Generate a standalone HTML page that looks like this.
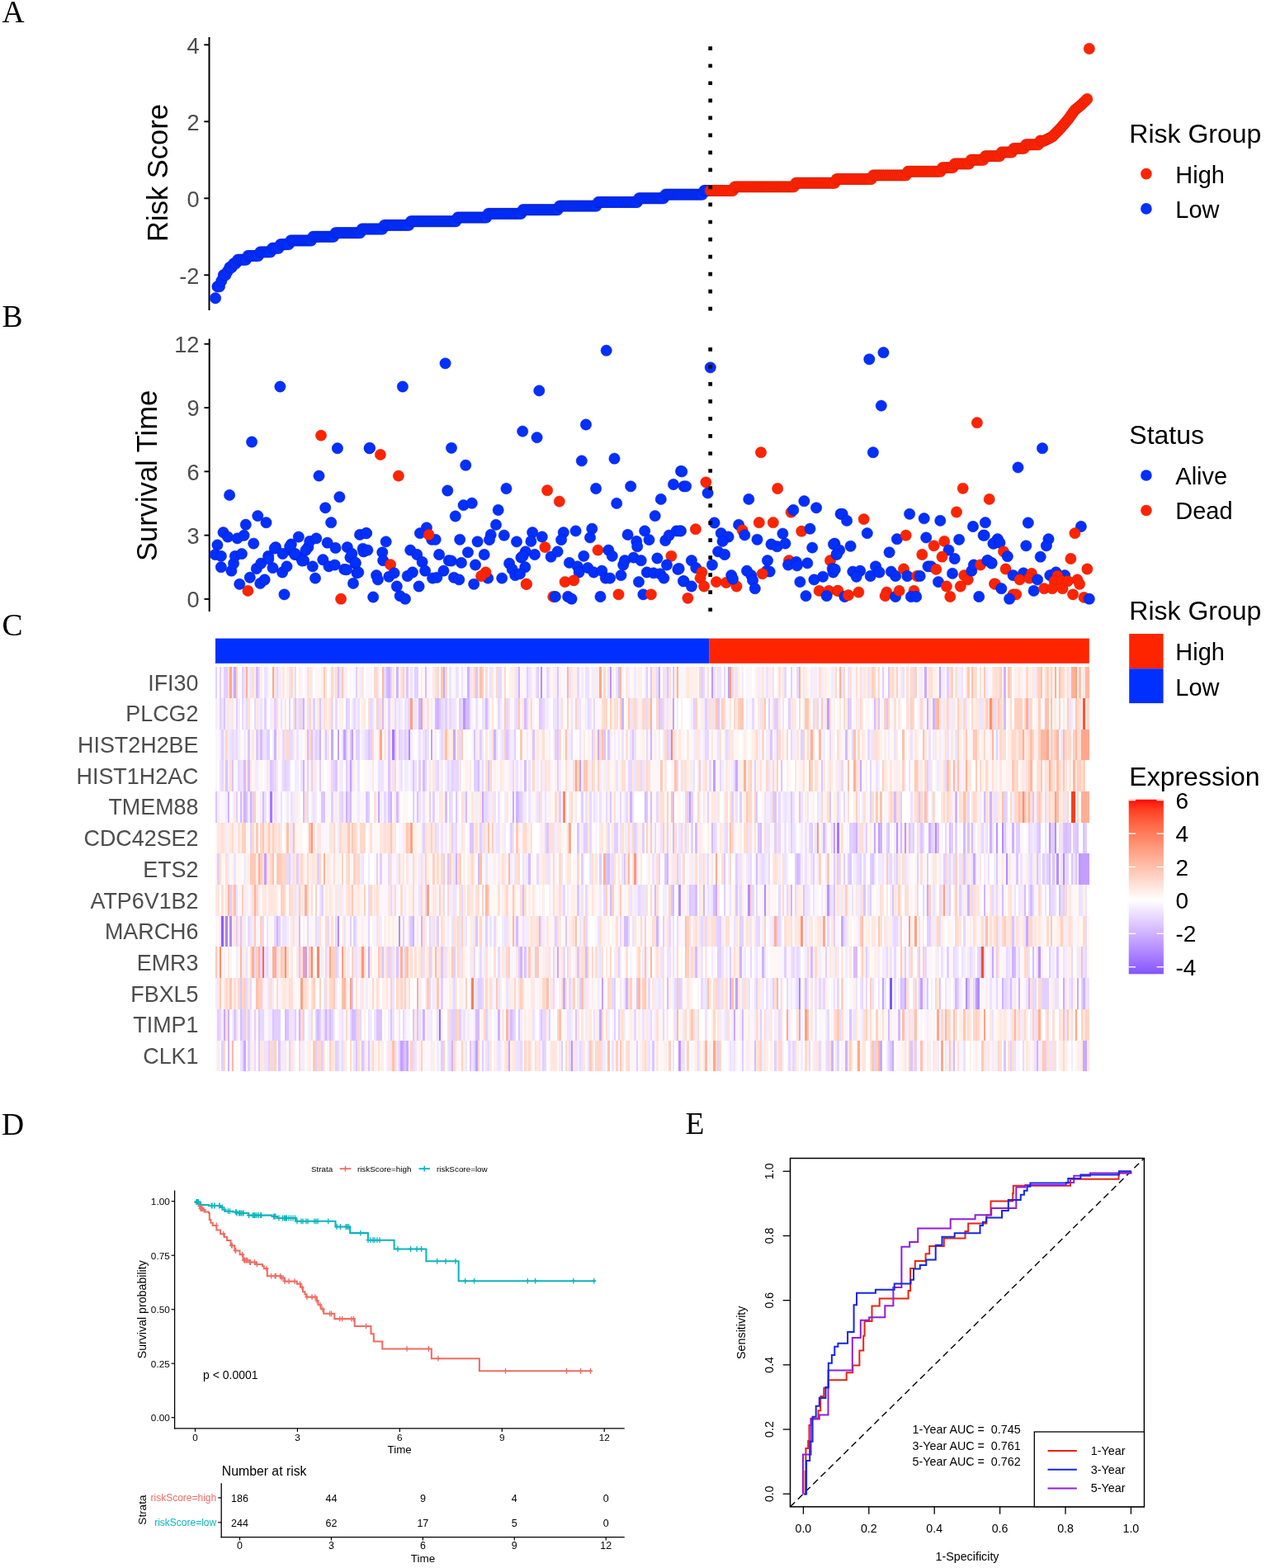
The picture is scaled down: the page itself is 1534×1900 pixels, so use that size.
<!DOCTYPE html>
<html><head><meta charset="utf-8"><title>Risk model figure</title>
<style>html,body{margin:0;padding:0;background:#fff;overflow:hidden;width:1534px;height:1900px;}svg{display:block;}.pb{fill:#0030ff;stroke:#0818b8;stroke-width:0.7;stroke-opacity:0.7}.pr{fill:#ff2400;stroke:#c01800;stroke-width:0.7;stroke-opacity:0.6}</style></head>
<body><svg width="1534" height="1900" viewBox="0 0 1534 1900">
<rect width="1534" height="1900" fill="#fff"/>
<text x="2.5" y="27" font-size="37.5" fill="#000" text-anchor="start" font-family="'Liberation Serif', 'Times New Roman', serif">A</text>
<text x="2.5" y="396.1" font-size="37.5" fill="#000" text-anchor="start" font-family="'Liberation Serif', 'Times New Roman', serif">B</text>
<text x="2.5" y="769.8" font-size="37.5" fill="#000" text-anchor="start" font-family="'Liberation Serif', 'Times New Roman', serif">C</text>
<text x="2" y="1374.6" font-size="37.5" fill="#000" text-anchor="start" font-family="'Liberation Serif', 'Times New Roman', serif">D</text>
<text x="830.5" y="1374.3" font-size="37.5" fill="#000" text-anchor="start" font-family="'Liberation Serif', 'Times New Roman', serif">E</text>
<line x1="253.5" y1="45" x2="253.5" y2="376" stroke="#000" stroke-width="2"/>
<line x1="247.3" y1="54.3" x2="253.5" y2="54.3" stroke="#000" stroke-width="1.9"/>
<text x="241.5" y="64.5" font-size="27.2" fill="#4d4d4d" text-anchor="end" font-family="'Liberation Sans', Arial, Helvetica, sans-serif">4</text>
<line x1="247.3" y1="147.3" x2="253.5" y2="147.3" stroke="#000" stroke-width="1.9"/>
<text x="241.5" y="157.5" font-size="27.2" fill="#4d4d4d" text-anchor="end" font-family="'Liberation Sans', Arial, Helvetica, sans-serif">2</text>
<line x1="247.3" y1="240.3" x2="253.5" y2="240.3" stroke="#000" stroke-width="1.9"/>
<text x="241.5" y="250.5" font-size="27.2" fill="#4d4d4d" text-anchor="end" font-family="'Liberation Sans', Arial, Helvetica, sans-serif">0</text>
<line x1="247.3" y1="333.3" x2="253.5" y2="333.3" stroke="#000" stroke-width="1.9"/>
<text x="241.5" y="343.5" font-size="27.2" fill="#4d4d4d" text-anchor="end" font-family="'Liberation Sans', Arial, Helvetica, sans-serif">-2</text>
<text x="202.7" y="209.5" font-size="34.5" fill="#000" text-anchor="middle" font-family="'Liberation Sans', Arial, Helvetica, sans-serif" transform="rotate(-90 202.7 209.5)">Risk Score</text>
<g>
<circle class="pb" cx="261" cy="361.2" r="6.7"/>
<circle class="pb" cx="263.47" cy="347.25" r="6.7"/>
<circle class="pb" cx="265.94" cy="347.25" r="6.7"/>
<circle class="pb" cx="268.4" cy="340.27" r="6.7"/>
<circle class="pb" cx="270.87" cy="333.3" r="6.7"/>
<circle class="pb" cx="273.34" cy="333.3" r="6.7"/>
<circle class="pb" cx="275.81" cy="328.65" r="6.7"/>
<circle class="pb" cx="278.28" cy="324" r="6.7"/>
<circle class="pb" cx="280.74" cy="324" r="6.7"/>
<circle class="pb" cx="283.21" cy="319.35" r="6.7"/>
<circle class="pb" cx="285.68" cy="319.35" r="6.7"/>
<circle class="pb" cx="288.15" cy="314.7" r="6.7"/>
<circle class="pb" cx="290.62" cy="314.7" r="6.7"/>
<circle class="pb" cx="293.08" cy="314.7" r="6.7"/>
<circle class="pb" cx="295.55" cy="314.7" r="6.7"/>
<circle class="pb" cx="298.02" cy="314.7" r="6.7"/>
<circle class="pb" cx="300.49" cy="310.05" r="6.7"/>
<circle class="pb" cx="302.96" cy="310.05" r="6.7"/>
<circle class="pb" cx="305.43" cy="310.05" r="6.7"/>
<circle class="pb" cx="307.89" cy="310.05" r="6.7"/>
<circle class="pb" cx="310.36" cy="310.05" r="6.7"/>
<circle class="pb" cx="312.83" cy="310.05" r="6.7"/>
<circle class="pb" cx="315.3" cy="305.4" r="6.7"/>
<circle class="pb" cx="317.77" cy="305.4" r="6.7"/>
<circle class="pb" cx="320.23" cy="305.4" r="6.7"/>
<circle class="pb" cx="322.7" cy="305.4" r="6.7"/>
<circle class="pb" cx="325.17" cy="305.4" r="6.7"/>
<circle class="pb" cx="327.64" cy="305.4" r="6.7"/>
<circle class="pb" cx="330.11" cy="300.75" r="6.7"/>
<circle class="pb" cx="332.57" cy="300.75" r="6.7"/>
<circle class="pb" cx="335.04" cy="300.75" r="6.7"/>
<circle class="pb" cx="337.51" cy="300.75" r="6.7"/>
<circle class="pb" cx="339.98" cy="296.1" r="6.7"/>
<circle class="pb" cx="342.45" cy="296.1" r="6.7"/>
<circle class="pb" cx="344.91" cy="296.1" r="6.7"/>
<circle class="pb" cx="347.38" cy="296.1" r="6.7"/>
<circle class="pb" cx="349.85" cy="296.1" r="6.7"/>
<circle class="pb" cx="352.32" cy="291.45" r="6.7"/>
<circle class="pb" cx="354.79" cy="291.45" r="6.7"/>
<circle class="pb" cx="357.25" cy="291.45" r="6.7"/>
<circle class="pb" cx="359.72" cy="291.45" r="6.7"/>
<circle class="pb" cx="362.19" cy="291.45" r="6.7"/>
<circle class="pb" cx="364.66" cy="291.45" r="6.7"/>
<circle class="pb" cx="367.13" cy="291.45" r="6.7"/>
<circle class="pb" cx="369.59" cy="291.45" r="6.7"/>
<circle class="pb" cx="372.06" cy="291.45" r="6.7"/>
<circle class="pb" cx="374.53" cy="291.45" r="6.7"/>
<circle class="pb" cx="377" cy="291.45" r="6.7"/>
<circle class="pb" cx="379.47" cy="286.8" r="6.7"/>
<circle class="pb" cx="381.94" cy="286.8" r="6.7"/>
<circle class="pb" cx="384.4" cy="286.8" r="6.7"/>
<circle class="pb" cx="386.87" cy="286.8" r="6.7"/>
<circle class="pb" cx="389.34" cy="286.8" r="6.7"/>
<circle class="pb" cx="391.81" cy="286.8" r="6.7"/>
<circle class="pb" cx="394.28" cy="286.8" r="6.7"/>
<circle class="pb" cx="396.74" cy="286.8" r="6.7"/>
<circle class="pb" cx="399.21" cy="286.8" r="6.7"/>
<circle class="pb" cx="401.68" cy="286.8" r="6.7"/>
<circle class="pb" cx="404.15" cy="286.8" r="6.7"/>
<circle class="pb" cx="406.62" cy="282.15" r="6.7"/>
<circle class="pb" cx="409.08" cy="282.15" r="6.7"/>
<circle class="pb" cx="411.55" cy="282.15" r="6.7"/>
<circle class="pb" cx="414.02" cy="282.15" r="6.7"/>
<circle class="pb" cx="416.49" cy="282.15" r="6.7"/>
<circle class="pb" cx="418.96" cy="282.15" r="6.7"/>
<circle class="pb" cx="421.42" cy="282.15" r="6.7"/>
<circle class="pb" cx="423.89" cy="282.15" r="6.7"/>
<circle class="pb" cx="426.36" cy="282.15" r="6.7"/>
<circle class="pb" cx="428.83" cy="282.15" r="6.7"/>
<circle class="pb" cx="431.3" cy="282.15" r="6.7"/>
<circle class="pb" cx="433.76" cy="282.15" r="6.7"/>
<circle class="pb" cx="436.23" cy="282.15" r="6.7"/>
<circle class="pb" cx="438.7" cy="277.5" r="6.7"/>
<circle class="pb" cx="441.17" cy="277.5" r="6.7"/>
<circle class="pb" cx="443.64" cy="277.5" r="6.7"/>
<circle class="pb" cx="446.1" cy="277.5" r="6.7"/>
<circle class="pb" cx="448.57" cy="277.5" r="6.7"/>
<circle class="pb" cx="451.04" cy="277.5" r="6.7"/>
<circle class="pb" cx="453.51" cy="277.5" r="6.7"/>
<circle class="pb" cx="455.98" cy="277.5" r="6.7"/>
<circle class="pb" cx="458.45" cy="277.5" r="6.7"/>
<circle class="pb" cx="460.91" cy="277.5" r="6.7"/>
<circle class="pb" cx="463.38" cy="277.5" r="6.7"/>
<circle class="pb" cx="465.85" cy="272.85" r="6.7"/>
<circle class="pb" cx="468.32" cy="272.85" r="6.7"/>
<circle class="pb" cx="470.79" cy="272.85" r="6.7"/>
<circle class="pb" cx="473.25" cy="272.85" r="6.7"/>
<circle class="pb" cx="475.72" cy="272.85" r="6.7"/>
<circle class="pb" cx="478.19" cy="272.85" r="6.7"/>
<circle class="pb" cx="480.66" cy="272.85" r="6.7"/>
<circle class="pb" cx="483.13" cy="272.85" r="6.7"/>
<circle class="pb" cx="485.59" cy="272.85" r="6.7"/>
<circle class="pb" cx="488.06" cy="272.85" r="6.7"/>
<circle class="pb" cx="490.53" cy="272.85" r="6.7"/>
<circle class="pb" cx="493" cy="272.85" r="6.7"/>
<circle class="pb" cx="495.47" cy="272.85" r="6.7"/>
<circle class="pb" cx="497.93" cy="268.2" r="6.7"/>
<circle class="pb" cx="500.4" cy="268.2" r="6.7"/>
<circle class="pb" cx="502.87" cy="268.2" r="6.7"/>
<circle class="pb" cx="505.34" cy="268.2" r="6.7"/>
<circle class="pb" cx="507.81" cy="268.2" r="6.7"/>
<circle class="pb" cx="510.27" cy="268.2" r="6.7"/>
<circle class="pb" cx="512.74" cy="268.2" r="6.7"/>
<circle class="pb" cx="515.21" cy="268.2" r="6.7"/>
<circle class="pb" cx="517.68" cy="268.2" r="6.7"/>
<circle class="pb" cx="520.15" cy="268.2" r="6.7"/>
<circle class="pb" cx="522.61" cy="268.2" r="6.7"/>
<circle class="pb" cx="525.08" cy="268.2" r="6.7"/>
<circle class="pb" cx="527.55" cy="268.2" r="6.7"/>
<circle class="pb" cx="530.02" cy="268.2" r="6.7"/>
<circle class="pb" cx="532.49" cy="268.2" r="6.7"/>
<circle class="pb" cx="534.96" cy="268.2" r="6.7"/>
<circle class="pb" cx="537.42" cy="268.2" r="6.7"/>
<circle class="pb" cx="539.89" cy="268.2" r="6.7"/>
<circle class="pb" cx="542.36" cy="268.2" r="6.7"/>
<circle class="pb" cx="544.83" cy="268.2" r="6.7"/>
<circle class="pb" cx="547.3" cy="268.2" r="6.7"/>
<circle class="pb" cx="549.76" cy="268.2" r="6.7"/>
<circle class="pb" cx="552.23" cy="268.2" r="6.7"/>
<circle class="pb" cx="554.7" cy="263.55" r="6.7"/>
<circle class="pb" cx="557.17" cy="263.55" r="6.7"/>
<circle class="pb" cx="559.64" cy="263.55" r="6.7"/>
<circle class="pb" cx="562.1" cy="263.55" r="6.7"/>
<circle class="pb" cx="564.57" cy="263.55" r="6.7"/>
<circle class="pb" cx="567.04" cy="263.55" r="6.7"/>
<circle class="pb" cx="569.51" cy="263.55" r="6.7"/>
<circle class="pb" cx="571.98" cy="263.55" r="6.7"/>
<circle class="pb" cx="574.44" cy="263.55" r="6.7"/>
<circle class="pb" cx="576.91" cy="263.55" r="6.7"/>
<circle class="pb" cx="579.38" cy="263.55" r="6.7"/>
<circle class="pb" cx="581.85" cy="263.55" r="6.7"/>
<circle class="pb" cx="584.32" cy="263.55" r="6.7"/>
<circle class="pb" cx="586.78" cy="263.55" r="6.7"/>
<circle class="pb" cx="589.25" cy="263.55" r="6.7"/>
<circle class="pb" cx="591.72" cy="258.9" r="6.7"/>
<circle class="pb" cx="594.19" cy="258.9" r="6.7"/>
<circle class="pb" cx="596.66" cy="258.9" r="6.7"/>
<circle class="pb" cx="599.12" cy="258.9" r="6.7"/>
<circle class="pb" cx="601.59" cy="258.9" r="6.7"/>
<circle class="pb" cx="604.06" cy="258.9" r="6.7"/>
<circle class="pb" cx="606.53" cy="258.9" r="6.7"/>
<circle class="pb" cx="609" cy="258.9" r="6.7"/>
<circle class="pb" cx="611.47" cy="258.9" r="6.7"/>
<circle class="pb" cx="613.93" cy="258.9" r="6.7"/>
<circle class="pb" cx="616.4" cy="258.9" r="6.7"/>
<circle class="pb" cx="618.87" cy="258.9" r="6.7"/>
<circle class="pb" cx="621.34" cy="258.9" r="6.7"/>
<circle class="pb" cx="623.81" cy="258.9" r="6.7"/>
<circle class="pb" cx="626.27" cy="258.9" r="6.7"/>
<circle class="pb" cx="628.74" cy="258.9" r="6.7"/>
<circle class="pb" cx="631.21" cy="258.9" r="6.7"/>
<circle class="pb" cx="633.68" cy="254.25" r="6.7"/>
<circle class="pb" cx="636.15" cy="254.25" r="6.7"/>
<circle class="pb" cx="638.61" cy="254.25" r="6.7"/>
<circle class="pb" cx="641.08" cy="254.25" r="6.7"/>
<circle class="pb" cx="643.55" cy="254.25" r="6.7"/>
<circle class="pb" cx="646.02" cy="254.25" r="6.7"/>
<circle class="pb" cx="648.49" cy="254.25" r="6.7"/>
<circle class="pb" cx="650.95" cy="254.25" r="6.7"/>
<circle class="pb" cx="653.42" cy="254.25" r="6.7"/>
<circle class="pb" cx="655.89" cy="254.25" r="6.7"/>
<circle class="pb" cx="658.36" cy="254.25" r="6.7"/>
<circle class="pb" cx="660.83" cy="254.25" r="6.7"/>
<circle class="pb" cx="663.29" cy="254.25" r="6.7"/>
<circle class="pb" cx="665.76" cy="254.25" r="6.7"/>
<circle class="pb" cx="668.23" cy="254.25" r="6.7"/>
<circle class="pb" cx="670.7" cy="254.25" r="6.7"/>
<circle class="pb" cx="673.17" cy="254.25" r="6.7"/>
<circle class="pb" cx="675.63" cy="254.25" r="6.7"/>
<circle class="pb" cx="678.1" cy="249.6" r="6.7"/>
<circle class="pb" cx="680.57" cy="249.6" r="6.7"/>
<circle class="pb" cx="683.04" cy="249.6" r="6.7"/>
<circle class="pb" cx="685.51" cy="249.6" r="6.7"/>
<circle class="pb" cx="687.98" cy="249.6" r="6.7"/>
<circle class="pb" cx="690.44" cy="249.6" r="6.7"/>
<circle class="pb" cx="692.91" cy="249.6" r="6.7"/>
<circle class="pb" cx="695.38" cy="249.6" r="6.7"/>
<circle class="pb" cx="697.85" cy="249.6" r="6.7"/>
<circle class="pb" cx="700.32" cy="249.6" r="6.7"/>
<circle class="pb" cx="702.78" cy="249.6" r="6.7"/>
<circle class="pb" cx="705.25" cy="249.6" r="6.7"/>
<circle class="pb" cx="707.72" cy="249.6" r="6.7"/>
<circle class="pb" cx="710.19" cy="249.6" r="6.7"/>
<circle class="pb" cx="712.66" cy="249.6" r="6.7"/>
<circle class="pb" cx="715.12" cy="249.6" r="6.7"/>
<circle class="pb" cx="717.59" cy="249.6" r="6.7"/>
<circle class="pb" cx="720.06" cy="249.6" r="6.7"/>
<circle class="pb" cx="722.53" cy="249.6" r="6.7"/>
<circle class="pb" cx="725" cy="244.95" r="6.7"/>
<circle class="pb" cx="727.46" cy="244.95" r="6.7"/>
<circle class="pb" cx="729.93" cy="244.95" r="6.7"/>
<circle class="pb" cx="732.4" cy="244.95" r="6.7"/>
<circle class="pb" cx="734.87" cy="244.95" r="6.7"/>
<circle class="pb" cx="737.34" cy="244.95" r="6.7"/>
<circle class="pb" cx="739.8" cy="244.95" r="6.7"/>
<circle class="pb" cx="742.27" cy="244.95" r="6.7"/>
<circle class="pb" cx="744.74" cy="244.95" r="6.7"/>
<circle class="pb" cx="747.21" cy="244.95" r="6.7"/>
<circle class="pb" cx="749.68" cy="244.95" r="6.7"/>
<circle class="pb" cx="752.14" cy="244.95" r="6.7"/>
<circle class="pb" cx="754.61" cy="244.95" r="6.7"/>
<circle class="pb" cx="757.08" cy="244.95" r="6.7"/>
<circle class="pb" cx="759.55" cy="244.95" r="6.7"/>
<circle class="pb" cx="762.02" cy="244.95" r="6.7"/>
<circle class="pb" cx="764.49" cy="244.95" r="6.7"/>
<circle class="pb" cx="766.95" cy="244.95" r="6.7"/>
<circle class="pb" cx="769.42" cy="244.95" r="6.7"/>
<circle class="pb" cx="771.89" cy="244.95" r="6.7"/>
<circle class="pb" cx="774.36" cy="240.3" r="6.7"/>
<circle class="pb" cx="776.83" cy="240.3" r="6.7"/>
<circle class="pb" cx="779.29" cy="240.3" r="6.7"/>
<circle class="pb" cx="781.76" cy="240.3" r="6.7"/>
<circle class="pb" cx="784.23" cy="240.3" r="6.7"/>
<circle class="pb" cx="786.7" cy="240.3" r="6.7"/>
<circle class="pb" cx="789.17" cy="240.3" r="6.7"/>
<circle class="pb" cx="791.63" cy="240.3" r="6.7"/>
<circle class="pb" cx="794.1" cy="240.3" r="6.7"/>
<circle class="pb" cx="796.57" cy="240.3" r="6.7"/>
<circle class="pb" cx="799.04" cy="240.3" r="6.7"/>
<circle class="pb" cx="801.51" cy="240.3" r="6.7"/>
<circle class="pb" cx="803.97" cy="240.3" r="6.7"/>
<circle class="pb" cx="806.44" cy="235.65" r="6.7"/>
<circle class="pb" cx="808.91" cy="235.65" r="6.7"/>
<circle class="pb" cx="811.38" cy="235.65" r="6.7"/>
<circle class="pb" cx="813.85" cy="235.65" r="6.7"/>
<circle class="pb" cx="816.31" cy="235.65" r="6.7"/>
<circle class="pb" cx="818.78" cy="235.65" r="6.7"/>
<circle class="pb" cx="821.25" cy="235.65" r="6.7"/>
<circle class="pb" cx="823.72" cy="235.65" r="6.7"/>
<circle class="pb" cx="826.19" cy="235.65" r="6.7"/>
<circle class="pb" cx="828.66" cy="235.65" r="6.7"/>
<circle class="pb" cx="831.12" cy="235.65" r="6.7"/>
<circle class="pb" cx="833.59" cy="235.65" r="6.7"/>
<circle class="pb" cx="836.06" cy="235.65" r="6.7"/>
<circle class="pb" cx="838.53" cy="235.65" r="6.7"/>
<circle class="pb" cx="841" cy="235.65" r="6.7"/>
<circle class="pb" cx="843.46" cy="235.65" r="6.7"/>
<circle class="pb" cx="845.93" cy="235.65" r="6.7"/>
<circle class="pb" cx="848.4" cy="235.65" r="6.7"/>
<circle class="pb" cx="850.87" cy="235.65" r="6.7"/>
<circle class="pb" cx="853.34" cy="231" r="6.7"/>
<circle class="pb" cx="855.8" cy="231" r="6.7"/>
<circle class="pb" cx="858.27" cy="231" r="6.7"/>
<circle class="pr" cx="860.74" cy="231" r="6.7"/>
<circle class="pr" cx="863.21" cy="231" r="6.7"/>
<circle class="pr" cx="865.68" cy="231" r="6.7"/>
<circle class="pr" cx="868.14" cy="231" r="6.7"/>
<circle class="pr" cx="870.61" cy="231" r="6.7"/>
<circle class="pr" cx="873.08" cy="231" r="6.7"/>
<circle class="pr" cx="875.55" cy="231" r="6.7"/>
<circle class="pr" cx="878.02" cy="231" r="6.7"/>
<circle class="pr" cx="880.48" cy="231" r="6.7"/>
<circle class="pr" cx="882.95" cy="231" r="6.7"/>
<circle class="pr" cx="885.42" cy="231" r="6.7"/>
<circle class="pr" cx="887.89" cy="231" r="6.7"/>
<circle class="pr" cx="890.36" cy="226.35" r="6.7"/>
<circle class="pr" cx="892.82" cy="226.35" r="6.7"/>
<circle class="pr" cx="895.29" cy="226.35" r="6.7"/>
<circle class="pr" cx="897.76" cy="226.35" r="6.7"/>
<circle class="pr" cx="900.23" cy="226.35" r="6.7"/>
<circle class="pr" cx="902.7" cy="226.35" r="6.7"/>
<circle class="pr" cx="905.17" cy="226.35" r="6.7"/>
<circle class="pr" cx="907.63" cy="226.35" r="6.7"/>
<circle class="pr" cx="910.1" cy="226.35" r="6.7"/>
<circle class="pr" cx="912.57" cy="226.35" r="6.7"/>
<circle class="pr" cx="915.04" cy="226.35" r="6.7"/>
<circle class="pr" cx="917.51" cy="226.35" r="6.7"/>
<circle class="pr" cx="919.97" cy="226.35" r="6.7"/>
<circle class="pr" cx="922.44" cy="226.35" r="6.7"/>
<circle class="pr" cx="924.91" cy="226.35" r="6.7"/>
<circle class="pr" cx="927.38" cy="226.35" r="6.7"/>
<circle class="pr" cx="929.85" cy="226.35" r="6.7"/>
<circle class="pr" cx="932.31" cy="226.35" r="6.7"/>
<circle class="pr" cx="934.78" cy="226.35" r="6.7"/>
<circle class="pr" cx="937.25" cy="226.35" r="6.7"/>
<circle class="pr" cx="939.72" cy="226.35" r="6.7"/>
<circle class="pr" cx="942.19" cy="226.35" r="6.7"/>
<circle class="pr" cx="944.65" cy="226.35" r="6.7"/>
<circle class="pr" cx="947.12" cy="226.35" r="6.7"/>
<circle class="pr" cx="949.59" cy="226.35" r="6.7"/>
<circle class="pr" cx="952.06" cy="226.35" r="6.7"/>
<circle class="pr" cx="954.53" cy="226.35" r="6.7"/>
<circle class="pr" cx="956.99" cy="226.35" r="6.7"/>
<circle class="pr" cx="959.46" cy="226.35" r="6.7"/>
<circle class="pr" cx="961.93" cy="226.35" r="6.7"/>
<circle class="pr" cx="964.4" cy="221.7" r="6.7"/>
<circle class="pr" cx="966.87" cy="221.7" r="6.7"/>
<circle class="pr" cx="969.33" cy="221.7" r="6.7"/>
<circle class="pr" cx="971.8" cy="221.7" r="6.7"/>
<circle class="pr" cx="974.27" cy="221.7" r="6.7"/>
<circle class="pr" cx="976.74" cy="221.7" r="6.7"/>
<circle class="pr" cx="979.21" cy="221.7" r="6.7"/>
<circle class="pr" cx="981.68" cy="221.7" r="6.7"/>
<circle class="pr" cx="984.14" cy="221.7" r="6.7"/>
<circle class="pr" cx="986.61" cy="221.7" r="6.7"/>
<circle class="pr" cx="989.08" cy="221.7" r="6.7"/>
<circle class="pr" cx="991.55" cy="221.7" r="6.7"/>
<circle class="pr" cx="994.02" cy="221.7" r="6.7"/>
<circle class="pr" cx="996.48" cy="221.7" r="6.7"/>
<circle class="pr" cx="998.95" cy="221.7" r="6.7"/>
<circle class="pr" cx="1001.42" cy="221.7" r="6.7"/>
<circle class="pr" cx="1003.89" cy="221.7" r="6.7"/>
<circle class="pr" cx="1006.36" cy="221.7" r="6.7"/>
<circle class="pr" cx="1008.82" cy="221.7" r="6.7"/>
<circle class="pr" cx="1011.29" cy="221.7" r="6.7"/>
<circle class="pr" cx="1013.76" cy="217.05" r="6.7"/>
<circle class="pr" cx="1016.23" cy="217.05" r="6.7"/>
<circle class="pr" cx="1018.7" cy="217.05" r="6.7"/>
<circle class="pr" cx="1021.16" cy="217.05" r="6.7"/>
<circle class="pr" cx="1023.63" cy="217.05" r="6.7"/>
<circle class="pr" cx="1026.1" cy="217.05" r="6.7"/>
<circle class="pr" cx="1028.57" cy="217.05" r="6.7"/>
<circle class="pr" cx="1031.04" cy="217.05" r="6.7"/>
<circle class="pr" cx="1033.5" cy="217.05" r="6.7"/>
<circle class="pr" cx="1035.97" cy="217.05" r="6.7"/>
<circle class="pr" cx="1038.44" cy="217.05" r="6.7"/>
<circle class="pr" cx="1040.91" cy="217.05" r="6.7"/>
<circle class="pr" cx="1043.38" cy="217.05" r="6.7"/>
<circle class="pr" cx="1045.84" cy="217.05" r="6.7"/>
<circle class="pr" cx="1048.31" cy="217.05" r="6.7"/>
<circle class="pr" cx="1050.78" cy="217.05" r="6.7"/>
<circle class="pr" cx="1053.25" cy="217.05" r="6.7"/>
<circle class="pr" cx="1055.72" cy="217.05" r="6.7"/>
<circle class="pr" cx="1058.19" cy="212.4" r="6.7"/>
<circle class="pr" cx="1060.65" cy="212.4" r="6.7"/>
<circle class="pr" cx="1063.12" cy="212.4" r="6.7"/>
<circle class="pr" cx="1065.59" cy="212.4" r="6.7"/>
<circle class="pr" cx="1068.06" cy="212.4" r="6.7"/>
<circle class="pr" cx="1070.53" cy="212.4" r="6.7"/>
<circle class="pr" cx="1072.99" cy="212.4" r="6.7"/>
<circle class="pr" cx="1075.46" cy="212.4" r="6.7"/>
<circle class="pr" cx="1077.93" cy="212.4" r="6.7"/>
<circle class="pr" cx="1080.4" cy="212.4" r="6.7"/>
<circle class="pr" cx="1082.87" cy="212.4" r="6.7"/>
<circle class="pr" cx="1085.33" cy="212.4" r="6.7"/>
<circle class="pr" cx="1087.8" cy="212.4" r="6.7"/>
<circle class="pr" cx="1090.27" cy="212.4" r="6.7"/>
<circle class="pr" cx="1092.74" cy="212.4" r="6.7"/>
<circle class="pr" cx="1095.21" cy="212.4" r="6.7"/>
<circle class="pr" cx="1097.67" cy="212.4" r="6.7"/>
<circle class="pr" cx="1100.14" cy="207.75" r="6.7"/>
<circle class="pr" cx="1102.61" cy="207.75" r="6.7"/>
<circle class="pr" cx="1105.08" cy="207.75" r="6.7"/>
<circle class="pr" cx="1107.55" cy="207.75" r="6.7"/>
<circle class="pr" cx="1110.01" cy="207.75" r="6.7"/>
<circle class="pr" cx="1112.48" cy="207.75" r="6.7"/>
<circle class="pr" cx="1114.95" cy="207.75" r="6.7"/>
<circle class="pr" cx="1117.42" cy="207.75" r="6.7"/>
<circle class="pr" cx="1119.89" cy="207.75" r="6.7"/>
<circle class="pr" cx="1122.35" cy="207.75" r="6.7"/>
<circle class="pr" cx="1124.82" cy="207.75" r="6.7"/>
<circle class="pr" cx="1127.29" cy="207.75" r="6.7"/>
<circle class="pr" cx="1129.76" cy="207.75" r="6.7"/>
<circle class="pr" cx="1132.23" cy="207.75" r="6.7"/>
<circle class="pr" cx="1134.7" cy="207.75" r="6.7"/>
<circle class="pr" cx="1137.16" cy="207.75" r="6.7"/>
<circle class="pr" cx="1139.63" cy="207.75" r="6.7"/>
<circle class="pr" cx="1142.1" cy="203.1" r="6.7"/>
<circle class="pr" cx="1144.57" cy="203.1" r="6.7"/>
<circle class="pr" cx="1147.04" cy="203.1" r="6.7"/>
<circle class="pr" cx="1149.5" cy="203.1" r="6.7"/>
<circle class="pr" cx="1151.97" cy="203.1" r="6.7"/>
<circle class="pr" cx="1154.44" cy="203.1" r="6.7"/>
<circle class="pr" cx="1156.91" cy="198.45" r="6.7"/>
<circle class="pr" cx="1159.38" cy="198.45" r="6.7"/>
<circle class="pr" cx="1161.84" cy="198.45" r="6.7"/>
<circle class="pr" cx="1164.31" cy="198.45" r="6.7"/>
<circle class="pr" cx="1166.78" cy="198.45" r="6.7"/>
<circle class="pr" cx="1169.25" cy="198.45" r="6.7"/>
<circle class="pr" cx="1171.72" cy="198.45" r="6.7"/>
<circle class="pr" cx="1174.18" cy="198.45" r="6.7"/>
<circle class="pr" cx="1176.65" cy="193.8" r="6.7"/>
<circle class="pr" cx="1179.12" cy="193.8" r="6.7"/>
<circle class="pr" cx="1181.59" cy="193.8" r="6.7"/>
<circle class="pr" cx="1184.06" cy="193.8" r="6.7"/>
<circle class="pr" cx="1186.52" cy="193.8" r="6.7"/>
<circle class="pr" cx="1188.99" cy="193.8" r="6.7"/>
<circle class="pr" cx="1191.46" cy="193.8" r="6.7"/>
<circle class="pr" cx="1193.93" cy="189.15" r="6.7"/>
<circle class="pr" cx="1196.4" cy="189.15" r="6.7"/>
<circle class="pr" cx="1198.86" cy="189.15" r="6.7"/>
<circle class="pr" cx="1201.33" cy="189.15" r="6.7"/>
<circle class="pr" cx="1203.8" cy="189.15" r="6.7"/>
<circle class="pr" cx="1206.27" cy="189.15" r="6.7"/>
<circle class="pr" cx="1208.74" cy="189.15" r="6.7"/>
<circle class="pr" cx="1211.21" cy="189.15" r="6.7"/>
<circle class="pr" cx="1213.67" cy="184.5" r="6.7"/>
<circle class="pr" cx="1216.14" cy="184.5" r="6.7"/>
<circle class="pr" cx="1218.61" cy="184.5" r="6.7"/>
<circle class="pr" cx="1221.08" cy="184.5" r="6.7"/>
<circle class="pr" cx="1223.55" cy="184.5" r="6.7"/>
<circle class="pr" cx="1226.01" cy="184.5" r="6.7"/>
<circle class="pr" cx="1228.48" cy="179.85" r="6.7"/>
<circle class="pr" cx="1230.95" cy="179.85" r="6.7"/>
<circle class="pr" cx="1233.42" cy="179.85" r="6.7"/>
<circle class="pr" cx="1235.89" cy="179.85" r="6.7"/>
<circle class="pr" cx="1238.35" cy="179.85" r="6.7"/>
<circle class="pr" cx="1240.82" cy="179.85" r="6.7"/>
<circle class="pr" cx="1243.29" cy="175.2" r="6.7"/>
<circle class="pr" cx="1245.76" cy="175.2" r="6.7"/>
<circle class="pr" cx="1248.23" cy="175.2" r="6.7"/>
<circle class="pr" cx="1250.69" cy="175.2" r="6.7"/>
<circle class="pr" cx="1253.16" cy="175.2" r="6.7"/>
<circle class="pr" cx="1255.63" cy="175.2" r="6.7"/>
<circle class="pr" cx="1258.1" cy="175.2" r="6.7"/>
<circle class="pr" cx="1260.57" cy="170.55" r="6.7"/>
<circle class="pr" cx="1263.03" cy="171.34" r="6.7"/>
<circle class="pr" cx="1265.5" cy="170.4" r="6.7"/>
<circle class="pr" cx="1267.97" cy="169.21" r="6.7"/>
<circle class="pr" cx="1270.44" cy="168.01" r="6.7"/>
<circle class="pr" cx="1272.91" cy="166.82" r="6.7"/>
<circle class="pr" cx="1275.37" cy="165.32" r="6.7"/>
<circle class="pr" cx="1277.84" cy="162.8" r="6.7"/>
<circle class="pr" cx="1280.31" cy="160.29" r="6.7"/>
<circle class="pr" cx="1282.78" cy="157.78" r="6.7"/>
<circle class="pr" cx="1285.25" cy="155.15" r="6.7"/>
<circle class="pr" cx="1287.72" cy="152.28" r="6.7"/>
<circle class="pr" cx="1290.18" cy="149.41" r="6.7"/>
<circle class="pr" cx="1292.65" cy="146.54" r="6.7"/>
<circle class="pr" cx="1295.12" cy="143.39" r="6.7"/>
<circle class="pr" cx="1297.59" cy="139.91" r="6.7"/>
<circle class="pr" cx="1300.06" cy="136.42" r="6.7"/>
<circle class="pr" cx="1302.52" cy="133.31" r="6.7"/>
<circle class="pr" cx="1304.99" cy="131.3" r="6.7"/>
<circle class="pr" cx="1307.46" cy="129.29" r="6.7"/>
<circle class="pr" cx="1309.93" cy="127.28" r="6.7"/>
<circle class="pr" cx="1312.4" cy="124.84" r="6.7"/>
<circle class="pr" cx="1314.86" cy="122.4" r="6.7"/>
<circle class="pr" cx="1317.33" cy="119.96" r="6.7"/>
<circle class="pr" cx="1319.8" cy="58.95" r="6.7"/>
</g>
<line x1="860.7" y1="56.35" x2="860.7" y2="378" stroke="#000" stroke-width="4.7" stroke-dasharray="4.7 16.33"/>
<text x="1368.3" y="172.9" font-size="32" fill="#000" text-anchor="start" font-family="'Liberation Sans', Arial, Helvetica, sans-serif">Risk Group</text>
<circle cx="1388.9" cy="210.6" r="6.8" fill="#ff2400"/>
<text x="1424.3" y="221.7" font-size="29" fill="#000" text-anchor="start" font-family="'Liberation Sans', Arial, Helvetica, sans-serif">High</text>
<circle cx="1388.9" cy="252.9" r="6.8" fill="#0030ff"/>
<text x="1424.3" y="263.6" font-size="29" fill="#000" text-anchor="start" font-family="'Liberation Sans', Arial, Helvetica, sans-serif">Low</text>
<line x1="253.7" y1="410.5" x2="253.7" y2="741" stroke="#000" stroke-width="2"/>
<line x1="247.5" y1="725.9" x2="253.7" y2="725.9" stroke="#000" stroke-width="1.9"/>
<text x="241.5" y="736.1" font-size="27.2" fill="#4d4d4d" text-anchor="end" font-family="'Liberation Sans', Arial, Helvetica, sans-serif">0</text>
<line x1="247.5" y1="648.63" x2="253.7" y2="648.63" stroke="#000" stroke-width="1.9"/>
<text x="241.5" y="658.83" font-size="27.2" fill="#4d4d4d" text-anchor="end" font-family="'Liberation Sans', Arial, Helvetica, sans-serif">3</text>
<line x1="247.5" y1="571.35" x2="253.7" y2="571.35" stroke="#000" stroke-width="1.9"/>
<text x="241.5" y="581.55" font-size="27.2" fill="#4d4d4d" text-anchor="end" font-family="'Liberation Sans', Arial, Helvetica, sans-serif">6</text>
<line x1="247.5" y1="494.08" x2="253.7" y2="494.08" stroke="#000" stroke-width="1.9"/>
<text x="241.5" y="504.28" font-size="27.2" fill="#4d4d4d" text-anchor="end" font-family="'Liberation Sans', Arial, Helvetica, sans-serif">9</text>
<line x1="247.5" y1="416.8" x2="253.7" y2="416.8" stroke="#000" stroke-width="1.9"/>
<text x="241.5" y="427" font-size="27.2" fill="#4d4d4d" text-anchor="end" font-family="'Liberation Sans', Arial, Helvetica, sans-serif">12</text>
<text x="190.5" y="576.4" font-size="34.5" fill="#000" text-anchor="middle" font-family="'Liberation Sans', Arial, Helvetica, sans-serif" transform="rotate(-90 190.5 576.4)">Survival Time</text>
<g>
<circle class="pb" cx="339.4" cy="468.5" r="6.65"/>
<circle class="pb" cx="305.1" cy="535.5" r="6.65"/>
<circle class="pr" cx="389" cy="527.6" r="6.65"/>
<circle class="pb" cx="408.9" cy="543.2" r="6.65"/>
<circle class="pb" cx="447.7" cy="543.2" r="6.65"/>
<circle class="pb" cx="386.5" cy="576.6" r="6.65"/>
<circle class="pb" cx="278.1" cy="599.9" r="6.65"/>
<circle class="pb" cx="411.4" cy="602.2" r="6.65"/>
<circle class="pb" cx="394.2" cy="615.3" r="6.65"/>
<circle class="pb" cx="401.2" cy="633.2" r="6.65"/>
<circle class="pb" cx="312.3" cy="625.1" r="6.65"/>
<circle class="pb" cx="322.5" cy="633.2" r="6.65"/>
<circle class="pb" cx="297.8" cy="635.7" r="6.65"/>
<circle class="pb" cx="436" cy="647.9" r="6.65"/>
<circle class="pb" cx="444.1" cy="646.1" r="6.65"/>
<circle class="pr" cx="300.4" cy="715.9" r="6.65"/>
<circle class="pr" cx="413.1" cy="725.7" r="6.65"/>
<circle class="pb" cx="344.5" cy="720.3" r="6.65"/>
<circle class="pb" cx="270.57" cy="645.17" r="6.65"/>
<circle class="pb" cx="275.94" cy="650.54" r="6.65"/>
<circle class="pb" cx="263.42" cy="660.38" r="6.65"/>
<circle class="pb" cx="260.73" cy="672.01" r="6.65"/>
<circle class="pb" cx="267.89" cy="673.8" r="6.65"/>
<circle class="pb" cx="267.89" cy="687.22" r="6.65"/>
<circle class="pb" cx="280.41" cy="691.7" r="6.65"/>
<circle class="pb" cx="283.09" cy="682.75" r="6.65"/>
<circle class="pb" cx="284.88" cy="673.8" r="6.65"/>
<circle class="pb" cx="292.93" cy="671.12" r="6.65"/>
<circle class="pb" cx="287.57" cy="652.33" r="6.65"/>
<circle class="pb" cx="295.62" cy="648.75" r="6.65"/>
<circle class="pb" cx="307.25" cy="658.59" r="6.65"/>
<circle class="pb" cx="290.25" cy="707.8" r="6.65"/>
<circle class="pb" cx="302.77" cy="699.75" r="6.65"/>
<circle class="pb" cx="310.82" cy="689.01" r="6.65"/>
<circle class="pb" cx="316.19" cy="682.75" r="6.65"/>
<circle class="pb" cx="315.3" cy="706.91" r="6.65"/>
<circle class="pb" cx="320.66" cy="702.43" r="6.65"/>
<circle class="pb" cx="325.13" cy="673.8" r="6.65"/>
<circle class="pb" cx="330.5" cy="688.12" r="6.65"/>
<circle class="pb" cx="334.08" cy="663.06" r="6.65"/>
<circle class="pb" cx="342.13" cy="693.49" r="6.65"/>
<circle class="pb" cx="347.5" cy="686.33" r="6.65"/>
<circle class="pb" cx="352.86" cy="659.48" r="6.65"/>
<circle class="pb" cx="351.97" cy="666.64" r="6.65"/>
<circle class="pb" cx="357.33" cy="672.01" r="6.65"/>
<circle class="pb" cx="361.81" cy="650.54" r="6.65"/>
<circle class="pb" cx="364.49" cy="675.59" r="6.65"/>
<circle class="pb" cx="368.07" cy="679.17" r="6.65"/>
<circle class="pb" cx="373.43" cy="663.06" r="6.65"/>
<circle class="pb" cx="375.22" cy="655.91" r="6.65"/>
<circle class="pb" cx="383.27" cy="652.33" r="6.65"/>
<circle class="pb" cx="378.8" cy="686.33" r="6.65"/>
<circle class="pb" cx="382.02" cy="700.64" r="6.65"/>
<circle class="pb" cx="391.32" cy="678.27" r="6.65"/>
<circle class="pb" cx="396.69" cy="657.7" r="6.65"/>
<circle class="pb" cx="398.48" cy="686.33" r="6.65"/>
<circle class="pb" cx="405.64" cy="684.54" r="6.65"/>
<circle class="pb" cx="406.53" cy="663.96" r="6.65"/>
<circle class="pb" cx="417.26" cy="689.91" r="6.65"/>
<circle class="pb" cx="420.84" cy="663.06" r="6.65"/>
<circle class="pb" cx="424.42" cy="675.59" r="6.65"/>
<circle class="pb" cx="430.68" cy="682.75" r="6.65"/>
<circle class="pb" cx="432.47" cy="694.38" r="6.65"/>
<circle class="pb" cx="428" cy="706.91" r="6.65"/>
<circle class="pb" cx="439.62" cy="664.85" r="6.65"/>
<circle class="pb" cx="434.26" cy="693.49" r="6.65"/>
<circle class="pb" cx="440.52" cy="668.43" r="6.65"/>
<circle class="pb" cx="539.6" cy="440.3" r="6.65"/>
<circle class="pb" cx="487.9" cy="468.5" r="6.65"/>
<circle class="pb" cx="633.2" cy="522.6" r="6.65"/>
<circle class="pb" cx="448" cy="542.8" r="6.65"/>
<circle class="pr" cx="460.9" cy="550.9" r="6.65"/>
<circle class="pb" cx="547" cy="542.8" r="6.65"/>
<circle class="pb" cx="564.3" cy="563.7" r="6.65"/>
<circle class="pr" cx="482.9" cy="576.6" r="6.65"/>
<circle class="pb" cx="542.3" cy="594.5" r="6.65"/>
<circle class="pb" cx="613.5" cy="592" r="6.65"/>
<circle class="pb" cx="561.6" cy="612.1" r="6.65"/>
<circle class="pb" cx="571.8" cy="609.7" r="6.65"/>
<circle class="pb" cx="603.7" cy="618" r="6.65"/>
<circle class="pb" cx="551.8" cy="625.5" r="6.65"/>
<circle class="pb" cx="601" cy="635.9" r="6.65"/>
<circle class="pb" cx="516.9" cy="639.4" r="6.65"/>
<circle class="pb" cx="508.9" cy="646.1" r="6.65"/>
<circle class="pb" cx="523.2" cy="653.8" r="6.65"/>
<circle class="pb" cx="527.7" cy="653.8" r="6.65"/>
<circle class="pr" cx="519.6" cy="647.9" r="6.65"/>
<circle class="pb" cx="443.6" cy="646.1" r="6.65"/>
<circle class="pb" cx="467.7" cy="656.4" r="6.65"/>
<circle class="pb" cx="557.2" cy="653.8" r="6.65"/>
<circle class="pb" cx="578.6" cy="656.3" r="6.65"/>
<circle class="pb" cx="594.7" cy="647.9" r="6.65"/>
<circle class="pb" cx="593" cy="654.1" r="6.65"/>
<circle class="pb" cx="610.8" cy="648.7" r="6.65"/>
<circle class="pb" cx="626" cy="656.4" r="6.65"/>
<circle class="pb" cx="445.4" cy="666.6" r="6.65"/>
<circle class="pb" cx="463.3" cy="669.3" r="6.65"/>
<circle class="pb" cx="464.2" cy="679.2" r="6.65"/>
<circle class="pr" cx="473.1" cy="684.2" r="6.65"/>
<circle class="pb" cx="497.2" cy="666.6" r="6.65"/>
<circle class="pb" cx="505.3" cy="672" r="6.65"/>
<circle class="pb" cx="511.6" cy="681" r="6.65"/>
<circle class="pb" cx="515.1" cy="691.7" r="6.65"/>
<circle class="pb" cx="532.1" cy="672" r="6.65"/>
<circle class="pb" cx="543.8" cy="679.2" r="6.65"/>
<circle class="pb" cx="537.5" cy="691.7" r="6.65"/>
<circle class="pb" cx="567" cy="669.3" r="6.65"/>
<circle class="pb" cx="586.7" cy="672" r="6.65"/>
<circle class="pb" cx="559" cy="681.9" r="6.65"/>
<circle class="pb" cx="576" cy="684.5" r="6.65"/>
<circle class="pb" cx="591.2" cy="700.6" r="6.65"/>
<circle class="pb" cx="608.2" cy="700.6" r="6.65"/>
<circle class="pr" cx="588.5" cy="693.5" r="6.65"/>
<circle class="pr" cx="583.1" cy="698" r="6.65"/>
<circle class="pb" cx="617.1" cy="682.7" r="6.65"/>
<circle class="pb" cx="620.7" cy="689.9" r="6.65"/>
<circle class="pb" cx="624.3" cy="697.1" r="6.65"/>
<circle class="pb" cx="631.4" cy="675.6" r="6.65"/>
<circle class="pb" cx="636.8" cy="668.4" r="6.65"/>
<circle class="pb" cx="456.1" cy="697.1" r="6.65"/>
<circle class="pb" cx="457.9" cy="702.4" r="6.65"/>
<circle class="pb" cx="471.3" cy="698.8" r="6.65"/>
<circle class="pb" cx="477.6" cy="694.4" r="6.65"/>
<circle class="pb" cx="493.7" cy="698" r="6.65"/>
<circle class="pb" cx="499.9" cy="693.5" r="6.65"/>
<circle class="pb" cx="524.1" cy="700.6" r="6.65"/>
<circle class="pb" cx="529.4" cy="699.8" r="6.65"/>
<circle class="pb" cx="550" cy="699.8" r="6.65"/>
<circle class="pb" cx="556.3" cy="702.4" r="6.65"/>
<circle class="pb" cx="480.8" cy="710.5" r="6.65"/>
<circle class="pb" cx="507.6" cy="710.5" r="6.65"/>
<circle class="pb" cx="574.2" cy="707.8" r="6.65"/>
<circle class="pb" cx="452.2" cy="723.5" r="6.65"/>
<circle class="pb" cx="484.7" cy="722.1" r="6.65"/>
<circle class="pb" cx="491" cy="725.7" r="6.65"/>
<circle class="pr" cx="637.7" cy="707.8" r="6.65"/>
<circle class="pb" cx="734.7" cy="424.7" r="6.65"/>
<circle class="pb" cx="653.3" cy="473.4" r="6.65"/>
<circle class="pb" cx="710" cy="514.5" r="6.65"/>
<circle class="pb" cx="650.6" cy="530.1" r="6.65"/>
<circle class="pb" cx="704.8" cy="558.4" r="6.65"/>
<circle class="pb" cx="744.5" cy="555.7" r="6.65"/>
<circle class="pb" cx="825" cy="570.9" r="6.65"/>
<circle class="pb" cx="816" cy="587" r="6.65"/>
<circle class="pb" cx="828.6" cy="589.3" r="6.65"/>
<circle class="pr" cx="663.1" cy="594.2" r="6.65"/>
<circle class="pr" cx="677.8" cy="607.6" r="6.65"/>
<circle class="pb" cx="722.1" cy="592" r="6.65"/>
<circle class="pb" cx="764.2" cy="589.3" r="6.65"/>
<circle class="pb" cx="747.2" cy="609.9" r="6.65"/>
<circle class="pb" cx="800.8" cy="604.9" r="6.65"/>
<circle class="pb" cx="793.7" cy="625.1" r="6.65"/>
<circle class="pb" cx="645.2" cy="645.2" r="6.65"/>
<circle class="pb" cx="656.8" cy="650.5" r="6.65"/>
<circle class="pb" cx="643.4" cy="655.9" r="6.65"/>
<circle class="pb" cx="682.8" cy="645.2" r="6.65"/>
<circle class="pb" cx="680.1" cy="654.1" r="6.65"/>
<circle class="pb" cx="697.6" cy="643.4" r="6.65"/>
<circle class="pb" cx="717.3" cy="640.7" r="6.65"/>
<circle class="pb" cx="715" cy="651.4" r="6.65"/>
<circle class="pb" cx="760.6" cy="647.9" r="6.65"/>
<circle class="pb" cx="771.3" cy="655.9" r="6.65"/>
<circle class="pb" cx="772.2" cy="662.2" r="6.65"/>
<circle class="pb" cx="781.2" cy="643.4" r="6.65"/>
<circle class="pb" cx="786.5" cy="654.1" r="6.65"/>
<circle class="pb" cx="806.2" cy="655" r="6.65"/>
<circle class="pb" cx="810.7" cy="648.7" r="6.65"/>
<circle class="pb" cx="819.6" cy="643.4" r="6.65"/>
<circle class="pb" cx="825" cy="643.4" r="6.65"/>
<circle class="pr" cx="660.4" cy="663.1" r="6.65"/>
<circle class="pr" cx="724.5" cy="666.6" r="6.65"/>
<circle class="pb" cx="737.3" cy="666.6" r="6.65"/>
<circle class="pb" cx="741.8" cy="673.8" r="6.65"/>
<circle class="pb" cx="633.6" cy="673.8" r="6.65"/>
<circle class="pb" cx="647.9" cy="672" r="6.65"/>
<circle class="pb" cx="667.6" cy="674.7" r="6.65"/>
<circle class="pb" cx="675.6" cy="668.4" r="6.65"/>
<circle class="pb" cx="707.3" cy="673.8" r="6.65"/>
<circle class="pb" cx="767.7" cy="675.6" r="6.65"/>
<circle class="pb" cx="776.7" cy="679.2" r="6.65"/>
<circle class="pb" cx="796.4" cy="676.5" r="6.65"/>
<circle class="pr" cx="813.4" cy="673.8" r="6.65"/>
<circle class="pb" cx="636.3" cy="687.2" r="6.65"/>
<circle class="pb" cx="630" cy="695.3" r="6.65"/>
<circle class="pb" cx="689.9" cy="681.9" r="6.65"/>
<circle class="pb" cx="699.8" cy="686.3" r="6.65"/>
<circle class="pb" cx="701.6" cy="693.5" r="6.65"/>
<circle class="pb" cx="712.3" cy="688.1" r="6.65"/>
<circle class="pb" cx="719.4" cy="693.5" r="6.65"/>
<circle class="pb" cx="729.3" cy="691.7" r="6.65"/>
<circle class="pb" cx="733.8" cy="700.6" r="6.65"/>
<circle class="pb" cx="739.1" cy="700.6" r="6.65"/>
<circle class="pb" cx="752.5" cy="697.1" r="6.65"/>
<circle class="pb" cx="755.2" cy="684.5" r="6.65"/>
<circle class="pb" cx="757" cy="679.2" r="6.65"/>
<circle class="pb" cx="783.8" cy="693.5" r="6.65"/>
<circle class="pb" cx="791.9" cy="694.4" r="6.65"/>
<circle class="pb" cx="799.9" cy="695.3" r="6.65"/>
<circle class="pb" cx="804.4" cy="700.6" r="6.65"/>
<circle class="pb" cx="808" cy="684.5" r="6.65"/>
<circle class="pb" cx="821.4" cy="689.9" r="6.65"/>
<circle class="pb" cx="828.6" cy="704.2" r="6.65"/>
<circle class="pb" cx="774" cy="705.1" r="6.65"/>
<circle class="pr" cx="638" cy="707.8" r="6.65"/>
<circle class="pr" cx="684.6" cy="705.1" r="6.65"/>
<circle class="pr" cx="695.3" cy="703.3" r="6.65"/>
<circle class="pr" cx="670.3" cy="723" r="6.65"/>
<circle class="pb" cx="672.9" cy="723" r="6.65"/>
<circle class="pb" cx="688.1" cy="723" r="6.65"/>
<circle class="pb" cx="692.6" cy="725.7" r="6.65"/>
<circle class="pb" cx="727.5" cy="723" r="6.65"/>
<circle class="pr" cx="749.5" cy="720.3" r="6.65"/>
<circle class="pb" cx="779.4" cy="720.3" r="6.65"/>
<circle class="pr" cx="788.9" cy="720.3" r="6.65"/>
<circle class="pb" cx="860.8" cy="445.3" r="6.65"/>
<circle class="pr" cx="922" cy="548.2" r="6.65"/>
<circle class="pb" cx="826.3" cy="571.4" r="6.65"/>
<circle class="pb" cx="831.1" cy="589.3" r="6.65"/>
<circle class="pr" cx="855.4" cy="584.3" r="6.65"/>
<circle class="pb" cx="857.6" cy="597.4" r="6.65"/>
<circle class="pr" cx="942.2" cy="592" r="6.65"/>
<circle class="pb" cx="907.3" cy="604.9" r="6.65"/>
<circle class="pb" cx="974.4" cy="607.2" r="6.65"/>
<circle class="pb" cx="989.1" cy="615.3" r="6.65"/>
<circle class="pr" cx="958.6" cy="620.7" r="6.65"/>
<circle class="pb" cx="961.3" cy="618" r="6.65"/>
<circle class="pb" cx="1018.6" cy="622.8" r="6.65"/>
<circle class="pb" cx="865.6" cy="633.5" r="6.65"/>
<circle class="pb" cx="895.1" cy="635.9" r="6.65"/>
<circle class="pr" cx="919.8" cy="633.2" r="6.65"/>
<circle class="pr" cx="936.8" cy="633.2" r="6.65"/>
<circle class="pb" cx="823.6" cy="643.4" r="6.65"/>
<circle class="pr" cx="842.9" cy="641.2" r="6.65"/>
<circle class="pb" cx="873.7" cy="646.1" r="6.65"/>
<circle class="pb" cx="882.6" cy="650.5" r="6.65"/>
<circle class="pb" cx="875.5" cy="655.9" r="6.65"/>
<circle class="pr" cx="899.6" cy="642.5" r="6.65"/>
<circle class="pb" cx="902.3" cy="648.4" r="6.65"/>
<circle class="pb" cx="917.5" cy="653.8" r="6.65"/>
<circle class="pb" cx="948.4" cy="646.6" r="6.65"/>
<circle class="pb" cx="934.5" cy="659.5" r="6.65"/>
<circle class="pb" cx="941.6" cy="662.2" r="6.65"/>
<circle class="pb" cx="951.5" cy="658.6" r="6.65"/>
<circle class="pr" cx="971.2" cy="643.7" r="6.65"/>
<circle class="pb" cx="981.5" cy="640.7" r="6.65"/>
<circle class="pb" cx="984.2" cy="663.6" r="6.65"/>
<circle class="pb" cx="1011.4" cy="658.6" r="6.65"/>
<circle class="pb" cx="1014.1" cy="671.1" r="6.65"/>
<circle class="pb" cx="870.1" cy="668.4" r="6.65"/>
<circle class="pb" cx="878.1" cy="672" r="6.65"/>
<circle class="pb" cx="837.9" cy="679.2" r="6.65"/>
<circle class="pb" cx="843.3" cy="688.1" r="6.65"/>
<circle class="pb" cx="862.9" cy="684.5" r="6.65"/>
<circle class="pb" cx="930" cy="679.2" r="6.65"/>
<circle class="pb" cx="929.1" cy="691.7" r="6.65"/>
<circle class="pb" cx="932.7" cy="692.6" r="6.65"/>
<circle class="pr" cx="956" cy="679.2" r="6.65"/>
<circle class="pb" cx="955.1" cy="684.5" r="6.65"/>
<circle class="pb" cx="964.9" cy="681" r="6.65"/>
<circle class="pb" cx="965.8" cy="685.4" r="6.65"/>
<circle class="pb" cx="978.3" cy="682.4" r="6.65"/>
<circle class="pr" cx="1006" cy="679.2" r="6.65"/>
<circle class="pb" cx="1008.7" cy="689" r="6.65"/>
<circle class="pb" cx="822.7" cy="689" r="6.65"/>
<circle class="pr" cx="850.4" cy="693.5" r="6.65"/>
<circle class="pr" cx="848.6" cy="700.6" r="6.65"/>
<circle class="pr" cx="853.1" cy="710.5" r="6.65"/>
<circle class="pb" cx="828" cy="704.2" r="6.65"/>
<circle class="pb" cx="837.9" cy="710.5" r="6.65"/>
<circle class="pr" cx="867.9" cy="705.1" r="6.65"/>
<circle class="pr" cx="879.9" cy="706" r="6.65"/>
<circle class="pr" cx="892.5" cy="710.5" r="6.65"/>
<circle class="pb" cx="886.2" cy="697.1" r="6.65"/>
<circle class="pb" cx="888" cy="701.5" r="6.65"/>
<circle class="pb" cx="905" cy="691.7" r="6.65"/>
<circle class="pb" cx="910.3" cy="697.1" r="6.65"/>
<circle class="pb" cx="912.1" cy="703.3" r="6.65"/>
<circle class="pr" cx="923.8" cy="695.3" r="6.65"/>
<circle class="pb" cx="914.8" cy="713.2" r="6.65"/>
<circle class="pb" cx="969.4" cy="705.1" r="6.65"/>
<circle class="pb" cx="986.4" cy="702.4" r="6.65"/>
<circle class="pb" cx="997.1" cy="698.8" r="6.65"/>
<circle class="pb" cx="1009.6" cy="693.5" r="6.65"/>
<circle class="pr" cx="992.6" cy="715.9" r="6.65"/>
<circle class="pr" cx="1004.3" cy="715.9" r="6.65"/>
<circle class="pr" cx="1015" cy="715.9" r="6.65"/>
<circle class="pb" cx="976.5" cy="722.1" r="6.65"/>
<circle class="pb" cx="1001.6" cy="722.1" r="6.65"/>
<circle class="pr" cx="833.4" cy="724.8" r="6.65"/>
<circle class="pb" cx="1070.5" cy="427.2" r="6.65"/>
<circle class="pb" cx="1053.3" cy="435.3" r="6.65"/>
<circle class="pb" cx="1067.8" cy="491.6" r="6.65"/>
<circle class="pr" cx="1183.9" cy="512.2" r="6.65"/>
<circle class="pb" cx="1057.9" cy="548.2" r="6.65"/>
<circle class="pr" cx="1166.7" cy="591.8" r="6.65"/>
<circle class="pr" cx="1198.7" cy="604.9" r="6.65"/>
<circle class="pr" cx="1159" cy="620.5" r="6.65"/>
<circle class="pb" cx="1020.7" cy="622.8" r="6.65"/>
<circle class="pb" cx="1026.1" cy="630.9" r="6.65"/>
<circle class="pr" cx="1046.7" cy="629.1" r="6.65"/>
<circle class="pb" cx="1102.1" cy="622.8" r="6.65"/>
<circle class="pb" cx="1119.7" cy="628.2" r="6.65"/>
<circle class="pb" cx="1139.3" cy="630.9" r="6.65"/>
<circle class="pb" cx="1179" cy="638" r="6.65"/>
<circle class="pb" cx="1193.9" cy="633.2" r="6.65"/>
<circle class="pb" cx="1191.6" cy="648.7" r="6.65"/>
<circle class="pb" cx="1050.8" cy="646.1" r="6.65"/>
<circle class="pb" cx="1086.9" cy="653.2" r="6.65"/>
<circle class="pr" cx="1097.7" cy="648.7" r="6.65"/>
<circle class="pb" cx="1122.2" cy="651.4" r="6.65"/>
<circle class="pr" cx="1144.2" cy="655.9" r="6.65"/>
<circle class="pr" cx="1131.6" cy="661.3" r="6.65"/>
<circle class="pb" cx="1149.5" cy="666.6" r="6.65"/>
<circle class="pb" cx="1156.7" cy="677" r="6.65"/>
<circle class="pr" cx="1141.5" cy="674.7" r="6.65"/>
<circle class="pr" cx="1117.3" cy="672" r="6.65"/>
<circle class="pb" cx="1162.1" cy="653.8" r="6.65"/>
<circle class="pb" cx="1204.1" cy="658.6" r="6.65"/>
<circle class="pb" cx="1208.6" cy="654.1" r="6.65"/>
<circle class="pb" cx="1010" cy="659.5" r="6.65"/>
<circle class="pb" cx="1017.2" cy="666.6" r="6.65"/>
<circle class="pb" cx="1030.6" cy="661.8" r="6.65"/>
<circle class="pb" cx="1013.6" cy="672" r="6.65"/>
<circle class="pb" cx="1077.6" cy="669.3" r="6.65"/>
<circle class="pb" cx="1011.8" cy="689.9" r="6.65"/>
<circle class="pb" cx="1033.3" cy="692.6" r="6.65"/>
<circle class="pb" cx="1042.2" cy="691.7" r="6.65"/>
<circle class="pb" cx="1037.7" cy="698.8" r="6.65"/>
<circle class="pb" cx="1054.7" cy="698" r="6.65"/>
<circle class="pb" cx="1061" cy="686.3" r="6.65"/>
<circle class="pb" cx="1065.5" cy="693.5" r="6.65"/>
<circle class="pb" cx="1079.8" cy="692.6" r="6.65"/>
<circle class="pb" cx="1085.1" cy="698" r="6.65"/>
<circle class="pr" cx="1095" cy="689.5" r="6.65"/>
<circle class="pb" cx="1099.4" cy="698" r="6.65"/>
<circle class="pr" cx="1111.1" cy="698" r="6.65"/>
<circle class="pb" cx="1114.7" cy="698" r="6.65"/>
<circle class="pb" cx="1124.5" cy="686.3" r="6.65"/>
<circle class="pb" cx="1128.1" cy="686.3" r="6.65"/>
<circle class="pr" cx="1134.3" cy="689.9" r="6.65"/>
<circle class="pb" cx="1154" cy="694.9" r="6.65"/>
<circle class="pr" cx="1168.3" cy="697.1" r="6.65"/>
<circle class="pr" cx="1172.8" cy="702.4" r="6.65"/>
<circle class="pb" cx="1177.3" cy="691.7" r="6.65"/>
<circle class="pb" cx="1179.9" cy="684.5" r="6.65"/>
<circle class="pr" cx="1188" cy="684.5" r="6.65"/>
<circle class="pb" cx="1196.9" cy="679.2" r="6.65"/>
<circle class="pb" cx="1201.4" cy="681.9" r="6.65"/>
<circle class="pb" cx="1137" cy="705.1" r="6.65"/>
<circle class="pr" cx="1146.9" cy="710.5" r="6.65"/>
<circle class="pr" cx="1163.8" cy="710.5" r="6.65"/>
<circle class="pr" cx="1205" cy="707.4" r="6.65"/>
<circle class="pr" cx="1015.4" cy="715.9" r="6.65"/>
<circle class="pb" cx="1023.4" cy="723" r="6.65"/>
<circle class="pr" cx="1027.9" cy="721.2" r="6.65"/>
<circle class="pr" cx="1040.4" cy="717.6" r="6.65"/>
<circle class="pr" cx="1074.4" cy="717.6" r="6.65"/>
<circle class="pr" cx="1072.6" cy="722.1" r="6.65"/>
<circle class="pb" cx="1085.1" cy="723" r="6.65"/>
<circle class="pr" cx="1089.6" cy="715.9" r="6.65"/>
<circle class="pr" cx="1107.5" cy="715.9" r="6.65"/>
<circle class="pb" cx="1103.9" cy="723" r="6.65"/>
<circle class="pb" cx="1110.2" cy="723" r="6.65"/>
<circle class="pr" cx="1151.3" cy="723" r="6.65"/>
<circle class="pb" cx="1186.2" cy="723" r="6.65"/>
<circle class="pb" cx="1263" cy="543.2" r="6.65"/>
<circle class="pb" cx="1233.5" cy="566.4" r="6.65"/>
<circle class="pb" cx="1245.8" cy="633.5" r="6.65"/>
<circle class="pb" cx="1309.9" cy="638" r="6.65"/>
<circle class="pr" cx="1302.4" cy="646.1" r="6.65"/>
<circle class="pb" cx="1192.7" cy="648.7" r="6.65"/>
<circle class="pb" cx="1208.8" cy="653.2" r="6.65"/>
<circle class="pb" cx="1203.4" cy="658.6" r="6.65"/>
<circle class="pb" cx="1211.5" cy="657.7" r="6.65"/>
<circle class="pb" cx="1270.5" cy="653.2" r="6.65"/>
<circle class="pb" cx="1267.9" cy="661.3" r="6.65"/>
<circle class="pb" cx="1243.3" cy="661.3" r="6.65"/>
<circle class="pr" cx="1216" cy="668.4" r="6.65"/>
<circle class="pb" cx="1220.8" cy="674.2" r="6.65"/>
<circle class="pb" cx="1260.7" cy="674.7" r="6.65"/>
<circle class="pr" cx="1297.4" cy="677" r="6.65"/>
<circle class="pb" cx="1196.3" cy="679.2" r="6.65"/>
<circle class="pb" cx="1201.6" cy="682.7" r="6.65"/>
<circle class="pr" cx="1218.6" cy="689.5" r="6.65"/>
<circle class="pr" cx="1317.4" cy="689.5" r="6.65"/>
<circle class="pb" cx="1227.6" cy="697.1" r="6.65"/>
<circle class="pb" cx="1240.1" cy="694.4" r="6.65"/>
<circle class="pr" cx="1235.6" cy="702.4" r="6.65"/>
<circle class="pr" cx="1250" cy="694.9" r="6.65"/>
<circle class="pr" cx="1247.3" cy="700.6" r="6.65"/>
<circle class="pb" cx="1257.1" cy="702.4" r="6.65"/>
<circle class="pb" cx="1252.6" cy="715.9" r="6.65"/>
<circle class="pb" cx="1272.3" cy="697.1" r="6.65"/>
<circle class="pb" cx="1279.5" cy="693.5" r="6.65"/>
<circle class="pb" cx="1290.2" cy="697.1" r="6.65"/>
<circle class="pr" cx="1281.3" cy="698" r="6.65"/>
<circle class="pr" cx="1277.7" cy="704.2" r="6.65"/>
<circle class="pr" cx="1286.7" cy="704.2" r="6.65"/>
<circle class="pr" cx="1293.8" cy="704.2" r="6.65"/>
<circle class="pr" cx="1305.4" cy="702.4" r="6.65"/>
<circle class="pr" cx="1308.1" cy="707.8" r="6.65"/>
<circle class="pr" cx="1265.2" cy="713.2" r="6.65"/>
<circle class="pr" cx="1275" cy="713.2" r="6.65"/>
<circle class="pr" cx="1287.5" cy="713.2" r="6.65"/>
<circle class="pr" cx="1300.1" cy="720.3" r="6.65"/>
<circle class="pr" cx="1206.1" cy="707.8" r="6.65"/>
<circle class="pb" cx="1213.3" cy="713.2" r="6.65"/>
<circle class="pr" cx="1227.6" cy="720.3" r="6.65"/>
<circle class="pr" cx="1231.2" cy="720.3" r="6.65"/>
<circle class="pb" cx="1223.1" cy="725.7" r="6.65"/>
<circle class="pr" cx="1313.5" cy="723.9" r="6.65"/>
<circle class="pb" cx="1319.8" cy="725.7" r="6.65"/>
<circle class="pb" cx="332.8" cy="664.5" r="6.65"/>
<circle class="pb" cx="351.1" cy="662.4" r="6.65"/>
<circle class="pb" cx="357.6" cy="671" r="6.65"/>
<circle class="pb" cx="366.2" cy="679.6" r="6.65"/>
<circle class="pb" cx="370.5" cy="666.7" r="6.65"/>
<circle class="pb" cx="342.5" cy="671" r="6.65"/>
<circle class="pb" cx="325.3" cy="677.4" r="6.65"/>
<circle class="pb" cx="426.4" cy="671" r="6.65"/>
<circle class="pb" cx="430.7" cy="681.7" r="6.65"/>
<circle class="pb" cx="420" cy="690.3" r="6.65"/>
<circle class="pb" cx="546.9" cy="679.6" r="6.65"/>
</g>
<line x1="860.7" y1="420.95" x2="860.7" y2="742" stroke="#000" stroke-width="4.7" stroke-dasharray="4.7 16.33"/>
<text x="1368.3" y="538" font-size="32" fill="#000" text-anchor="start" font-family="'Liberation Sans', Arial, Helvetica, sans-serif">Status</text>
<circle cx="1388.9" cy="576" r="6.8" fill="#0030ff"/>
<text x="1424.3" y="586.8" font-size="29" fill="#000" text-anchor="start" font-family="'Liberation Sans', Arial, Helvetica, sans-serif">Alive</text>
<circle cx="1388.9" cy="618.5" r="6.8" fill="#ff2400"/>
<text x="1424.3" y="629.1" font-size="29" fill="#000" text-anchor="start" font-family="'Liberation Sans', Arial, Helvetica, sans-serif">Dead</text>
<rect x="261.0" y="773.6" width="598.1" height="30.2" fill="#0030ff"/>
<rect x="859.1" y="773.6" width="460.69999999999993" height="30.2" fill="#ff2400"/>
<text x="240.5" y="836.65" font-size="26.9" fill="#4d4d4d" text-anchor="end" font-family="'Liberation Sans', Arial, Helvetica, sans-serif">IFI30</text>
<text x="240.5" y="874.36" font-size="26.9" fill="#4d4d4d" text-anchor="end" font-family="'Liberation Sans', Arial, Helvetica, sans-serif">PLCG2</text>
<text x="240.5" y="912.07" font-size="26.9" fill="#4d4d4d" text-anchor="end" font-family="'Liberation Sans', Arial, Helvetica, sans-serif">HIST2H2BE</text>
<text x="240.5" y="949.78" font-size="26.9" fill="#4d4d4d" text-anchor="end" font-family="'Liberation Sans', Arial, Helvetica, sans-serif">HIST1H2AC</text>
<text x="240.5" y="987.48" font-size="26.9" fill="#4d4d4d" text-anchor="end" font-family="'Liberation Sans', Arial, Helvetica, sans-serif">TMEM88</text>
<text x="240.5" y="1025.19" font-size="26.9" fill="#4d4d4d" text-anchor="end" font-family="'Liberation Sans', Arial, Helvetica, sans-serif">CDC42SE2</text>
<text x="240.5" y="1062.9" font-size="26.9" fill="#4d4d4d" text-anchor="end" font-family="'Liberation Sans', Arial, Helvetica, sans-serif">ETS2</text>
<text x="240.5" y="1100.61" font-size="26.9" fill="#4d4d4d" text-anchor="end" font-family="'Liberation Sans', Arial, Helvetica, sans-serif">ATP6V1B2</text>
<text x="240.5" y="1138.32" font-size="26.9" fill="#4d4d4d" text-anchor="end" font-family="'Liberation Sans', Arial, Helvetica, sans-serif">MARCH6</text>
<text x="240.5" y="1176.02" font-size="26.9" fill="#4d4d4d" text-anchor="end" font-family="'Liberation Sans', Arial, Helvetica, sans-serif">EMR3</text>
<text x="240.5" y="1213.73" font-size="26.9" fill="#4d4d4d" text-anchor="end" font-family="'Liberation Sans', Arial, Helvetica, sans-serif">FBXL5</text>
<text x="240.5" y="1251.44" font-size="26.9" fill="#4d4d4d" text-anchor="end" font-family="'Liberation Sans', Arial, Helvetica, sans-serif">TIMP1</text>
<text x="240.5" y="1289.15" font-size="26.9" fill="#4d4d4d" text-anchor="end" font-family="'Liberation Sans', Arial, Helvetica, sans-serif">CLK1</text>
<defs><filter id="hb" x="-0.01" y="0" width="1.02" height="1"><feGaussianBlur stdDeviation="0.55 0"/></filter></defs>
<g filter="url(#hb)"><g transform="translate(261.0 808.1) scale(2.46233 37.7077)" shape-rendering="crispEdges">
<path fill="#8053ff" d="M332 10h1v1h-1z"/>
<path fill="#8a5dff" d="M3 8h1v1h-1z"/>
<path fill="#9c70ff" d="M110 11h1v1h-1z"/>
<path fill="#a479ff" d="M87 2h1v1h-1zM27 4h1v1h-1zM306 5h1v1h-1z"/>
<path fill="#ac83ff" d="M5 8h1v1h-1zM287 10h1v1h-1z"/>
<path fill="#b48cff" d="M160 0h1v1h-1zM95 2h1v1h-1zM354 5h1v1h-1zM387 5h1v1h-1zM413 5h1v1h-1zM389 6h1v1h-1zM414 6h1v1h-1zM417 6h1v1h-1zM228 7h1v1h-1zM262 7h1v1h-1zM270 7h1v1h-1zM7 8h1v1h-1zM60 8h1v1h-1zM90 8h1v1h-1zM369 10h1v1h-1zM375 10h1v1h-1z"/>
<path fill="#bb96ff" d="M194 0h1v1h-1zM244 0h1v1h-1zM122 1h1v1h-1zM335 5h1v1h-1zM339 5h1v1h-1zM384 5h1v1h-1zM410 5h1v1h-1zM425 6h1v1h-1zM301 7h1v1h-1zM405 9h1v1h-1zM175 12h1v1h-1zM228 12h1v1h-1z"/>
<path fill="#c29fff" d="M252 0h1v1h-1zM356 0h1v1h-1zM225 1h1v1h-1zM301 1h1v1h-1zM60 2h1v1h-1zM63 2h1v1h-1zM67 2h1v1h-1zM106 2h1v1h-1zM66 3h1v1h-1zM179 3h1v1h-1zM245 3h1v1h-1zM233 4h1v1h-1zM304 5h1v1h-1zM326 5h1v1h-1zM24 6h1v1h-1zM426 6h4v1h-4zM44 9h1v1h-1zM190 10h1v1h-1zM256 10h1v1h-1zM328 10h1v1h-1zM347 10h1v1h-1zM374 10h1v1h-1zM91 12h1v1h-1zM128 12h1v1h-1z"/>
<path fill="#c9a8ff" d="M9 0h1v1h-1zM112 0h1v1h-1zM218 0h1v1h-1zM349 0h1v1h-1zM57 2h1v1h-1zM117 2h1v1h-1zM188 2h1v1h-1zM256 3h1v1h-1zM317 3h1v1h-1zM80 4h1v1h-1zM131 4h1v1h-1zM146 4h1v1h-1zM324 5h1v1h-1zM373 6h1v1h-1zM246 7h1v1h-1zM350 7h1v1h-1zM308 8h1v1h-1zM399 8h1v1h-1zM75 9h1v1h-1zM168 9h1v1h-1zM382 9h1v1h-1zM171 10h1v1h-1zM253 10h1v1h-1zM339 10h1v1h-1zM417 10h1v1h-1zM424 10h1v1h-1zM4 11h1v1h-1zM189 11h1v1h-1zM255 11h1v1h-1zM287 11h1v1h-1zM14 12h1v1h-1zM94 12h1v1h-1zM144 12h1v1h-1zM327 12h1v1h-1zM333 12h1v1h-1zM427 12h2v1h-2z"/>
<path fill="#d0b2ff" d="M85 0h1v1h-1zM89 0h1v1h-1zM124 0h1v1h-1zM149 0h1v1h-1zM388 0h1v1h-1zM43 1h1v1h-1zM100 1h1v1h-1zM109 1h1v1h-1zM200 1h1v1h-1zM350 1h1v1h-1zM353 1h1v1h-1zM29 2h1v1h-1zM51 2h1v1h-1zM137 2h1v1h-1zM214 2h1v1h-1zM43 3h1v1h-1zM6 4h1v1h-1zM14 4h1v1h-1zM17 4h1v1h-1zM64 4h1v1h-1zM86 4h1v1h-1zM148 4h1v1h-1zM204 4h1v1h-1zM364 4h1v1h-1zM381 4h1v1h-1zM315 5h1v1h-1zM327 5h1v1h-1zM351 5h1v1h-1zM381 5h1v1h-1zM392 5h1v1h-1zM118 6h1v1h-1zM222 6h1v1h-1zM240 7h1v1h-1zM283 7h1v1h-1zM370 7h1v1h-1zM378 7h1v1h-1zM30 8h1v1h-1zM97 8h1v1h-1zM101 8h1v1h-1zM217 8h1v1h-1zM150 9h1v1h-1zM258 9h1v1h-1zM269 9h1v1h-1zM392 9h1v1h-1zM202 10h1v1h-1zM387 10h1v1h-1zM395 10h1v1h-1zM400 10h1v1h-1zM427 10h1v1h-1zM6 11h1v1h-1zM41 11h1v1h-1zM54 11h1v1h-1zM102 11h1v1h-1zM139 11h1v1h-1zM6 12h1v1h-1zM92 12h1v1h-1zM116 12h1v1h-1zM303 12h1v1h-1zM310 12h1v1h-1zM404 12h1v1h-1z"/>
<path fill="#d6bbff" d="M20 0h1v1h-1zM60 0h1v1h-1zM84 0h1v1h-1zM103 0h1v1h-1zM198 0h1v1h-1zM82 1h1v1h-1zM108 1h1v1h-1zM123 1h2v1h-2zM133 1h1v1h-1zM152 1h1v1h-1zM324 1h1v1h-1zM388 1h1v1h-1zM22 2h1v1h-1zM45 2h1v1h-1zM310 2h1v1h-1zM14 3h1v1h-1zM16 3h1v1h-1zM102 3h1v1h-1zM129 3h1v1h-1zM152 3h1v1h-1zM12 4h1v1h-1zM23 4h1v1h-1zM43 4h1v1h-1zM66 4h1v1h-1zM89 4h1v1h-1zM113 4h1v1h-1zM123 4h1v1h-1zM211 4h1v1h-1zM214 4h1v1h-1zM334 4h1v1h-1zM378 4h1v1h-1zM225 5h1v1h-1zM236 5h1v1h-1zM244 5h1v1h-1zM268 5h1v1h-1zM299 5h1v1h-1zM337 5h1v1h-1zM361 5h1v1h-1zM368 5h1v1h-1zM372 5h1v1h-1zM418 5h1v1h-1zM129 6h1v1h-1zM154 6h1v1h-1zM193 6h1v1h-1zM266 6h1v1h-1zM286 6h1v1h-1zM410 6h1v1h-1zM151 7h1v1h-1zM194 7h1v1h-1zM216 7h1v1h-1zM225 7h1v1h-1zM236 7h1v1h-1zM245 7h1v1h-1zM387 7h1v1h-1zM398 7h1v1h-1zM401 7h1v1h-1zM415 7h1v1h-1zM41 8h1v1h-1zM148 8h1v1h-1zM159 8h1v1h-1zM201 8h2v1h-2zM182 9h1v1h-1zM236 9h1v1h-1zM293 9h1v1h-1zM314 9h2v1h-2zM393 9h1v1h-1zM402 9h1v1h-1zM222 10h1v1h-1zM337 10h1v1h-1zM364 10h1v1h-1zM391 10h1v1h-1zM12 11h1v1h-1zM34 11h1v1h-1zM50 11h1v1h-1zM56 11h1v1h-1zM67 11h2v1h-2zM128 11h2v1h-2zM145 11h1v1h-1zM259 11h1v1h-1zM331 11h1v1h-1zM336 11h1v1h-1zM265 12h1v1h-1zM363 12h1v1h-1z"/>
<path fill="#dcc5ff" d="M94 0h1v1h-1zM128 0h1v1h-1zM168 0h1v1h-1zM214 0h1v1h-1zM222 0h1v1h-1zM225 0h1v1h-1zM331 0h1v1h-1zM4 1h1v1h-1zM39 1h1v1h-1zM51 1h1v1h-1zM110 1h1v1h-1zM159 1h1v1h-1zM218 1h1v1h-1zM247 1h1v1h-1zM311 1h1v1h-1zM326 1h1v1h-1zM330 1h1v1h-1zM16 2h1v1h-1zM20 2h1v1h-1zM47 2h1v1h-1zM54 2h1v1h-1zM66 2h1v1h-1zM75 2h1v1h-1zM85 2h1v1h-1zM88 2h1v1h-1zM127 2h1v1h-1zM143 2h1v1h-1zM156 2h1v1h-1zM168 2h1v1h-1zM191 2h1v1h-1zM193 2h1v1h-1zM205 2h1v1h-1zM273 2h1v1h-1zM5 3h1v1h-1zM8 3h1v1h-1zM27 3h1v1h-1zM59 3h1v1h-1zM85 3h1v1h-1zM97 3h1v1h-1zM134 3h1v1h-1zM278 3h1v1h-1zM298 3h1v1h-1zM0 4h1v1h-1zM15 4h1v1h-1zM52 4h2v1h-2zM74 4h1v1h-1zM85 4h1v1h-1zM99 4h1v1h-1zM118 4h1v1h-1zM149 4h1v1h-1zM194 4h1v1h-1zM212 4h1v1h-1zM224 4h1v1h-1zM266 4h1v1h-1zM275 4h1v1h-1zM283 4h1v1h-1zM287 4h1v1h-1zM302 4h1v1h-1zM346 4h1v1h-1zM402 4h1v1h-1zM125 5h2v1h-2zM163 5h1v1h-1zM178 5h1v1h-1zM267 5h1v1h-1zM314 5h1v1h-1zM331 5h1v1h-1zM341 5h1v1h-1zM347 5h1v1h-1zM355 5h1v1h-1zM370 5h1v1h-1zM405 5h1v1h-1zM417 5h1v1h-1zM419 5h2v1h-2zM423 5h2v1h-2zM427 5h1v1h-1zM114 6h1v1h-1zM192 6h1v1h-1zM201 6h1v1h-1zM221 6h1v1h-1zM250 6h1v1h-1zM287 6h1v1h-1zM312 6h1v1h-1zM323 6h1v1h-1zM368 6h1v1h-1zM384 6h1v1h-1zM394 6h1v1h-1zM404 6h1v1h-1zM412 6h1v1h-1zM421 6h1v1h-1zM423 6h1v1h-1zM178 7h1v1h-1zM224 7h1v1h-1zM233 7h1v1h-1zM256 7h1v1h-1zM289 7h1v1h-1zM304 7h1v1h-1zM319 7h1v1h-1zM333 7h1v1h-1zM410 7h1v1h-1zM12 8h1v1h-1zM96 8h1v1h-1zM128 8h1v1h-1zM172 8h1v1h-1zM392 8h1v1h-1zM41 9h1v1h-1zM82 9h1v1h-1zM89 9h1v1h-1zM111 9h1v1h-1zM152 9h1v1h-1zM178 9h1v1h-1zM376 9h1v1h-1zM414 9h1v1h-1zM426 9h1v1h-1zM12 10h1v1h-1zM67 10h1v1h-1zM207 10h1v1h-1zM290 10h1v1h-1zM338 10h1v1h-1zM350 10h1v1h-1zM356 10h1v1h-1zM370 10h1v1h-1zM9 11h1v1h-1zM21 11h1v1h-1zM28 11h1v1h-1zM35 11h1v1h-1zM79 11h3v1h-3zM86 11h1v1h-1zM97 11h1v1h-1zM99 11h1v1h-1zM149 11h1v1h-1zM160 11h1v1h-1zM177 11h1v1h-1zM312 11h1v1h-1zM21 12h1v1h-1zM31 12h1v1h-1zM69 12h1v1h-1zM72 12h1v1h-1zM75 12h1v1h-1zM93 12h1v1h-1zM125 12h1v1h-1zM215 12h1v1h-1zM332 12h1v1h-1zM342 12h1v1h-1zM388 12h1v1h-1z"/>
<path fill="#e2cfff" d="M0 0h1v1h-1zM2 0h1v1h-1zM4 0h2v1h-2zM13 0h1v1h-1zM69 0h1v1h-1zM86 0h1v1h-1zM98 0h2v1h-2zM153 0h1v1h-1zM158 0h1v1h-1zM212 0h1v1h-1zM239 0h1v1h-1zM283 0h1v1h-1zM328 0h1v1h-1zM360 0h1v1h-1zM2 1h1v1h-1zM10 1h1v1h-1zM24 1h1v1h-1zM29 1h1v1h-1zM36 1h1v1h-1zM48 1h1v1h-1zM64 1h1v1h-1zM85 1h1v1h-1zM95 1h1v1h-1zM113 1h1v1h-1zM120 1h1v1h-1zM160 1h1v1h-1zM168 1h1v1h-1zM219 1h1v1h-1zM235 1h1v1h-1zM241 1h1v1h-1zM272 1h1v1h-1zM275 1h2v1h-2zM282 1h1v1h-1zM312 1h1v1h-1zM3 2h1v1h-1zM25 2h2v1h-2zM49 2h1v1h-1zM64 2h1v1h-1zM69 2h2v1h-2zM76 2h1v1h-1zM90 2h1v1h-1zM93 2h1v1h-1zM103 2h1v1h-1zM130 2h1v1h-1zM147 2h1v1h-1zM167 2h1v1h-1zM185 2h1v1h-1zM222 2h1v1h-1zM276 2h1v1h-1zM288 2h1v1h-1zM384 2h1v1h-1zM28 3h1v1h-1zM34 3h1v1h-1zM45 3h1v1h-1zM47 3h1v1h-1zM51 3h1v1h-1zM58 3h1v1h-1zM64 3h1v1h-1zM100 3h1v1h-1zM116 3h1v1h-1zM127 3h2v1h-2zM168 3h1v1h-1zM238 3h1v1h-1zM265 3h1v1h-1zM350 3h1v1h-1zM10 4h1v1h-1zM18 4h1v1h-1zM57 4h1v1h-1zM62 4h1v1h-1zM65 4h1v1h-1zM75 4h1v1h-1zM97 4h1v1h-1zM105 4h1v1h-1zM107 4h1v1h-1zM150 4h1v1h-1zM169 4h1v1h-1zM180 4h1v1h-1zM232 4h1v1h-1zM234 4h1v1h-1zM242 4h1v1h-1zM254 4h1v1h-1zM258 4h1v1h-1zM322 4h1v1h-1zM337 4h1v1h-1zM388 4h1v1h-1zM17 5h1v1h-1zM102 5h1v1h-1zM116 5h1v1h-1zM130 5h1v1h-1zM145 5h1v1h-1zM181 5h2v1h-2zM196 5h2v1h-2zM206 5h1v1h-1zM210 5h1v1h-1zM222 5h1v1h-1zM234 5h1v1h-1zM275 5h1v1h-1zM283 5h1v1h-1zM293 5h1v1h-1zM312 5h2v1h-2zM320 5h1v1h-1zM330 5h1v1h-1zM343 5h1v1h-1zM352 5h1v1h-1zM362 5h1v1h-1zM364 5h1v1h-1zM388 5h1v1h-1zM394 5h2v1h-2zM404 5h1v1h-1zM411 5h2v1h-2zM422 5h1v1h-1zM428 5h1v1h-1zM1 6h1v1h-1zM36 6h1v1h-1zM40 6h1v1h-1zM50 6h1v1h-1zM79 6h1v1h-1zM81 6h1v1h-1zM112 6h1v1h-1zM180 6h1v1h-1zM189 6h1v1h-1zM218 6h1v1h-1zM227 6h1v1h-1zM256 6h1v1h-1zM285 6h1v1h-1zM294 6h1v1h-1zM304 6h1v1h-1zM306 6h1v1h-1zM309 6h1v1h-1zM311 6h1v1h-1zM317 6h1v1h-1zM322 6h1v1h-1zM335 6h1v1h-1zM345 6h1v1h-1zM350 6h1v1h-1zM358 6h1v1h-1zM407 6h1v1h-1zM409 6h1v1h-1zM7 7h1v1h-1zM52 7h1v1h-1zM234 7h2v1h-2zM250 7h1v1h-1zM322 7h1v1h-1zM361 7h1v1h-1zM366 7h1v1h-1zM417 7h1v1h-1zM10 8h1v1h-1zM31 8h1v1h-1zM66 8h1v1h-1zM68 8h1v1h-1zM92 8h1v1h-1zM109 8h1v1h-1zM133 8h1v1h-1zM167 8h1v1h-1zM220 8h1v1h-1zM247 8h2v1h-2zM258 8h2v1h-2zM276 8h1v1h-1zM304 8h1v1h-1zM350 8h2v1h-2zM59 9h1v1h-1zM85 9h1v1h-1zM93 9h1v1h-1zM105 9h1v1h-1zM117 9h1v1h-1zM149 9h1v1h-1zM157 9h1v1h-1zM198 9h1v1h-1zM247 9h2v1h-2zM253 9h1v1h-1zM280 9h1v1h-1zM300 9h1v1h-1zM320 9h1v1h-1zM339 9h1v1h-1zM346 9h1v1h-1zM360 9h1v1h-1zM384 9h1v1h-1zM410 9h1v1h-1zM111 10h1v1h-1zM129 10h2v1h-2zM179 10h1v1h-1zM196 10h1v1h-1zM228 10h1v1h-1zM266 10h1v1h-1zM274 10h1v1h-1zM346 10h1v1h-1zM365 10h1v1h-1zM407 10h3v1h-3zM421 10h1v1h-1zM426 10h1v1h-1zM1 11h1v1h-1zM13 11h2v1h-2zM16 11h1v1h-1zM19 11h1v1h-1zM29 11h3v1h-3zM39 11h1v1h-1zM43 11h1v1h-1zM49 11h1v1h-1zM51 11h1v1h-1zM57 11h1v1h-1zM69 11h1v1h-1zM116 11h2v1h-2zM120 11h1v1h-1zM133 11h1v1h-1zM146 11h1v1h-1zM164 11h1v1h-1zM196 11h1v1h-1zM198 11h1v1h-1zM268 11h1v1h-1zM3 12h1v1h-1zM16 12h1v1h-1zM26 12h1v1h-1zM36 12h1v1h-1zM49 12h1v1h-1zM52 12h1v1h-1zM59 12h1v1h-1zM90 12h1v1h-1zM111 12h1v1h-1zM127 12h1v1h-1zM131 12h1v1h-1zM161 12h1v1h-1zM170 12h1v1h-1zM207 12h1v1h-1zM247 12h1v1h-1zM259 12h1v1h-1zM275 12h1v1h-1zM306 12h1v1h-1zM324 12h1v1h-1zM344 12h1v1h-1zM391 12h1v1h-1zM408 12h1v1h-1z"/>
<path fill="#e8d8ff" d="M21 0h1v1h-1zM30 0h1v1h-1zM39 0h1v1h-1zM83 0h1v1h-1zM139 0h2v1h-2zM163 0h1v1h-1zM178 0h1v1h-1zM217 0h1v1h-1zM240 0h1v1h-1zM250 0h1v1h-1zM254 0h1v1h-1zM280 0h1v1h-1zM286 0h1v1h-1zM343 0h1v1h-1zM13 1h1v1h-1zM15 1h1v1h-1zM19 1h1v1h-1zM42 1h1v1h-1zM57 1h1v1h-1zM59 1h1v1h-1zM65 1h1v1h-1zM68 1h1v1h-1zM76 1h1v1h-1zM80 1h1v1h-1zM88 1h1v1h-1zM111 1h1v1h-1zM115 1h1v1h-1zM121 1h1v1h-1zM139 1h1v1h-1zM143 1h1v1h-1zM148 1h1v1h-1zM153 1h1v1h-1zM161 1h1v1h-1zM183 1h1v1h-1zM186 1h1v1h-1zM212 1h1v1h-1zM264 1h1v1h-1zM294 1h1v1h-1zM296 1h1v1h-1zM383 1h1v1h-1zM400 1h1v1h-1zM8 2h1v1h-1zM10 2h1v1h-1zM33 2h1v1h-1zM36 2h2v1h-2zM50 2h1v1h-1zM74 2h1v1h-1zM91 2h1v1h-1zM94 2h1v1h-1zM111 2h1v1h-1zM120 2h1v1h-1zM144 2h1v1h-1zM175 2h1v1h-1zM212 2h1v1h-1zM223 2h1v1h-1zM241 2h2v1h-2zM251 2h1v1h-1zM283 2h1v1h-1zM302 2h1v1h-1zM313 2h1v1h-1zM321 2h1v1h-1zM3 3h1v1h-1zM11 3h1v1h-1zM29 3h1v1h-1zM33 3h1v1h-1zM35 3h1v1h-1zM57 3h1v1h-1zM103 3h1v1h-1zM109 3h1v1h-1zM114 3h1v1h-1zM117 3h3v1h-3zM131 3h1v1h-1zM146 3h1v1h-1zM203 3h2v1h-2zM209 3h1v1h-1zM227 3h1v1h-1zM243 3h1v1h-1zM248 3h1v1h-1zM255 3h1v1h-1zM274 3h1v1h-1zM308 3h1v1h-1zM322 3h1v1h-1zM359 3h1v1h-1zM45 4h1v1h-1zM61 4h1v1h-1zM83 4h1v1h-1zM115 4h1v1h-1zM132 4h2v1h-2zM184 4h1v1h-1zM192 4h1v1h-1zM199 4h1v1h-1zM202 4h1v1h-1zM217 4h1v1h-1zM277 4h1v1h-1zM306 4h1v1h-1zM309 4h1v1h-1zM350 4h1v1h-1zM370 4h1v1h-1zM389 4h1v1h-1zM404 4h1v1h-1zM408 4h1v1h-1zM108 5h1v1h-1zM118 5h1v1h-1zM162 5h1v1h-1zM184 5h1v1h-1zM193 5h1v1h-1zM216 5h1v1h-1zM231 5h1v1h-1zM245 5h1v1h-1zM251 5h1v1h-1zM277 5h1v1h-1zM292 5h1v1h-1zM342 5h1v1h-1zM348 5h1v1h-1zM353 5h1v1h-1zM359 5h1v1h-1zM377 5h1v1h-1zM400 5h1v1h-1zM35 6h1v1h-1zM85 6h1v1h-1zM158 6h1v1h-1zM195 6h1v1h-1zM242 6h1v1h-1zM263 6h1v1h-1zM269 6h1v1h-1zM272 6h1v1h-1zM316 6h1v1h-1zM319 6h1v1h-1zM332 6h1v1h-1zM361 6h1v1h-1zM363 6h1v1h-1zM401 6h1v1h-1zM418 6h2v1h-2zM75 7h1v1h-1zM86 7h1v1h-1zM103 7h1v1h-1zM112 7h1v1h-1zM121 7h1v1h-1zM171 7h1v1h-1zM182 7h1v1h-1zM191 7h1v1h-1zM208 7h1v1h-1zM258 7h1v1h-1zM264 7h1v1h-1zM266 7h1v1h-1zM277 7h1v1h-1zM281 7h1v1h-1zM285 7h1v1h-1zM302 7h1v1h-1zM345 7h1v1h-1zM348 7h1v1h-1zM356 7h1v1h-1zM372 7h1v1h-1zM382 7h1v1h-1zM384 7h1v1h-1zM400 7h1v1h-1zM402 7h1v1h-1zM411 7h2v1h-2zM416 7h1v1h-1zM16 8h1v1h-1zM23 8h1v1h-1zM29 8h1v1h-1zM45 8h1v1h-1zM49 8h1v1h-1zM55 8h1v1h-1zM59 8h1v1h-1zM75 8h1v1h-1zM95 8h1v1h-1zM105 8h1v1h-1zM137 8h1v1h-1zM182 8h1v1h-1zM199 8h1v1h-1zM203 8h1v1h-1zM223 8h1v1h-1zM227 8h1v1h-1zM239 8h1v1h-1zM241 8h1v1h-1zM246 8h1v1h-1zM266 8h2v1h-2zM277 8h1v1h-1zM301 8h1v1h-1zM309 8h1v1h-1zM334 8h2v1h-2zM356 8h1v1h-1zM368 8h1v1h-1zM428 8h1v1h-1zM19 9h1v1h-1zM22 9h1v1h-1zM25 9h1v1h-1zM54 9h1v1h-1zM101 9h1v1h-1zM127 9h1v1h-1zM130 9h1v1h-1zM139 9h1v1h-1zM166 9h1v1h-1zM171 9h1v1h-1zM173 9h1v1h-1zM263 9h1v1h-1zM284 9h1v1h-1zM286 9h1v1h-1zM330 9h1v1h-1zM334 9h1v1h-1zM349 9h1v1h-1zM363 9h1v1h-1zM371 9h1v1h-1zM375 9h1v1h-1zM389 9h1v1h-1zM395 9h1v1h-1zM421 9h1v1h-1zM428 9h1v1h-1zM15 10h1v1h-1zM17 10h1v1h-1zM105 10h1v1h-1zM117 10h1v1h-1zM131 10h1v1h-1zM166 10h1v1h-1zM174 10h1v1h-1zM195 10h1v1h-1zM213 10h1v1h-1zM226 10h1v1h-1zM229 10h1v1h-1zM239 10h1v1h-1zM247 10h1v1h-1zM281 10h1v1h-1zM286 10h1v1h-1zM297 10h1v1h-1zM299 10h1v1h-1zM306 10h1v1h-1zM318 10h1v1h-1zM320 10h1v1h-1zM373 10h1v1h-1zM384 10h1v1h-1zM388 10h2v1h-2zM402 10h2v1h-2zM406 10h1v1h-1zM2 11h1v1h-1zM22 11h2v1h-2zM53 11h1v1h-1zM55 11h1v1h-1zM66 11h1v1h-1zM71 11h1v1h-1zM92 11h1v1h-1zM115 11h1v1h-1zM144 11h1v1h-1zM147 11h1v1h-1zM161 11h1v1h-1zM206 11h1v1h-1zM214 11h1v1h-1zM220 11h1v1h-1zM277 11h1v1h-1zM301 11h1v1h-1zM307 11h1v1h-1zM13 12h1v1h-1zM19 12h1v1h-1zM28 12h1v1h-1zM60 12h1v1h-1zM62 12h1v1h-1zM97 12h1v1h-1zM115 12h1v1h-1zM134 12h1v1h-1zM150 12h1v1h-1zM162 12h1v1h-1zM174 12h1v1h-1zM179 12h1v1h-1zM237 12h1v1h-1zM278 12h1v1h-1zM282 12h1v1h-1zM284 12h1v1h-1zM292 12h1v1h-1zM297 12h1v1h-1zM301 12h1v1h-1zM331 12h1v1h-1zM397 12h1v1h-1z"/>
<path fill="#eee2ff" d="M8 0h1v1h-1zM14 0h1v1h-1zM17 0h1v1h-1zM24 0h1v1h-1zM36 0h1v1h-1zM61 0h1v1h-1zM96 0h1v1h-1zM108 0h1v1h-1zM115 0h1v1h-1zM118 0h2v1h-2zM121 0h1v1h-1zM125 0h1v1h-1zM135 0h1v1h-1zM148 0h1v1h-1zM154 0h1v1h-1zM174 0h1v1h-1zM182 0h2v1h-2zM193 0h1v1h-1zM197 0h1v1h-1zM221 0h1v1h-1zM245 0h1v1h-1zM247 0h2v1h-2zM256 0h1v1h-1zM271 0h1v1h-1zM274 0h1v1h-1zM308 0h1v1h-1zM311 0h1v1h-1zM321 0h1v1h-1zM338 0h1v1h-1zM367 0h1v1h-1zM3 1h1v1h-1zM22 1h1v1h-1zM32 1h1v1h-1zM40 1h1v1h-1zM45 1h1v1h-1zM70 1h1v1h-1zM77 1h1v1h-1zM90 1h1v1h-1zM93 1h2v1h-2zM98 1h1v1h-1zM112 1h1v1h-1zM116 1h2v1h-2zM125 1h1v1h-1zM128 1h1v1h-1zM131 1h2v1h-2zM134 1h1v1h-1zM147 1h1v1h-1zM166 1h2v1h-2zM175 1h1v1h-1zM178 1h2v1h-2zM184 1h1v1h-1zM204 1h1v1h-1zM207 1h1v1h-1zM222 1h1v1h-1zM242 1h1v1h-1zM244 1h1v1h-1zM268 1h1v1h-1zM279 1h1v1h-1zM369 1h1v1h-1zM376 1h2v1h-2zM420 1h1v1h-1zM7 2h1v1h-1zM9 2h1v1h-1zM21 2h1v1h-1zM23 2h2v1h-2zM40 2h1v1h-1zM48 2h1v1h-1zM62 2h1v1h-1zM73 2h1v1h-1zM92 2h1v1h-1zM100 2h1v1h-1zM102 2h1v1h-1zM104 2h1v1h-1zM138 2h1v1h-1zM141 2h1v1h-1zM179 2h1v1h-1zM200 2h1v1h-1zM204 2h1v1h-1zM206 2h1v1h-1zM225 2h1v1h-1zM247 2h1v1h-1zM252 2h1v1h-1zM323 2h1v1h-1zM334 2h1v1h-1zM342 2h1v1h-1zM351 2h1v1h-1zM360 2h1v1h-1zM364 2h1v1h-1zM416 2h1v1h-1zM2 3h1v1h-1zM12 3h2v1h-2zM36 3h1v1h-1zM42 3h1v1h-1zM65 3h1v1h-1zM67 3h1v1h-1zM70 3h1v1h-1zM80 3h3v1h-3zM87 3h1v1h-1zM91 3h1v1h-1zM98 3h1v1h-1zM108 3h1v1h-1zM115 3h1v1h-1zM148 3h1v1h-1zM154 3h1v1h-1zM197 3h1v1h-1zM206 3h1v1h-1zM210 3h1v1h-1zM235 3h1v1h-1zM272 3h1v1h-1zM325 3h1v1h-1zM341 3h1v1h-1zM351 3h1v1h-1zM358 3h1v1h-1zM13 4h1v1h-1zM24 4h1v1h-1zM29 4h1v1h-1zM32 4h1v1h-1zM37 4h1v1h-1zM48 4h1v1h-1zM100 4h1v1h-1zM102 4h1v1h-1zM116 4h1v1h-1zM122 4h1v1h-1zM134 4h1v1h-1zM137 4h1v1h-1zM139 4h1v1h-1zM151 4h1v1h-1zM154 4h1v1h-1zM158 4h1v1h-1zM160 4h1v1h-1zM162 4h1v1h-1zM182 4h1v1h-1zM186 4h1v1h-1zM189 4h1v1h-1zM205 4h1v1h-1zM256 4h1v1h-1zM270 4h1v1h-1zM273 4h1v1h-1zM280 4h1v1h-1zM284 4h1v1h-1zM288 4h1v1h-1zM291 4h1v1h-1zM296 4h1v1h-1zM342 4h1v1h-1zM383 4h2v1h-2zM418 4h1v1h-1zM37 5h1v1h-1zM109 5h1v1h-1zM111 5h1v1h-1zM117 5h1v1h-1zM131 5h1v1h-1zM138 5h2v1h-2zM166 5h1v1h-1zM199 5h1v1h-1zM207 5h1v1h-1zM219 5h1v1h-1zM228 5h1v1h-1zM246 5h1v1h-1zM250 5h1v1h-1zM262 5h1v1h-1zM271 5h2v1h-2zM280 5h1v1h-1zM284 5h1v1h-1zM290 5h1v1h-1zM295 5h1v1h-1zM300 5h1v1h-1zM303 5h1v1h-1zM316 5h1v1h-1zM346 5h1v1h-1zM379 5h1v1h-1zM382 5h1v1h-1zM401 5h1v1h-1zM403 5h1v1h-1zM408 5h1v1h-1zM416 5h1v1h-1zM9 6h1v1h-1zM72 6h1v1h-1zM117 6h1v1h-1zM133 6h1v1h-1zM147 6h1v1h-1zM151 6h1v1h-1zM163 6h2v1h-2zM170 6h1v1h-1zM184 6h1v1h-1zM194 6h1v1h-1zM200 6h1v1h-1zM207 6h1v1h-1zM215 6h1v1h-1zM228 6h1v1h-1zM238 6h1v1h-1zM257 6h2v1h-2zM262 6h1v1h-1zM268 6h1v1h-1zM270 6h1v1h-1zM280 6h1v1h-1zM290 6h1v1h-1zM293 6h1v1h-1zM315 6h1v1h-1zM324 6h1v1h-1zM328 6h1v1h-1zM331 6h1v1h-1zM334 6h1v1h-1zM339 6h1v1h-1zM360 6h1v1h-1zM366 6h1v1h-1zM369 6h1v1h-1zM372 6h1v1h-1zM380 6h1v1h-1zM396 6h1v1h-1zM400 6h1v1h-1zM405 6h1v1h-1zM408 6h1v1h-1zM416 6h1v1h-1zM422 6h1v1h-1zM10 7h1v1h-1zM39 7h1v1h-1zM51 7h1v1h-1zM100 7h1v1h-1zM117 7h1v1h-1zM180 7h1v1h-1zM204 7h1v1h-1zM209 7h3v1h-3zM242 7h1v1h-1zM244 7h1v1h-1zM253 7h1v1h-1zM290 7h2v1h-2zM294 7h1v1h-1zM303 7h1v1h-1zM313 7h1v1h-1zM317 7h1v1h-1zM321 7h1v1h-1zM353 7h1v1h-1zM360 7h1v1h-1zM393 7h1v1h-1zM395 7h1v1h-1zM408 7h1v1h-1zM413 7h1v1h-1zM425 7h2v1h-2zM428 7h1v1h-1zM17 8h1v1h-1zM25 8h1v1h-1zM33 8h2v1h-2zM38 8h1v1h-1zM50 8h1v1h-1zM63 8h1v1h-1zM69 8h1v1h-1zM79 8h1v1h-1zM107 8h1v1h-1zM116 8h1v1h-1zM120 8h1v1h-1zM123 8h1v1h-1zM135 8h1v1h-1zM142 8h2v1h-2zM151 8h1v1h-1zM179 8h1v1h-1zM188 8h1v1h-1zM205 8h1v1h-1zM225 8h1v1h-1zM238 8h1v1h-1zM255 8h1v1h-1zM263 8h1v1h-1zM274 8h1v1h-1zM290 8h1v1h-1zM310 8h1v1h-1zM333 8h1v1h-1zM385 8h1v1h-1zM398 8h1v1h-1zM15 9h1v1h-1zM24 9h1v1h-1zM30 9h1v1h-1zM60 9h1v1h-1zM68 9h2v1h-2zM87 9h1v1h-1zM113 9h1v1h-1zM120 9h1v1h-1zM164 9h1v1h-1zM189 9h1v1h-1zM219 9h1v1h-1zM222 9h2v1h-2zM225 9h1v1h-1zM239 9h1v1h-1zM249 9h1v1h-1zM266 9h1v1h-1zM270 9h1v1h-1zM283 9h1v1h-1zM287 9h1v1h-1zM332 9h1v1h-1zM341 9h1v1h-1zM357 9h1v1h-1zM364 9h1v1h-1zM367 9h1v1h-1zM372 9h1v1h-1zM378 9h1v1h-1zM390 9h1v1h-1zM400 9h1v1h-1zM417 9h1v1h-1zM427 9h1v1h-1zM26 10h1v1h-1zM53 10h1v1h-1zM87 10h1v1h-1zM128 10h1v1h-1zM139 10h1v1h-1zM143 10h1v1h-1zM181 10h1v1h-1zM201 10h1v1h-1zM218 10h1v1h-1zM241 10h1v1h-1zM248 10h1v1h-1zM259 10h1v1h-1zM262 10h1v1h-1zM265 10h1v1h-1zM271 10h1v1h-1zM291 10h1v1h-1zM295 10h1v1h-1zM304 10h1v1h-1zM315 10h1v1h-1zM317 10h1v1h-1zM323 10h1v1h-1zM326 10h1v1h-1zM329 10h1v1h-1zM334 10h1v1h-1zM343 10h1v1h-1zM348 10h1v1h-1zM359 10h1v1h-1zM381 10h1v1h-1zM390 10h1v1h-1zM399 10h1v1h-1zM414 10h1v1h-1zM420 10h1v1h-1zM428 10h2v1h-2zM10 11h1v1h-1zM36 11h3v1h-3zM62 11h1v1h-1zM75 11h1v1h-1zM78 11h1v1h-1zM87 11h1v1h-1zM90 11h1v1h-1zM100 11h1v1h-1zM109 11h1v1h-1zM122 11h1v1h-1zM156 11h1v1h-1zM159 11h1v1h-1zM173 11h2v1h-2zM186 11h1v1h-1zM210 11h1v1h-1zM226 11h1v1h-1zM241 11h1v1h-1zM251 11h1v1h-1zM295 11h1v1h-1zM314 11h1v1h-1zM343 11h1v1h-1zM382 11h1v1h-1zM403 11h1v1h-1zM418 11h1v1h-1zM12 12h1v1h-1zM24 12h2v1h-2zM68 12h1v1h-1zM73 12h1v1h-1zM86 12h1v1h-1zM98 12h1v1h-1zM114 12h1v1h-1zM123 12h1v1h-1zM126 12h1v1h-1zM133 12h1v1h-1zM139 12h1v1h-1zM148 12h2v1h-2zM159 12h1v1h-1zM177 12h1v1h-1zM180 12h1v1h-1zM183 12h1v1h-1zM190 12h1v1h-1zM195 12h1v1h-1zM213 12h1v1h-1zM225 12h1v1h-1zM229 12h2v1h-2zM253 12h1v1h-1zM255 12h1v1h-1zM300 12h1v1h-1zM368 12h1v1h-1zM393 12h1v1h-1zM403 12h1v1h-1zM410 12h2v1h-2zM413 12h1v1h-1z"/>
<path fill="#f4ebff" d="M16 0h1v1h-1zM25 0h1v1h-1zM31 0h1v1h-1zM47 0h1v1h-1zM63 0h1v1h-1zM71 0h1v1h-1zM80 0h1v1h-1zM93 0h1v1h-1zM155 0h1v1h-1zM157 0h1v1h-1zM167 0h1v1h-1zM180 0h1v1h-1zM185 0h1v1h-1zM187 0h1v1h-1zM203 0h1v1h-1zM206 0h1v1h-1zM211 0h1v1h-1zM259 0h1v1h-1zM267 0h1v1h-1zM293 0h1v1h-1zM295 0h1v1h-1zM298 0h1v1h-1zM303 0h1v1h-1zM318 0h1v1h-1zM347 0h1v1h-1zM357 0h2v1h-2zM365 0h2v1h-2zM379 0h1v1h-1zM403 0h1v1h-1zM420 0h1v1h-1zM0 1h1v1h-1zM5 1h1v1h-1zM7 1h1v1h-1zM11 1h1v1h-1zM14 1h1v1h-1zM21 1h1v1h-1zM27 1h1v1h-1zM52 1h1v1h-1zM67 1h1v1h-1zM69 1h1v1h-1zM89 1h1v1h-1zM91 1h1v1h-1zM99 1h1v1h-1zM102 1h1v1h-1zM106 1h1v1h-1zM114 1h1v1h-1zM140 1h1v1h-1zM162 1h2v1h-2zM169 1h1v1h-1zM182 1h1v1h-1zM209 1h1v1h-1zM221 1h1v1h-1zM227 1h1v1h-1zM234 1h1v1h-1zM240 1h1v1h-1zM248 1h1v1h-1zM261 1h1v1h-1zM285 1h1v1h-1zM299 1h1v1h-1zM316 1h1v1h-1zM341 1h1v1h-1zM346 1h1v1h-1zM348 1h1v1h-1zM357 1h1v1h-1zM359 1h1v1h-1zM361 1h2v1h-2zM367 1h1v1h-1zM421 1h1v1h-1zM2 2h1v1h-1zM4 2h1v1h-1zM6 2h1v1h-1zM11 2h1v1h-1zM14 2h1v1h-1zM28 2h1v1h-1zM53 2h1v1h-1zM72 2h1v1h-1zM96 2h1v1h-1zM108 2h1v1h-1zM110 2h1v1h-1zM128 2h1v1h-1zM131 2h1v1h-1zM135 2h1v1h-1zM140 2h1v1h-1zM145 2h2v1h-2zM153 2h1v1h-1zM164 2h1v1h-1zM173 2h2v1h-2zM194 2h1v1h-1zM196 2h1v1h-1zM198 2h1v1h-1zM218 2h1v1h-1zM220 2h1v1h-1zM235 2h1v1h-1zM238 2h1v1h-1zM240 2h1v1h-1zM267 2h1v1h-1zM271 2h1v1h-1zM275 2h1v1h-1zM284 2h1v1h-1zM292 2h1v1h-1zM299 2h1v1h-1zM322 2h1v1h-1zM331 2h1v1h-1zM353 2h1v1h-1zM356 2h1v1h-1zM404 2h1v1h-1zM6 3h1v1h-1zM20 3h1v1h-1zM26 3h1v1h-1zM39 3h2v1h-2zM49 3h1v1h-1zM61 3h2v1h-2zM90 3h1v1h-1zM93 3h2v1h-2zM96 3h1v1h-1zM111 3h1v1h-1zM113 3h1v1h-1zM130 3h1v1h-1zM145 3h1v1h-1zM150 3h1v1h-1zM158 3h1v1h-1zM161 3h1v1h-1zM169 3h1v1h-1zM180 3h1v1h-1zM184 3h1v1h-1zM189 3h1v1h-1zM192 3h1v1h-1zM234 3h1v1h-1zM249 3h1v1h-1zM254 3h1v1h-1zM257 3h1v1h-1zM306 3h1v1h-1zM320 3h1v1h-1zM326 3h1v1h-1zM335 3h1v1h-1zM339 3h1v1h-1zM355 3h1v1h-1zM364 3h1v1h-1zM366 3h1v1h-1zM398 3h1v1h-1zM1 4h1v1h-1zM5 4h1v1h-1zM16 4h1v1h-1zM22 4h1v1h-1zM26 4h1v1h-1zM35 4h1v1h-1zM38 4h2v1h-2zM47 4h1v1h-1zM49 4h1v1h-1zM59 4h1v1h-1zM63 4h1v1h-1zM70 4h1v1h-1zM81 4h1v1h-1zM84 4h1v1h-1zM119 4h1v1h-1zM128 4h1v1h-1zM135 4h1v1h-1zM142 4h1v1h-1zM152 4h1v1h-1zM172 4h1v1h-1zM187 4h1v1h-1zM201 4h1v1h-1zM238 4h1v1h-1zM246 4h1v1h-1zM271 4h2v1h-2zM279 4h1v1h-1zM281 4h2v1h-2zM297 4h1v1h-1zM307 4h1v1h-1zM316 4h1v1h-1zM318 4h1v1h-1zM348 4h1v1h-1zM352 4h1v1h-1zM362 4h1v1h-1zM376 4h1v1h-1zM392 4h1v1h-1zM5 5h1v1h-1zM32 5h1v1h-1zM60 5h1v1h-1zM101 5h1v1h-1zM113 5h1v1h-1zM133 5h1v1h-1zM137 5h1v1h-1zM142 5h1v1h-1zM160 5h1v1h-1zM167 5h1v1h-1zM180 5h1v1h-1zM202 5h1v1h-1zM204 5h1v1h-1zM230 5h1v1h-1zM238 5h1v1h-1zM255 5h1v1h-1zM282 5h1v1h-1zM285 5h1v1h-1zM288 5h1v1h-1zM298 5h1v1h-1zM319 5h1v1h-1zM334 5h1v1h-1zM336 5h1v1h-1zM373 5h1v1h-1zM376 5h1v1h-1zM389 5h1v1h-1zM402 5h1v1h-1zM6 6h1v1h-1zM14 6h1v1h-1zM37 6h1v1h-1zM71 6h1v1h-1zM75 6h1v1h-1zM89 6h1v1h-1zM100 6h1v1h-1zM102 6h1v1h-1zM139 6h1v1h-1zM145 6h1v1h-1zM152 6h2v1h-2zM224 6h1v1h-1zM234 6h1v1h-1zM241 6h1v1h-1zM252 6h1v1h-1zM261 6h1v1h-1zM267 6h1v1h-1zM271 6h1v1h-1zM277 6h1v1h-1zM281 6h1v1h-1zM288 6h1v1h-1zM296 6h1v1h-1zM300 6h1v1h-1zM314 6h1v1h-1zM326 6h2v1h-2zM340 6h1v1h-1zM356 6h1v1h-1zM362 6h1v1h-1zM371 6h1v1h-1zM374 6h1v1h-1zM378 6h1v1h-1zM383 6h1v1h-1zM390 6h1v1h-1zM402 6h1v1h-1zM413 6h1v1h-1zM424 6h1v1h-1zM14 7h1v1h-1zM17 7h1v1h-1zM21 7h1v1h-1zM40 7h1v1h-1zM43 7h1v1h-1zM60 7h1v1h-1zM62 7h1v1h-1zM87 7h1v1h-1zM93 7h1v1h-1zM115 7h2v1h-2zM118 7h1v1h-1zM168 7h1v1h-1zM170 7h1v1h-1zM173 7h1v1h-1zM189 7h1v1h-1zM206 7h2v1h-2zM220 7h2v1h-2zM232 7h1v1h-1zM243 7h1v1h-1zM257 7h1v1h-1zM272 7h1v1h-1zM292 7h1v1h-1zM298 7h1v1h-1zM300 7h1v1h-1zM307 7h1v1h-1zM309 7h1v1h-1zM316 7h1v1h-1zM332 7h1v1h-1zM335 7h1v1h-1zM359 7h1v1h-1zM367 7h1v1h-1zM369 7h1v1h-1zM383 7h1v1h-1zM396 7h1v1h-1zM406 7h1v1h-1zM2 8h1v1h-1zM14 8h1v1h-1zM18 8h1v1h-1zM35 8h1v1h-1zM81 8h1v1h-1zM99 8h1v1h-1zM103 8h1v1h-1zM114 8h1v1h-1zM122 8h1v1h-1zM126 8h1v1h-1zM141 8h1v1h-1zM147 8h1v1h-1zM152 8h2v1h-2zM161 8h1v1h-1zM180 8h1v1h-1zM218 8h1v1h-1zM249 8h1v1h-1zM269 8h1v1h-1zM273 8h1v1h-1zM278 8h1v1h-1zM292 8h1v1h-1zM298 8h1v1h-1zM316 8h1v1h-1zM330 8h1v1h-1zM336 8h1v1h-1zM348 8h1v1h-1zM353 8h1v1h-1zM378 8h1v1h-1zM386 8h1v1h-1zM393 8h1v1h-1zM395 8h1v1h-1zM402 8h1v1h-1zM418 8h1v1h-1zM10 9h1v1h-1zM13 9h1v1h-1zM26 9h1v1h-1zM52 9h1v1h-1zM65 9h1v1h-1zM70 9h1v1h-1zM83 9h1v1h-1zM125 9h1v1h-1zM132 9h1v1h-1zM142 9h1v1h-1zM151 9h1v1h-1zM153 9h1v1h-1zM162 9h1v1h-1zM188 9h1v1h-1zM196 9h1v1h-1zM199 9h1v1h-1zM210 9h1v1h-1zM212 9h1v1h-1zM233 9h1v1h-1zM237 9h1v1h-1zM244 9h1v1h-1zM251 9h1v1h-1zM260 9h1v1h-1zM265 9h1v1h-1zM285 9h1v1h-1zM290 9h1v1h-1zM292 9h1v1h-1zM297 9h1v1h-1zM304 9h1v1h-1zM306 9h1v1h-1zM310 9h1v1h-1zM321 9h1v1h-1zM326 9h1v1h-1zM328 9h2v1h-2zM355 9h1v1h-1zM365 9h1v1h-1zM368 9h1v1h-1zM370 9h1v1h-1zM373 9h1v1h-1zM381 9h1v1h-1zM391 9h1v1h-1zM394 9h1v1h-1zM406 9h1v1h-1zM411 9h2v1h-2zM418 9h1v1h-1zM424 9h1v1h-1zM0 10h1v1h-1zM23 10h1v1h-1zM28 10h1v1h-1zM59 10h1v1h-1zM71 10h1v1h-1zM74 10h1v1h-1zM100 10h1v1h-1zM103 10h1v1h-1zM107 10h1v1h-1zM116 10h1v1h-1zM125 10h1v1h-1zM136 10h1v1h-1zM144 10h1v1h-1zM155 10h1v1h-1zM183 10h1v1h-1zM188 10h1v1h-1zM216 10h2v1h-2zM219 10h1v1h-1zM225 10h1v1h-1zM240 10h1v1h-1zM269 10h1v1h-1zM273 10h1v1h-1zM283 10h1v1h-1zM285 10h1v1h-1zM298 10h1v1h-1zM336 10h1v1h-1zM349 10h1v1h-1zM352 10h1v1h-1zM363 10h1v1h-1zM366 10h1v1h-1zM371 10h1v1h-1zM392 10h1v1h-1zM412 10h1v1h-1zM3 11h1v1h-1zM8 11h1v1h-1zM17 11h1v1h-1zM26 11h2v1h-2zM46 11h1v1h-1zM52 11h1v1h-1zM58 11h1v1h-1zM61 11h1v1h-1zM76 11h1v1h-1zM85 11h1v1h-1zM93 11h1v1h-1zM101 11h1v1h-1zM104 11h2v1h-2zM121 11h1v1h-1zM124 11h1v1h-1zM127 11h1v1h-1zM134 11h1v1h-1zM150 11h1v1h-1zM163 11h1v1h-1zM175 11h1v1h-1zM182 11h1v1h-1zM188 11h1v1h-1zM193 11h1v1h-1zM201 11h1v1h-1zM213 11h1v1h-1zM216 11h1v1h-1zM236 11h1v1h-1zM248 11h1v1h-1zM250 11h1v1h-1zM254 11h1v1h-1zM258 11h1v1h-1zM265 11h1v1h-1zM271 11h2v1h-2zM275 11h1v1h-1zM282 11h1v1h-1zM300 11h1v1h-1zM313 11h1v1h-1zM318 11h1v1h-1zM340 11h1v1h-1zM356 11h1v1h-1zM391 11h1v1h-1zM396 11h1v1h-1zM401 11h1v1h-1zM408 11h1v1h-1zM1 12h1v1h-1zM17 12h1v1h-1zM32 12h2v1h-2zM38 12h1v1h-1zM42 12h2v1h-2zM61 12h1v1h-1zM76 12h1v1h-1zM84 12h1v1h-1zM89 12h1v1h-1zM106 12h1v1h-1zM109 12h1v1h-1zM138 12h1v1h-1zM140 12h1v1h-1zM155 12h1v1h-1zM169 12h1v1h-1zM178 12h1v1h-1zM191 12h1v1h-1zM254 12h1v1h-1zM261 12h1v1h-1zM269 12h1v1h-1zM283 12h1v1h-1zM288 12h1v1h-1zM294 12h1v1h-1zM305 12h1v1h-1zM330 12h1v1h-1zM348 12h1v1h-1zM350 12h1v1h-1zM354 12h2v1h-2zM360 12h1v1h-1zM362 12h1v1h-1zM379 12h1v1h-1zM382 12h1v1h-1zM384 12h1v1h-1zM405 12h1v1h-1zM421 12h1v1h-1z"/>
<path fill="#faf5ff" d="M3 0h1v1h-1zM26 0h1v1h-1zM42 0h1v1h-1zM44 0h1v1h-1zM50 0h1v1h-1zM56 0h1v1h-1zM68 0h1v1h-1zM74 0h1v1h-1zM76 0h1v1h-1zM95 0h1v1h-1zM97 0h1v1h-1zM104 0h1v1h-1zM117 0h1v1h-1zM122 0h2v1h-2zM134 0h1v1h-1zM137 0h1v1h-1zM152 0h1v1h-1zM159 0h1v1h-1zM161 0h1v1h-1zM170 0h1v1h-1zM172 0h1v1h-1zM179 0h1v1h-1zM181 0h1v1h-1zM200 0h1v1h-1zM207 0h1v1h-1zM229 0h2v1h-2zM241 0h1v1h-1zM251 0h1v1h-1zM261 0h1v1h-1zM263 0h1v1h-1zM265 0h1v1h-1zM270 0h1v1h-1zM276 0h1v1h-1zM284 0h1v1h-1zM296 0h1v1h-1zM302 0h1v1h-1zM313 0h2v1h-2zM329 0h1v1h-1zM336 0h1v1h-1zM341 0h1v1h-1zM355 0h1v1h-1zM359 0h1v1h-1zM377 0h1v1h-1zM380 0h2v1h-2zM387 0h1v1h-1zM397 0h2v1h-2zM1 1h1v1h-1zM9 1h1v1h-1zM23 1h1v1h-1zM25 1h1v1h-1zM33 1h1v1h-1zM47 1h1v1h-1zM49 1h1v1h-1zM78 1h1v1h-1zM84 1h1v1h-1zM103 1h1v1h-1zM107 1h1v1h-1zM126 1h1v1h-1zM129 1h1v1h-1zM141 1h1v1h-1zM145 1h1v1h-1zM156 1h1v1h-1zM164 1h1v1h-1zM176 1h1v1h-1zM187 1h2v1h-2zM198 1h1v1h-1zM215 1h1v1h-1zM233 1h1v1h-1zM252 1h1v1h-1zM262 1h2v1h-2zM273 1h1v1h-1zM281 1h1v1h-1zM297 1h1v1h-1zM303 1h1v1h-1zM314 1h1v1h-1zM321 1h1v1h-1zM323 1h1v1h-1zM327 1h2v1h-2zM333 1h1v1h-1zM345 1h1v1h-1zM349 1h1v1h-1zM407 1h1v1h-1zM422 1h1v1h-1zM0 2h2v1h-2zM17 2h1v1h-1zM30 2h1v1h-1zM32 2h1v1h-1zM41 2h2v1h-2zM68 2h1v1h-1zM71 2h1v1h-1zM78 2h1v1h-1zM84 2h1v1h-1zM99 2h1v1h-1zM101 2h1v1h-1zM126 2h1v1h-1zM159 2h1v1h-1zM180 2h1v1h-1zM184 2h1v1h-1zM203 2h1v1h-1zM209 2h1v1h-1zM213 2h1v1h-1zM215 2h1v1h-1zM234 2h1v1h-1zM239 2h1v1h-1zM245 2h2v1h-2zM268 2h1v1h-1zM274 2h1v1h-1zM296 2h1v1h-1zM304 2h1v1h-1zM308 2h2v1h-2zM312 2h1v1h-1zM315 2h1v1h-1zM343 2h1v1h-1zM357 2h1v1h-1zM361 2h1v1h-1zM363 2h1v1h-1zM367 2h1v1h-1zM371 2h1v1h-1zM380 2h1v1h-1zM385 2h1v1h-1zM410 2h1v1h-1zM0 3h1v1h-1zM9 3h2v1h-2zM18 3h1v1h-1zM21 3h1v1h-1zM24 3h1v1h-1zM52 3h1v1h-1zM55 3h1v1h-1zM69 3h1v1h-1zM75 3h2v1h-2zM83 3h1v1h-1zM104 3h1v1h-1zM106 3h1v1h-1zM124 3h1v1h-1zM136 3h1v1h-1zM139 3h1v1h-1zM142 3h1v1h-1zM149 3h1v1h-1zM155 3h1v1h-1zM157 3h1v1h-1zM165 3h1v1h-1zM174 3h2v1h-2zM190 3h1v1h-1zM194 3h1v1h-1zM198 3h1v1h-1zM214 3h1v1h-1zM217 3h1v1h-1zM224 3h1v1h-1zM228 3h1v1h-1zM242 3h1v1h-1zM247 3h1v1h-1zM250 3h1v1h-1zM253 3h1v1h-1zM269 3h1v1h-1zM279 3h1v1h-1zM287 3h1v1h-1zM297 3h1v1h-1zM310 3h1v1h-1zM346 3h1v1h-1zM354 3h1v1h-1zM367 3h1v1h-1zM381 3h1v1h-1zM3 4h2v1h-2zM8 4h1v1h-1zM31 4h1v1h-1zM41 4h1v1h-1zM51 4h1v1h-1zM55 4h2v1h-2zM67 4h1v1h-1zM69 4h1v1h-1zM72 4h1v1h-1zM79 4h1v1h-1zM82 4h1v1h-1zM98 4h1v1h-1zM101 4h1v1h-1zM103 4h1v1h-1zM109 4h1v1h-1zM124 4h2v1h-2zM145 4h1v1h-1zM155 4h2v1h-2zM161 4h1v1h-1zM163 4h1v1h-1zM170 4h1v1h-1zM179 4h1v1h-1zM185 4h1v1h-1zM188 4h1v1h-1zM190 4h1v1h-1zM197 4h2v1h-2zM216 4h1v1h-1zM230 4h1v1h-1zM235 4h1v1h-1zM241 4h1v1h-1zM276 4h1v1h-1zM278 4h1v1h-1zM299 4h1v1h-1zM310 4h1v1h-1zM324 4h1v1h-1zM329 4h2v1h-2zM423 4h1v1h-1zM10 5h1v1h-1zM49 5h1v1h-1zM52 5h4v1h-4zM59 5h1v1h-1zM77 5h1v1h-1zM90 5h2v1h-2zM112 5h1v1h-1zM120 5h1v1h-1zM124 5h1v1h-1zM144 5h1v1h-1zM150 5h1v1h-1zM159 5h1v1h-1zM176 5h1v1h-1zM187 5h1v1h-1zM198 5h1v1h-1zM213 5h1v1h-1zM217 5h1v1h-1zM227 5h1v1h-1zM257 5h1v1h-1zM264 5h1v1h-1zM269 5h1v1h-1zM273 5h2v1h-2zM279 5h1v1h-1zM287 5h1v1h-1zM291 5h1v1h-1zM305 5h1v1h-1zM310 5h2v1h-2zM323 5h1v1h-1zM325 5h1v1h-1zM329 5h1v1h-1zM350 5h1v1h-1zM357 5h1v1h-1zM360 5h1v1h-1zM366 5h1v1h-1zM380 5h1v1h-1zM383 5h1v1h-1zM385 5h1v1h-1zM391 5h1v1h-1zM393 5h1v1h-1zM396 5h1v1h-1zM409 5h1v1h-1zM57 6h1v1h-1zM61 6h1v1h-1zM83 6h1v1h-1zM87 6h2v1h-2zM95 6h2v1h-2zM99 6h1v1h-1zM135 6h2v1h-2zM143 6h1v1h-1zM146 6h1v1h-1zM167 6h1v1h-1zM177 6h1v1h-1zM181 6h1v1h-1zM188 6h1v1h-1zM212 6h1v1h-1zM229 6h1v1h-1zM232 6h1v1h-1zM237 6h1v1h-1zM243 6h1v1h-1zM292 6h1v1h-1zM295 6h1v1h-1zM303 6h1v1h-1zM320 6h1v1h-1zM329 6h1v1h-1zM333 6h1v1h-1zM337 6h1v1h-1zM341 6h1v1h-1zM346 6h1v1h-1zM348 6h1v1h-1zM352 6h1v1h-1zM357 6h1v1h-1zM365 6h1v1h-1zM375 6h1v1h-1zM379 6h1v1h-1zM385 6h2v1h-2zM388 6h1v1h-1zM392 6h2v1h-2zM398 6h1v1h-1zM406 6h1v1h-1zM411 6h1v1h-1zM12 7h1v1h-1zM16 7h1v1h-1zM25 7h1v1h-1zM58 7h1v1h-1zM63 7h1v1h-1zM81 7h1v1h-1zM83 7h2v1h-2zM89 7h1v1h-1zM92 7h1v1h-1zM98 7h1v1h-1zM106 7h1v1h-1zM109 7h1v1h-1zM127 7h1v1h-1zM144 7h1v1h-1zM149 7h1v1h-1zM165 7h1v1h-1zM188 7h1v1h-1zM197 7h1v1h-1zM201 7h1v1h-1zM215 7h1v1h-1zM227 7h1v1h-1zM229 7h1v1h-1zM241 7h1v1h-1zM252 7h1v1h-1zM261 7h1v1h-1zM268 7h2v1h-2zM278 7h1v1h-1zM280 7h1v1h-1zM295 7h2v1h-2zM312 7h1v1h-1zM326 7h1v1h-1zM341 7h1v1h-1zM349 7h1v1h-1zM365 7h1v1h-1zM376 7h1v1h-1zM379 7h1v1h-1zM386 7h1v1h-1zM388 7h1v1h-1zM403 7h2v1h-2zM419 7h1v1h-1zM421 7h1v1h-1zM20 8h2v1h-2zM32 8h1v1h-1zM43 8h1v1h-1zM46 8h2v1h-2zM52 8h1v1h-1zM73 8h1v1h-1zM78 8h1v1h-1zM113 8h1v1h-1zM132 8h1v1h-1zM162 8h1v1h-1zM173 8h1v1h-1zM183 8h1v1h-1zM187 8h1v1h-1zM192 8h1v1h-1zM210 8h1v1h-1zM214 8h1v1h-1zM224 8h1v1h-1zM228 8h1v1h-1zM230 8h1v1h-1zM234 8h1v1h-1zM268 8h1v1h-1zM272 8h1v1h-1zM284 8h1v1h-1zM302 8h1v1h-1zM305 8h2v1h-2zM315 8h1v1h-1zM325 8h1v1h-1zM339 8h2v1h-2zM343 8h1v1h-1zM362 8h1v1h-1zM369 8h1v1h-1zM372 8h1v1h-1zM375 8h1v1h-1zM407 8h1v1h-1zM422 8h2v1h-2zM7 9h1v1h-1zM27 9h1v1h-1zM36 9h1v1h-1zM129 9h1v1h-1zM131 9h1v1h-1zM134 9h1v1h-1zM140 9h1v1h-1zM145 9h1v1h-1zM147 9h1v1h-1zM160 9h1v1h-1zM176 9h1v1h-1zM186 9h1v1h-1zM204 9h1v1h-1zM226 9h1v1h-1zM245 9h1v1h-1zM250 9h1v1h-1zM252 9h1v1h-1zM254 9h1v1h-1zM259 9h1v1h-1zM267 9h1v1h-1zM271 9h1v1h-1zM277 9h3v1h-3zM281 9h2v1h-2zM289 9h1v1h-1zM301 9h1v1h-1zM311 9h1v1h-1zM313 9h1v1h-1zM333 9h1v1h-1zM340 9h1v1h-1zM347 9h1v1h-1zM350 9h1v1h-1zM352 9h1v1h-1zM362 9h1v1h-1zM379 9h2v1h-2zM386 9h1v1h-1zM388 9h1v1h-1zM397 9h1v1h-1zM403 9h1v1h-1zM408 9h1v1h-1zM413 9h1v1h-1zM415 9h1v1h-1zM423 9h1v1h-1zM19 10h1v1h-1zM24 10h1v1h-1zM31 10h1v1h-1zM38 10h1v1h-1zM49 10h1v1h-1zM61 10h1v1h-1zM65 10h1v1h-1zM85 10h1v1h-1zM101 10h1v1h-1zM106 10h1v1h-1zM110 10h1v1h-1zM113 10h1v1h-1zM122 10h1v1h-1zM137 10h1v1h-1zM148 10h1v1h-1zM157 10h2v1h-2zM164 10h1v1h-1zM167 10h1v1h-1zM184 10h1v1h-1zM186 10h1v1h-1zM189 10h1v1h-1zM191 10h1v1h-1zM200 10h1v1h-1zM205 10h1v1h-1zM209 10h1v1h-1zM224 10h1v1h-1zM231 10h1v1h-1zM272 10h1v1h-1zM277 10h1v1h-1zM279 10h1v1h-1zM282 10h1v1h-1zM284 10h1v1h-1zM301 10h1v1h-1zM303 10h1v1h-1zM310 10h1v1h-1zM313 10h1v1h-1zM345 10h1v1h-1zM360 10h1v1h-1zM376 10h3v1h-3zM380 10h1v1h-1zM382 10h2v1h-2zM385 10h2v1h-2zM394 10h1v1h-1zM398 10h1v1h-1zM410 10h1v1h-1zM415 10h1v1h-1zM419 10h1v1h-1zM0 11h1v1h-1zM11 11h1v1h-1zM20 11h1v1h-1zM24 11h2v1h-2zM40 11h1v1h-1zM45 11h1v1h-1zM63 11h1v1h-1zM94 11h2v1h-2zM108 11h1v1h-1zM111 11h1v1h-1zM123 11h1v1h-1zM126 11h1v1h-1zM137 11h2v1h-2zM140 11h1v1h-1zM166 11h1v1h-1zM172 11h1v1h-1zM195 11h1v1h-1zM205 11h1v1h-1zM209 11h1v1h-1zM215 11h1v1h-1zM218 11h1v1h-1zM221 11h1v1h-1zM229 11h1v1h-1zM249 11h1v1h-1zM256 11h1v1h-1zM263 11h2v1h-2zM269 11h1v1h-1zM288 11h1v1h-1zM297 11h2v1h-2zM303 11h1v1h-1zM309 11h3v1h-3zM317 11h1v1h-1zM333 11h2v1h-2zM345 11h1v1h-1zM349 11h1v1h-1zM351 11h1v1h-1zM390 11h1v1h-1zM422 11h1v1h-1zM7 12h1v1h-1zM30 12h1v1h-1zM55 12h1v1h-1zM67 12h1v1h-1zM79 12h1v1h-1zM95 12h1v1h-1zM99 12h1v1h-1zM102 12h1v1h-1zM104 12h1v1h-1zM110 12h1v1h-1zM119 12h1v1h-1zM132 12h1v1h-1zM141 12h1v1h-1zM151 12h1v1h-1zM164 12h1v1h-1zM182 12h1v1h-1zM186 12h1v1h-1zM192 12h1v1h-1zM198 12h1v1h-1zM205 12h2v1h-2zM208 12h1v1h-1zM214 12h1v1h-1zM220 12h1v1h-1zM252 12h1v1h-1zM256 12h1v1h-1zM258 12h1v1h-1zM263 12h1v1h-1zM298 12h1v1h-1zM308 12h1v1h-1zM336 12h1v1h-1zM345 12h1v1h-1zM366 12h2v1h-2zM373 12h1v1h-1zM375 12h1v1h-1zM381 12h1v1h-1zM394 12h2v1h-2zM419 12h1v1h-1z"/>
<path fill="#ffffff" d="M1 0h1v1h-1zM12 0h1v1h-1zM23 0h1v1h-1zM27 0h1v1h-1zM34 0h1v1h-1zM40 0h1v1h-1zM43 0h1v1h-1zM48 0h1v1h-1zM55 0h1v1h-1zM65 0h1v1h-1zM67 0h1v1h-1zM73 0h1v1h-1zM77 0h1v1h-1zM81 0h1v1h-1zM88 0h1v1h-1zM90 0h1v1h-1zM100 0h1v1h-1zM106 0h1v1h-1zM110 0h1v1h-1zM114 0h1v1h-1zM120 0h1v1h-1zM143 0h1v1h-1zM190 0h1v1h-1zM201 0h1v1h-1zM210 0h1v1h-1zM219 0h1v1h-1zM224 0h1v1h-1zM243 0h1v1h-1zM249 0h1v1h-1zM260 0h1v1h-1zM264 0h1v1h-1zM275 0h1v1h-1zM281 0h2v1h-2zM285 0h1v1h-1zM306 0h1v1h-1zM310 0h1v1h-1zM327 0h1v1h-1zM330 0h1v1h-1zM345 0h1v1h-1zM363 0h1v1h-1zM368 0h1v1h-1zM375 0h1v1h-1zM392 0h1v1h-1zM12 1h1v1h-1zM18 1h1v1h-1zM26 1h1v1h-1zM35 1h1v1h-1zM37 1h1v1h-1zM58 1h1v1h-1zM60 1h1v1h-1zM63 1h1v1h-1zM66 1h1v1h-1zM74 1h1v1h-1zM92 1h1v1h-1zM119 1h1v1h-1zM127 1h1v1h-1zM130 1h1v1h-1zM137 1h1v1h-1zM157 1h1v1h-1zM165 1h1v1h-1zM172 1h1v1h-1zM193 1h1v1h-1zM201 1h1v1h-1zM216 1h1v1h-1zM226 1h1v1h-1zM228 1h1v1h-1zM230 1h3v1h-3zM254 1h1v1h-1zM260 1h1v1h-1zM266 1h1v1h-1zM271 1h1v1h-1zM278 1h1v1h-1zM280 1h1v1h-1zM286 1h1v1h-1zM288 1h1v1h-1zM305 1h1v1h-1zM308 1h1v1h-1zM313 1h1v1h-1zM319 1h1v1h-1zM322 1h1v1h-1zM335 1h1v1h-1zM338 1h2v1h-2zM344 1h1v1h-1zM371 1h1v1h-1zM389 1h1v1h-1zM392 1h1v1h-1zM397 1h1v1h-1zM402 1h1v1h-1zM410 1h1v1h-1zM416 1h1v1h-1zM13 2h1v1h-1zM27 2h1v1h-1zM43 2h1v1h-1zM52 2h1v1h-1zM56 2h1v1h-1zM59 2h1v1h-1zM61 2h1v1h-1zM82 2h1v1h-1zM98 2h1v1h-1zM105 2h1v1h-1zM109 2h1v1h-1zM122 2h1v1h-1zM124 2h2v1h-2zM132 2h1v1h-1zM134 2h1v1h-1zM148 2h2v1h-2zM151 2h1v1h-1zM165 2h1v1h-1zM170 2h1v1h-1zM176 2h1v1h-1zM178 2h1v1h-1zM182 2h1v1h-1zM201 2h1v1h-1zM219 2h1v1h-1zM231 2h1v1h-1zM233 2h1v1h-1zM249 2h1v1h-1zM258 2h1v1h-1zM262 2h1v1h-1zM270 2h1v1h-1zM282 2h1v1h-1zM295 2h1v1h-1zM300 2h1v1h-1zM305 2h1v1h-1zM320 2h1v1h-1zM328 2h1v1h-1zM336 2h2v1h-2zM347 2h1v1h-1zM352 2h1v1h-1zM389 2h1v1h-1zM415 2h1v1h-1zM1 3h1v1h-1zM23 3h1v1h-1zM31 3h1v1h-1zM37 3h2v1h-2zM41 3h1v1h-1zM53 3h2v1h-2zM63 3h1v1h-1zM71 3h2v1h-2zM78 3h1v1h-1zM92 3h1v1h-1zM112 3h1v1h-1zM121 3h1v1h-1zM126 3h1v1h-1zM166 3h1v1h-1zM222 3h2v1h-2zM236 3h1v1h-1zM277 3h1v1h-1zM280 3h1v1h-1zM283 3h2v1h-2zM291 3h1v1h-1zM294 3h1v1h-1zM300 3h1v1h-1zM304 3h1v1h-1zM312 3h1v1h-1zM321 3h1v1h-1zM327 3h1v1h-1zM340 3h1v1h-1zM348 3h1v1h-1zM353 3h1v1h-1zM372 3h2v1h-2zM375 3h1v1h-1zM395 3h1v1h-1zM428 3h2v1h-2zM7 4h1v1h-1zM25 4h1v1h-1zM33 4h1v1h-1zM36 4h1v1h-1zM42 4h1v1h-1zM46 4h1v1h-1zM50 4h1v1h-1zM73 4h1v1h-1zM76 4h2v1h-2zM91 4h1v1h-1zM95 4h2v1h-2zM108 4h1v1h-1zM114 4h1v1h-1zM117 4h1v1h-1zM120 4h1v1h-1zM138 4h1v1h-1zM141 4h1v1h-1zM144 4h1v1h-1zM153 4h1v1h-1zM166 4h1v1h-1zM173 4h1v1h-1zM178 4h1v1h-1zM206 4h5v1h-5zM226 4h1v1h-1zM229 4h1v1h-1zM236 4h1v1h-1zM239 4h1v1h-1zM248 4h2v1h-2zM252 4h1v1h-1zM257 4h1v1h-1zM267 4h2v1h-2zM292 4h1v1h-1zM295 4h1v1h-1zM303 4h1v1h-1zM308 4h1v1h-1zM312 4h2v1h-2zM317 4h1v1h-1zM328 4h1v1h-1zM338 4h4v1h-4zM351 4h1v1h-1zM354 4h3v1h-3zM365 4h1v1h-1zM371 4h1v1h-1zM390 4h1v1h-1zM420 4h1v1h-1zM21 5h1v1h-1zM33 5h1v1h-1zM43 5h2v1h-2zM74 5h1v1h-1zM89 5h1v1h-1zM123 5h1v1h-1zM143 5h1v1h-1zM147 5h1v1h-1zM156 5h3v1h-3zM175 5h1v1h-1zM177 5h1v1h-1zM186 5h1v1h-1zM188 5h1v1h-1zM211 5h1v1h-1zM233 5h1v1h-1zM235 5h1v1h-1zM241 5h1v1h-1zM259 5h1v1h-1zM281 5h1v1h-1zM286 5h1v1h-1zM297 5h1v1h-1zM309 5h1v1h-1zM333 5h1v1h-1zM344 5h1v1h-1zM349 5h1v1h-1zM358 5h1v1h-1zM363 5h1v1h-1zM365 5h1v1h-1zM367 5h1v1h-1zM374 5h1v1h-1zM386 5h1v1h-1zM398 5h1v1h-1zM406 5h2v1h-2zM414 5h1v1h-1zM425 5h2v1h-2zM429 5h1v1h-1zM13 6h1v1h-1zM29 6h1v1h-1zM63 6h1v1h-1zM73 6h2v1h-2zM76 6h2v1h-2zM93 6h1v1h-1zM121 6h1v1h-1zM123 6h1v1h-1zM128 6h1v1h-1zM150 6h1v1h-1zM157 6h1v1h-1zM168 6h1v1h-1zM171 6h1v1h-1zM175 6h1v1h-1zM179 6h1v1h-1zM182 6h2v1h-2zM204 6h1v1h-1zM210 6h2v1h-2zM214 6h1v1h-1zM219 6h2v1h-2zM231 6h1v1h-1zM248 6h1v1h-1zM251 6h1v1h-1zM254 6h1v1h-1zM264 6h1v1h-1zM273 6h1v1h-1zM282 6h3v1h-3zM299 6h1v1h-1zM302 6h1v1h-1zM308 6h1v1h-1zM313 6h1v1h-1zM321 6h1v1h-1zM325 6h1v1h-1zM343 6h1v1h-1zM351 6h1v1h-1zM377 6h1v1h-1zM381 6h2v1h-2zM420 6h1v1h-1zM2 7h1v1h-1zM31 7h1v1h-1zM35 7h1v1h-1zM48 7h1v1h-1zM50 7h1v1h-1zM53 7h1v1h-1zM74 7h1v1h-1zM90 7h1v1h-1zM105 7h1v1h-1zM113 7h1v1h-1zM119 7h1v1h-1zM130 7h1v1h-1zM140 7h1v1h-1zM153 7h1v1h-1zM155 7h1v1h-1zM158 7h1v1h-1zM160 7h1v1h-1zM162 7h2v1h-2zM172 7h1v1h-1zM190 7h1v1h-1zM213 7h1v1h-1zM219 7h1v1h-1zM226 7h1v1h-1zM237 7h1v1h-1zM248 7h2v1h-2zM251 7h1v1h-1zM265 7h1v1h-1zM276 7h1v1h-1zM284 7h1v1h-1zM293 7h1v1h-1zM297 7h1v1h-1zM320 7h1v1h-1zM324 7h1v1h-1zM329 7h1v1h-1zM331 7h1v1h-1zM338 7h1v1h-1zM343 7h1v1h-1zM346 7h2v1h-2zM355 7h1v1h-1zM362 7h1v1h-1zM377 7h1v1h-1zM380 7h1v1h-1zM389 7h1v1h-1zM394 7h1v1h-1zM399 7h1v1h-1zM407 7h1v1h-1zM409 7h1v1h-1zM414 7h1v1h-1zM429 7h1v1h-1zM15 8h1v1h-1zM24 8h1v1h-1zM36 8h1v1h-1zM42 8h1v1h-1zM61 8h1v1h-1zM67 8h1v1h-1zM76 8h1v1h-1zM82 8h1v1h-1zM110 8h1v1h-1zM124 8h1v1h-1zM134 8h1v1h-1zM136 8h1v1h-1zM139 8h2v1h-2zM170 8h1v1h-1zM178 8h1v1h-1zM184 8h3v1h-3zM194 8h1v1h-1zM204 8h1v1h-1zM212 8h1v1h-1zM219 8h1v1h-1zM226 8h1v1h-1zM253 8h1v1h-1zM271 8h1v1h-1zM279 8h1v1h-1zM294 8h1v1h-1zM307 8h1v1h-1zM313 8h1v1h-1zM328 8h1v1h-1zM338 8h1v1h-1zM345 8h1v1h-1zM349 8h1v1h-1zM359 8h1v1h-1zM363 8h1v1h-1zM367 8h1v1h-1zM5 9h1v1h-1zM8 9h2v1h-2zM38 9h2v1h-2zM48 9h1v1h-1zM61 9h1v1h-1zM66 9h1v1h-1zM77 9h1v1h-1zM124 9h1v1h-1zM128 9h1v1h-1zM136 9h1v1h-1zM138 9h1v1h-1zM172 9h1v1h-1zM191 9h1v1h-1zM195 9h1v1h-1zM200 9h1v1h-1zM203 9h1v1h-1zM205 9h2v1h-2zM215 9h1v1h-1zM221 9h1v1h-1zM228 9h1v1h-1zM230 9h1v1h-1zM240 9h1v1h-1zM242 9h2v1h-2zM246 9h1v1h-1zM261 9h1v1h-1zM264 9h1v1h-1zM272 9h1v1h-1zM288 9h1v1h-1zM307 9h1v1h-1zM309 9h1v1h-1zM316 9h1v1h-1zM336 9h1v1h-1zM344 9h1v1h-1zM353 9h1v1h-1zM356 9h1v1h-1zM359 9h1v1h-1zM366 9h1v1h-1zM374 9h1v1h-1zM401 9h1v1h-1zM409 9h1v1h-1zM422 9h1v1h-1zM18 10h1v1h-1zM29 10h1v1h-1zM41 10h1v1h-1zM50 10h1v1h-1zM52 10h1v1h-1zM60 10h1v1h-1zM81 10h1v1h-1zM88 10h1v1h-1zM96 10h1v1h-1zM98 10h1v1h-1zM102 10h1v1h-1zM119 10h1v1h-1zM124 10h1v1h-1zM141 10h1v1h-1zM168 10h1v1h-1zM177 10h1v1h-1zM192 10h1v1h-1zM197 10h2v1h-2zM214 10h1v1h-1zM221 10h1v1h-1zM235 10h2v1h-2zM238 10h1v1h-1zM252 10h1v1h-1zM263 10h1v1h-1zM270 10h1v1h-1zM280 10h1v1h-1zM288 10h1v1h-1zM292 10h1v1h-1zM294 10h1v1h-1zM302 10h1v1h-1zM307 10h1v1h-1zM309 10h1v1h-1zM311 10h1v1h-1zM316 10h1v1h-1zM321 10h1v1h-1zM325 10h1v1h-1zM327 10h1v1h-1zM330 10h2v1h-2zM333 10h1v1h-1zM335 10h1v1h-1zM342 10h1v1h-1zM351 10h1v1h-1zM353 10h1v1h-1zM357 10h2v1h-2zM362 10h1v1h-1zM416 10h1v1h-1zM423 10h1v1h-1zM425 10h1v1h-1zM7 11h1v1h-1zM32 11h2v1h-2zM44 11h1v1h-1zM48 11h1v1h-1zM59 11h1v1h-1zM72 11h1v1h-1zM74 11h1v1h-1zM77 11h1v1h-1zM82 11h1v1h-1zM84 11h1v1h-1zM88 11h1v1h-1zM91 11h1v1h-1zM96 11h1v1h-1zM107 11h1v1h-1zM112 11h2v1h-2zM136 11h1v1h-1zM142 11h1v1h-1zM148 11h1v1h-1zM158 11h1v1h-1zM165 11h1v1h-1zM167 11h1v1h-1zM179 11h1v1h-1zM194 11h1v1h-1zM197 11h1v1h-1zM202 11h1v1h-1zM207 11h1v1h-1zM223 11h2v1h-2zM238 11h3v1h-3zM243 11h1v1h-1zM274 11h1v1h-1zM280 11h1v1h-1zM284 11h1v1h-1zM289 11h1v1h-1zM292 11h1v1h-1zM294 11h1v1h-1zM296 11h1v1h-1zM302 11h1v1h-1zM324 11h1v1h-1zM346 11h1v1h-1zM348 11h1v1h-1zM354 11h1v1h-1zM365 11h1v1h-1zM380 11h1v1h-1zM400 11h1v1h-1zM407 11h1v1h-1zM411 11h1v1h-1zM413 11h2v1h-2zM425 11h1v1h-1zM2 12h1v1h-1zM5 12h1v1h-1zM9 12h1v1h-1zM11 12h1v1h-1zM20 12h1v1h-1zM40 12h1v1h-1zM47 12h1v1h-1zM54 12h1v1h-1zM65 12h1v1h-1zM83 12h1v1h-1zM108 12h1v1h-1zM113 12h1v1h-1zM124 12h1v1h-1zM136 12h1v1h-1zM163 12h1v1h-1zM171 12h1v1h-1zM194 12h1v1h-1zM201 12h1v1h-1zM218 12h1v1h-1zM224 12h1v1h-1zM226 12h1v1h-1zM233 12h1v1h-1zM249 12h3v1h-3zM257 12h1v1h-1zM272 12h1v1h-1zM274 12h1v1h-1zM280 12h1v1h-1zM287 12h1v1h-1zM289 12h1v1h-1zM307 12h1v1h-1zM314 12h1v1h-1zM320 12h2v1h-2zM328 12h2v1h-2zM334 12h1v1h-1zM352 12h1v1h-1zM356 12h1v1h-1zM358 12h1v1h-1zM369 12h2v1h-2zM372 12h1v1h-1zM376 12h1v1h-1zM387 12h1v1h-1zM389 12h1v1h-1zM396 12h1v1h-1zM414 12h1v1h-1zM420 12h1v1h-1zM422 12h1v1h-1z"/>
<path fill="#fff7f4" d="M11 0h1v1h-1zM49 0h1v1h-1zM51 0h1v1h-1zM66 0h1v1h-1zM75 0h1v1h-1zM102 0h1v1h-1zM105 0h1v1h-1zM116 0h1v1h-1zM132 0h1v1h-1zM141 0h1v1h-1zM144 0h1v1h-1zM150 0h2v1h-2zM156 0h1v1h-1zM162 0h1v1h-1zM165 0h1v1h-1zM171 0h1v1h-1zM184 0h1v1h-1zM192 0h1v1h-1zM196 0h1v1h-1zM204 0h2v1h-2zM213 0h1v1h-1zM228 0h1v1h-1zM237 0h1v1h-1zM258 0h1v1h-1zM262 0h1v1h-1zM278 0h1v1h-1zM288 0h1v1h-1zM291 0h2v1h-2zM301 0h1v1h-1zM316 0h1v1h-1zM325 0h1v1h-1zM339 0h1v1h-1zM348 0h1v1h-1zM371 0h1v1h-1zM389 0h1v1h-1zM407 0h1v1h-1zM414 0h1v1h-1zM424 0h1v1h-1zM426 0h1v1h-1zM17 1h1v1h-1zM31 1h1v1h-1zM44 1h1v1h-1zM71 1h1v1h-1zM105 1h1v1h-1zM135 1h1v1h-1zM138 1h1v1h-1zM146 1h1v1h-1zM158 1h1v1h-1zM171 1h1v1h-1zM174 1h1v1h-1zM180 1h2v1h-2zM185 1h1v1h-1zM189 1h1v1h-1zM202 1h1v1h-1zM237 1h2v1h-2zM251 1h1v1h-1zM265 1h1v1h-1zM293 1h1v1h-1zM306 1h1v1h-1zM320 1h1v1h-1zM332 1h1v1h-1zM337 1h1v1h-1zM352 1h1v1h-1zM364 1h1v1h-1zM390 1h1v1h-1zM403 1h1v1h-1zM406 1h1v1h-1zM414 1h1v1h-1zM418 1h1v1h-1zM12 2h1v1h-1zM15 2h1v1h-1zM19 2h1v1h-1zM39 2h1v1h-1zM58 2h1v1h-1zM79 2h1v1h-1zM97 2h1v1h-1zM107 2h1v1h-1zM123 2h1v1h-1zM139 2h1v1h-1zM152 2h1v1h-1zM154 2h1v1h-1zM162 2h2v1h-2zM177 2h1v1h-1zM192 2h1v1h-1zM195 2h1v1h-1zM197 2h1v1h-1zM199 2h1v1h-1zM207 2h2v1h-2zM211 2h1v1h-1zM217 2h1v1h-1zM227 2h1v1h-1zM229 2h2v1h-2zM243 2h1v1h-1zM255 2h3v1h-3zM259 2h1v1h-1zM261 2h1v1h-1zM263 2h1v1h-1zM280 2h1v1h-1zM287 2h1v1h-1zM290 2h1v1h-1zM298 2h1v1h-1zM301 2h1v1h-1zM317 2h1v1h-1zM330 2h1v1h-1zM332 2h2v1h-2zM339 2h2v1h-2zM346 2h1v1h-1zM350 2h1v1h-1zM355 2h1v1h-1zM370 2h1v1h-1zM376 2h1v1h-1zM379 2h1v1h-1zM383 2h1v1h-1zM421 2h1v1h-1zM22 3h1v1h-1zM44 3h1v1h-1zM50 3h1v1h-1zM60 3h1v1h-1zM73 3h2v1h-2zM79 3h1v1h-1zM84 3h1v1h-1zM89 3h1v1h-1zM95 3h1v1h-1zM99 3h1v1h-1zM101 3h1v1h-1zM122 3h1v1h-1zM132 3h1v1h-1zM138 3h1v1h-1zM143 3h1v1h-1zM151 3h1v1h-1zM153 3h1v1h-1zM159 3h1v1h-1zM170 3h2v1h-2zM187 3h1v1h-1zM195 3h1v1h-1zM202 3h1v1h-1zM215 3h2v1h-2zM218 3h1v1h-1zM220 3h1v1h-1zM244 3h1v1h-1zM246 3h1v1h-1zM261 3h1v1h-1zM264 3h1v1h-1zM270 3h1v1h-1zM282 3h1v1h-1zM286 3h1v1h-1zM290 3h1v1h-1zM309 3h1v1h-1zM313 3h1v1h-1zM318 3h2v1h-2zM323 3h2v1h-2zM331 3h1v1h-1zM333 3h1v1h-1zM337 3h1v1h-1zM342 3h2v1h-2zM362 3h1v1h-1zM378 3h1v1h-1zM385 3h1v1h-1zM387 3h2v1h-2zM391 3h1v1h-1zM402 3h2v1h-2zM407 3h1v1h-1zM419 3h1v1h-1zM421 3h1v1h-1zM2 4h1v1h-1zM11 4h1v1h-1zM20 4h2v1h-2zM34 4h1v1h-1zM54 4h1v1h-1zM68 4h1v1h-1zM71 4h1v1h-1zM87 4h1v1h-1zM92 4h3v1h-3zM104 4h1v1h-1zM106 4h1v1h-1zM112 4h1v1h-1zM140 4h1v1h-1zM147 4h1v1h-1zM165 4h1v1h-1zM176 4h1v1h-1zM181 4h1v1h-1zM191 4h1v1h-1zM195 4h1v1h-1zM200 4h1v1h-1zM213 4h1v1h-1zM215 4h1v1h-1zM221 4h1v1h-1zM223 4h1v1h-1zM227 4h2v1h-2zM243 4h1v1h-1zM259 4h1v1h-1zM264 4h1v1h-1zM269 4h1v1h-1zM285 4h2v1h-2zM289 4h1v1h-1zM293 4h1v1h-1zM320 4h2v1h-2zM326 4h1v1h-1zM363 4h1v1h-1zM377 4h1v1h-1zM407 4h1v1h-1zM425 4h1v1h-1zM0 5h1v1h-1zM15 5h2v1h-2zM19 5h1v1h-1zM40 5h3v1h-3zM70 5h1v1h-1zM75 5h1v1h-1zM78 5h3v1h-3zM97 5h1v1h-1zM99 5h2v1h-2zM110 5h1v1h-1zM114 5h1v1h-1zM119 5h1v1h-1zM140 5h1v1h-1zM170 5h3v1h-3zM185 5h1v1h-1zM191 5h1v1h-1zM194 5h1v1h-1zM215 5h1v1h-1zM224 5h1v1h-1zM240 5h1v1h-1zM243 5h1v1h-1zM247 5h1v1h-1zM256 5h1v1h-1zM266 5h1v1h-1zM278 5h1v1h-1zM289 5h1v1h-1zM294 5h1v1h-1zM301 5h2v1h-2zM321 5h1v1h-1zM328 5h1v1h-1zM332 5h1v1h-1zM356 5h1v1h-1zM390 5h1v1h-1zM397 5h1v1h-1zM399 5h1v1h-1zM421 5h1v1h-1zM3 6h2v1h-2zM7 6h2v1h-2zM10 6h3v1h-3zM44 6h1v1h-1zM52 6h1v1h-1zM54 6h1v1h-1zM59 6h1v1h-1zM66 6h2v1h-2zM78 6h1v1h-1zM80 6h1v1h-1zM82 6h1v1h-1zM84 6h1v1h-1zM105 6h2v1h-2zM108 6h1v1h-1zM110 6h1v1h-1zM131 6h2v1h-2zM134 6h1v1h-1zM138 6h1v1h-1zM155 6h2v1h-2zM165 6h1v1h-1zM176 6h1v1h-1zM190 6h1v1h-1zM197 6h1v1h-1zM199 6h1v1h-1zM208 6h1v1h-1zM223 6h1v1h-1zM245 6h1v1h-1zM247 6h1v1h-1zM255 6h1v1h-1zM260 6h1v1h-1zM278 6h1v1h-1zM289 6h1v1h-1zM298 6h1v1h-1zM310 6h1v1h-1zM318 6h1v1h-1zM342 6h1v1h-1zM344 6h1v1h-1zM349 6h1v1h-1zM355 6h1v1h-1zM395 6h1v1h-1zM397 6h1v1h-1zM415 6h1v1h-1zM4 7h1v1h-1zM11 7h1v1h-1zM22 7h1v1h-1zM46 7h1v1h-1zM72 7h1v1h-1zM82 7h1v1h-1zM94 7h1v1h-1zM99 7h1v1h-1zM123 7h1v1h-1zM132 7h1v1h-1zM135 7h4v1h-4zM145 7h1v1h-1zM148 7h1v1h-1zM157 7h1v1h-1zM159 7h1v1h-1zM174 7h1v1h-1zM177 7h1v1h-1zM181 7h1v1h-1zM184 7h1v1h-1zM187 7h1v1h-1zM193 7h1v1h-1zM196 7h1v1h-1zM200 7h1v1h-1zM202 7h1v1h-1zM218 7h1v1h-1zM222 7h1v1h-1zM231 7h1v1h-1zM254 7h1v1h-1zM260 7h1v1h-1zM267 7h1v1h-1zM273 7h3v1h-3zM299 7h1v1h-1zM314 7h1v1h-1zM323 7h1v1h-1zM325 7h1v1h-1zM342 7h1v1h-1zM352 7h1v1h-1zM392 7h1v1h-1zM422 7h3v1h-3zM0 8h2v1h-2zM6 8h1v1h-1zM26 8h3v1h-3zM44 8h1v1h-1zM48 8h1v1h-1zM53 8h1v1h-1zM56 8h1v1h-1zM58 8h1v1h-1zM64 8h2v1h-2zM70 8h2v1h-2zM74 8h1v1h-1zM77 8h1v1h-1zM84 8h1v1h-1zM86 8h1v1h-1zM88 8h2v1h-2zM91 8h1v1h-1zM93 8h2v1h-2zM98 8h1v1h-1zM100 8h1v1h-1zM104 8h1v1h-1zM115 8h1v1h-1zM131 8h1v1h-1zM145 8h1v1h-1zM150 8h1v1h-1zM164 8h2v1h-2zM171 8h1v1h-1zM195 8h2v1h-2zM198 8h1v1h-1zM207 8h2v1h-2zM213 8h1v1h-1zM229 8h1v1h-1zM254 8h1v1h-1zM260 8h1v1h-1zM264 8h1v1h-1zM289 8h1v1h-1zM300 8h1v1h-1zM312 8h1v1h-1zM314 8h1v1h-1zM319 8h1v1h-1zM322 8h1v1h-1zM347 8h1v1h-1zM358 8h1v1h-1zM360 8h2v1h-2zM370 8h1v1h-1zM408 8h1v1h-1zM410 8h1v1h-1zM412 8h2v1h-2zM425 8h2v1h-2zM429 8h1v1h-1zM3 9h1v1h-1zM11 9h1v1h-1zM16 9h1v1h-1zM49 9h1v1h-1zM51 9h1v1h-1zM53 9h1v1h-1zM74 9h1v1h-1zM78 9h2v1h-2zM97 9h1v1h-1zM99 9h1v1h-1zM103 9h1v1h-1zM107 9h1v1h-1zM123 9h1v1h-1zM135 9h1v1h-1zM146 9h1v1h-1zM159 9h1v1h-1zM165 9h1v1h-1zM175 9h1v1h-1zM184 9h1v1h-1zM193 9h1v1h-1zM201 9h1v1h-1zM209 9h1v1h-1zM213 9h1v1h-1zM224 9h1v1h-1zM229 9h1v1h-1zM262 9h1v1h-1zM268 9h1v1h-1zM273 9h4v1h-4zM294 9h1v1h-1zM298 9h2v1h-2zM322 9h2v1h-2zM327 9h1v1h-1zM335 9h1v1h-1zM343 9h1v1h-1zM351 9h1v1h-1zM358 9h1v1h-1zM361 9h1v1h-1zM369 9h1v1h-1zM387 9h1v1h-1zM396 9h1v1h-1zM407 9h1v1h-1zM416 9h1v1h-1zM429 9h1v1h-1zM3 10h1v1h-1zM39 10h2v1h-2zM46 10h1v1h-1zM68 10h1v1h-1zM70 10h1v1h-1zM73 10h1v1h-1zM75 10h2v1h-2zM78 10h1v1h-1zM97 10h1v1h-1zM112 10h1v1h-1zM114 10h1v1h-1zM142 10h1v1h-1zM152 10h3v1h-3zM173 10h1v1h-1zM187 10h1v1h-1zM206 10h1v1h-1zM230 10h1v1h-1zM234 10h1v1h-1zM237 10h1v1h-1zM244 10h1v1h-1zM264 10h1v1h-1zM305 10h1v1h-1zM312 10h1v1h-1zM319 10h1v1h-1zM324 10h1v1h-1zM341 10h1v1h-1zM367 10h2v1h-2zM396 10h2v1h-2zM404 10h1v1h-1zM18 11h1v1h-1zM60 11h1v1h-1zM65 11h1v1h-1zM83 11h1v1h-1zM89 11h1v1h-1zM103 11h1v1h-1zM125 11h1v1h-1zM130 11h1v1h-1zM151 11h1v1h-1zM153 11h1v1h-1zM157 11h1v1h-1zM170 11h2v1h-2zM176 11h1v1h-1zM181 11h1v1h-1zM185 11h1v1h-1zM191 11h1v1h-1zM203 11h1v1h-1zM219 11h1v1h-1zM228 11h1v1h-1zM232 11h1v1h-1zM242 11h1v1h-1zM246 11h1v1h-1zM253 11h1v1h-1zM257 11h1v1h-1zM260 11h2v1h-2zM279 11h1v1h-1zM283 11h1v1h-1zM285 11h1v1h-1zM299 11h1v1h-1zM316 11h1v1h-1zM323 11h1v1h-1zM326 11h2v1h-2zM329 11h2v1h-2zM335 11h1v1h-1zM337 11h1v1h-1zM347 11h1v1h-1zM352 11h2v1h-2zM362 11h1v1h-1zM372 11h1v1h-1zM377 11h1v1h-1zM379 11h1v1h-1zM383 11h2v1h-2zM410 11h1v1h-1zM424 11h1v1h-1zM0 12h1v1h-1zM10 12h1v1h-1zM15 12h1v1h-1zM35 12h1v1h-1zM39 12h1v1h-1zM44 12h1v1h-1zM103 12h1v1h-1zM105 12h1v1h-1zM120 12h1v1h-1zM130 12h1v1h-1zM156 12h1v1h-1zM168 12h1v1h-1zM196 12h1v1h-1zM204 12h1v1h-1zM216 12h1v1h-1zM219 12h1v1h-1zM222 12h1v1h-1zM227 12h1v1h-1zM231 12h1v1h-1zM234 12h2v1h-2zM239 12h1v1h-1zM242 12h1v1h-1zM244 12h1v1h-1zM260 12h1v1h-1zM264 12h1v1h-1zM281 12h1v1h-1zM293 12h1v1h-1zM299 12h1v1h-1zM304 12h1v1h-1zM309 12h1v1h-1zM317 12h1v1h-1zM335 12h1v1h-1zM337 12h1v1h-1zM340 12h1v1h-1zM346 12h1v1h-1zM349 12h1v1h-1zM364 12h1v1h-1zM398 12h1v1h-1zM401 12h1v1h-1zM423 12h1v1h-1z"/>
<path fill="#ffefe9" d="M19 0h1v1h-1zM22 0h1v1h-1zM32 0h1v1h-1zM35 0h1v1h-1zM38 0h1v1h-1zM41 0h1v1h-1zM52 0h1v1h-1zM58 0h1v1h-1zM64 0h1v1h-1zM70 0h1v1h-1zM101 0h1v1h-1zM145 0h2v1h-2zM166 0h1v1h-1zM169 0h1v1h-1zM176 0h2v1h-2zM186 0h1v1h-1zM188 0h1v1h-1zM195 0h1v1h-1zM208 0h2v1h-2zM226 0h1v1h-1zM231 0h1v1h-1zM233 0h4v1h-4zM246 0h1v1h-1zM257 0h1v1h-1zM266 0h1v1h-1zM268 0h1v1h-1zM272 0h2v1h-2zM290 0h1v1h-1zM294 0h1v1h-1zM299 0h2v1h-2zM304 0h1v1h-1zM320 0h1v1h-1zM334 0h1v1h-1zM346 0h1v1h-1zM350 0h1v1h-1zM353 0h2v1h-2zM393 0h2v1h-2zM396 0h1v1h-1zM400 0h2v1h-2zM410 0h1v1h-1zM412 0h1v1h-1zM418 0h1v1h-1zM28 1h1v1h-1zM55 1h1v1h-1zM61 1h2v1h-2zM72 1h1v1h-1zM83 1h1v1h-1zM86 1h2v1h-2zM97 1h1v1h-1zM118 1h1v1h-1zM150 1h1v1h-1zM154 1h1v1h-1zM195 1h1v1h-1zM208 1h1v1h-1zM223 1h2v1h-2zM229 1h1v1h-1zM239 1h1v1h-1zM289 1h1v1h-1zM304 1h1v1h-1zM310 1h1v1h-1zM370 1h1v1h-1zM373 1h1v1h-1zM404 1h1v1h-1zM412 1h1v1h-1zM426 1h1v1h-1zM428 1h1v1h-1zM31 2h1v1h-1zM44 2h1v1h-1zM65 2h1v1h-1zM86 2h1v1h-1zM89 2h1v1h-1zM115 2h1v1h-1zM118 2h1v1h-1zM129 2h1v1h-1zM155 2h1v1h-1zM157 2h1v1h-1zM160 2h1v1h-1zM166 2h1v1h-1zM171 2h1v1h-1zM183 2h1v1h-1zM187 2h1v1h-1zM210 2h1v1h-1zM216 2h1v1h-1zM250 2h1v1h-1zM260 2h1v1h-1zM264 2h1v1h-1zM278 2h1v1h-1zM285 2h1v1h-1zM303 2h1v1h-1zM307 2h1v1h-1zM311 2h1v1h-1zM319 2h1v1h-1zM327 2h1v1h-1zM329 2h1v1h-1zM341 2h1v1h-1zM345 2h1v1h-1zM358 2h1v1h-1zM366 2h1v1h-1zM372 2h1v1h-1zM377 2h1v1h-1zM381 2h1v1h-1zM390 2h1v1h-1zM403 2h1v1h-1zM4 3h1v1h-1zM19 3h1v1h-1zM32 3h1v1h-1zM46 3h1v1h-1zM56 3h1v1h-1zM68 3h1v1h-1zM110 3h1v1h-1zM123 3h1v1h-1zM137 3h1v1h-1zM141 3h1v1h-1zM144 3h1v1h-1zM147 3h1v1h-1zM167 3h1v1h-1zM173 3h1v1h-1zM191 3h1v1h-1zM196 3h1v1h-1zM199 3h1v1h-1zM225 3h1v1h-1zM232 3h2v1h-2zM239 3h1v1h-1zM252 3h1v1h-1zM258 3h2v1h-2zM266 3h2v1h-2zM273 3h1v1h-1zM275 3h1v1h-1zM281 3h1v1h-1zM288 3h1v1h-1zM301 3h1v1h-1zM303 3h1v1h-1zM305 3h1v1h-1zM330 3h1v1h-1zM334 3h1v1h-1zM336 3h1v1h-1zM356 3h2v1h-2zM368 3h1v1h-1zM377 3h1v1h-1zM380 3h1v1h-1zM383 3h2v1h-2zM389 3h2v1h-2zM396 3h1v1h-1zM413 3h1v1h-1zM28 4h1v1h-1zM30 4h1v1h-1zM40 4h1v1h-1zM58 4h1v1h-1zM60 4h1v1h-1zM127 4h1v1h-1zM129 4h1v1h-1zM157 4h1v1h-1zM164 4h1v1h-1zM168 4h1v1h-1zM183 4h1v1h-1zM193 4h1v1h-1zM203 4h1v1h-1zM255 4h1v1h-1zM260 4h1v1h-1zM290 4h1v1h-1zM294 4h1v1h-1zM300 4h1v1h-1zM304 4h2v1h-2zM314 4h1v1h-1zM343 4h1v1h-1zM359 4h1v1h-1zM375 4h1v1h-1zM380 4h1v1h-1zM386 4h1v1h-1zM403 4h1v1h-1zM415 4h1v1h-1zM6 5h1v1h-1zM9 5h1v1h-1zM12 5h1v1h-1zM34 5h1v1h-1zM36 5h1v1h-1zM39 5h1v1h-1zM45 5h1v1h-1zM92 5h1v1h-1zM98 5h1v1h-1zM122 5h1v1h-1zM129 5h1v1h-1zM135 5h1v1h-1zM141 5h1v1h-1zM149 5h1v1h-1zM154 5h1v1h-1zM161 5h1v1h-1zM179 5h1v1h-1zM201 5h1v1h-1zM208 5h2v1h-2zM218 5h1v1h-1zM221 5h1v1h-1zM223 5h1v1h-1zM237 5h1v1h-1zM239 5h1v1h-1zM242 5h1v1h-1zM249 5h1v1h-1zM252 5h1v1h-1zM258 5h1v1h-1zM307 5h1v1h-1zM322 5h1v1h-1zM338 5h1v1h-1zM340 5h1v1h-1zM369 5h1v1h-1zM371 5h1v1h-1zM375 5h1v1h-1zM378 5h1v1h-1zM0 6h1v1h-1zM15 6h2v1h-2zM20 6h1v1h-1zM46 6h1v1h-1zM56 6h1v1h-1zM60 6h1v1h-1zM91 6h1v1h-1zM98 6h1v1h-1zM104 6h1v1h-1zM113 6h1v1h-1zM116 6h1v1h-1zM122 6h1v1h-1zM124 6h1v1h-1zM127 6h1v1h-1zM137 6h1v1h-1zM140 6h1v1h-1zM159 6h2v1h-2zM172 6h1v1h-1zM186 6h1v1h-1zM213 6h1v1h-1zM216 6h1v1h-1zM233 6h1v1h-1zM235 6h1v1h-1zM259 6h1v1h-1zM265 6h1v1h-1zM291 6h1v1h-1zM391 6h1v1h-1zM399 6h1v1h-1zM403 6h1v1h-1zM15 7h1v1h-1zM30 7h1v1h-1zM55 7h1v1h-1zM57 7h1v1h-1zM68 7h2v1h-2zM71 7h1v1h-1zM77 7h1v1h-1zM95 7h2v1h-2zM102 7h1v1h-1zM111 7h1v1h-1zM141 7h1v1h-1zM154 7h1v1h-1zM161 7h1v1h-1zM164 7h1v1h-1zM167 7h1v1h-1zM175 7h2v1h-2zM179 7h1v1h-1zM183 7h1v1h-1zM186 7h1v1h-1zM198 7h1v1h-1zM205 7h1v1h-1zM230 7h1v1h-1zM239 7h1v1h-1zM255 7h1v1h-1zM259 7h1v1h-1zM271 7h1v1h-1zM287 7h2v1h-2zM305 7h1v1h-1zM311 7h1v1h-1zM337 7h1v1h-1zM344 7h1v1h-1zM354 7h1v1h-1zM363 7h1v1h-1zM368 7h1v1h-1zM385 7h1v1h-1zM427 7h1v1h-1zM8 8h1v1h-1zM39 8h2v1h-2zM62 8h1v1h-1zM72 8h1v1h-1zM83 8h1v1h-1zM85 8h1v1h-1zM87 8h1v1h-1zM108 8h1v1h-1zM125 8h1v1h-1zM129 8h1v1h-1zM138 8h1v1h-1zM144 8h1v1h-1zM149 8h1v1h-1zM154 8h1v1h-1zM166 8h1v1h-1zM174 8h1v1h-1zM190 8h2v1h-2zM193 8h1v1h-1zM200 8h1v1h-1zM221 8h1v1h-1zM237 8h1v1h-1zM250 8h1v1h-1zM257 8h1v1h-1zM291 8h1v1h-1zM295 8h1v1h-1zM311 8h1v1h-1zM320 8h2v1h-2zM331 8h2v1h-2zM342 8h1v1h-1zM357 8h1v1h-1zM371 8h1v1h-1zM374 8h1v1h-1zM376 8h1v1h-1zM380 8h1v1h-1zM382 8h1v1h-1zM396 8h1v1h-1zM404 8h1v1h-1zM406 8h1v1h-1zM414 8h1v1h-1zM424 8h1v1h-1zM1 9h1v1h-1zM4 9h1v1h-1zM14 9h1v1h-1zM45 9h1v1h-1zM64 9h1v1h-1zM88 9h1v1h-1zM90 9h1v1h-1zM92 9h1v1h-1zM95 9h1v1h-1zM114 9h2v1h-2zM118 9h1v1h-1zM122 9h1v1h-1zM155 9h2v1h-2zM161 9h1v1h-1zM167 9h1v1h-1zM169 9h1v1h-1zM216 9h1v1h-1zM218 9h1v1h-1zM238 9h1v1h-1zM256 9h1v1h-1zM296 9h1v1h-1zM303 9h1v1h-1zM317 9h1v1h-1zM319 9h1v1h-1zM324 9h2v1h-2zM331 9h1v1h-1zM338 9h1v1h-1zM354 9h1v1h-1zM383 9h1v1h-1zM419 9h2v1h-2zM8 10h1v1h-1zM10 10h1v1h-1zM25 10h1v1h-1zM32 10h1v1h-1zM35 10h1v1h-1zM55 10h1v1h-1zM82 10h2v1h-2zM94 10h1v1h-1zM108 10h1v1h-1zM115 10h1v1h-1zM120 10h2v1h-2zM127 10h1v1h-1zM132 10h1v1h-1zM134 10h1v1h-1zM140 10h1v1h-1zM145 10h2v1h-2zM159 10h2v1h-2zM169 10h1v1h-1zM185 10h1v1h-1zM212 10h1v1h-1zM223 10h1v1h-1zM233 10h1v1h-1zM250 10h1v1h-1zM255 10h1v1h-1zM258 10h1v1h-1zM268 10h1v1h-1zM289 10h1v1h-1zM296 10h1v1h-1zM300 10h1v1h-1zM314 10h1v1h-1zM361 10h1v1h-1zM372 10h1v1h-1zM379 10h1v1h-1zM411 10h1v1h-1zM422 10h1v1h-1zM73 11h1v1h-1zM131 11h1v1h-1zM135 11h1v1h-1zM152 11h1v1h-1zM154 11h2v1h-2zM183 11h1v1h-1zM187 11h1v1h-1zM204 11h1v1h-1zM208 11h1v1h-1zM211 11h1v1h-1zM225 11h1v1h-1zM244 11h1v1h-1zM262 11h1v1h-1zM267 11h1v1h-1zM276 11h1v1h-1zM321 11h1v1h-1zM332 11h1v1h-1zM350 11h1v1h-1zM358 11h1v1h-1zM366 11h2v1h-2zM369 11h1v1h-1zM376 11h1v1h-1zM385 11h1v1h-1zM387 11h1v1h-1zM389 11h1v1h-1zM399 11h1v1h-1zM406 11h1v1h-1zM420 11h1v1h-1zM18 12h1v1h-1zM45 12h2v1h-2zM64 12h1v1h-1zM71 12h1v1h-1zM74 12h1v1h-1zM78 12h1v1h-1zM81 12h2v1h-2zM100 12h1v1h-1zM107 12h1v1h-1zM118 12h1v1h-1zM122 12h1v1h-1zM137 12h1v1h-1zM145 12h1v1h-1zM160 12h1v1h-1zM173 12h1v1h-1zM209 12h1v1h-1zM221 12h1v1h-1zM236 12h1v1h-1zM243 12h1v1h-1zM262 12h1v1h-1zM271 12h1v1h-1zM273 12h1v1h-1zM279 12h1v1h-1zM286 12h1v1h-1zM291 12h1v1h-1zM313 12h1v1h-1zM315 12h1v1h-1zM338 12h1v1h-1zM351 12h1v1h-1zM371 12h1v1h-1zM374 12h1v1h-1zM383 12h1v1h-1zM400 12h1v1h-1zM402 12h1v1h-1zM415 12h2v1h-2zM418 12h1v1h-1zM424 12h2v1h-2z"/>
<path fill="#ffe7df" d="M29 0h1v1h-1zM33 0h1v1h-1zM46 0h1v1h-1zM54 0h1v1h-1zM72 0h1v1h-1zM87 0h1v1h-1zM107 0h1v1h-1zM126 0h1v1h-1zM129 0h1v1h-1zM136 0h1v1h-1zM147 0h1v1h-1zM164 0h1v1h-1zM175 0h1v1h-1zM202 0h1v1h-1zM215 0h2v1h-2zM232 0h1v1h-1zM255 0h1v1h-1zM269 0h1v1h-1zM279 0h1v1h-1zM289 0h1v1h-1zM319 0h1v1h-1zM322 0h1v1h-1zM337 0h1v1h-1zM369 0h1v1h-1zM382 0h1v1h-1zM395 0h1v1h-1zM402 0h1v1h-1zM427 0h1v1h-1zM6 1h1v1h-1zM8 1h1v1h-1zM20 1h1v1h-1zM34 1h1v1h-1zM50 1h1v1h-1zM54 1h1v1h-1zM73 1h1v1h-1zM136 1h1v1h-1zM151 1h1v1h-1zM253 1h1v1h-1zM256 1h1v1h-1zM267 1h1v1h-1zM277 1h1v1h-1zM283 1h2v1h-2zM292 1h1v1h-1zM300 1h1v1h-1zM307 1h1v1h-1zM315 1h1v1h-1zM318 1h1v1h-1zM336 1h1v1h-1zM351 1h1v1h-1zM358 1h1v1h-1zM363 1h1v1h-1zM366 1h1v1h-1zM374 1h2v1h-2zM378 1h1v1h-1zM387 1h1v1h-1zM413 1h1v1h-1zM417 1h1v1h-1zM18 2h1v1h-1zM38 2h1v1h-1zM55 2h1v1h-1zM80 2h1v1h-1zM83 2h1v1h-1zM114 2h1v1h-1zM116 2h1v1h-1zM133 2h1v1h-1zM158 2h1v1h-1zM181 2h1v1h-1zM226 2h1v1h-1zM228 2h1v1h-1zM232 2h1v1h-1zM236 2h2v1h-2zM244 2h1v1h-1zM253 2h2v1h-2zM265 2h1v1h-1zM272 2h1v1h-1zM279 2h1v1h-1zM286 2h1v1h-1zM318 2h1v1h-1zM326 2h1v1h-1zM335 2h1v1h-1zM344 2h1v1h-1zM349 2h1v1h-1zM354 2h1v1h-1zM362 2h1v1h-1zM368 2h1v1h-1zM375 2h1v1h-1zM391 2h1v1h-1zM394 2h1v1h-1zM398 2h2v1h-2zM15 3h1v1h-1zM17 3h1v1h-1zM25 3h1v1h-1zM30 3h1v1h-1zM48 3h1v1h-1zM77 3h1v1h-1zM86 3h1v1h-1zM105 3h1v1h-1zM107 3h1v1h-1zM120 3h1v1h-1zM125 3h1v1h-1zM140 3h1v1h-1zM163 3h2v1h-2zM183 3h1v1h-1zM193 3h1v1h-1zM205 3h1v1h-1zM211 3h1v1h-1zM221 3h1v1h-1zM230 3h1v1h-1zM237 3h1v1h-1zM240 3h1v1h-1zM251 3h1v1h-1zM285 3h1v1h-1zM296 3h1v1h-1zM299 3h1v1h-1zM307 3h1v1h-1zM316 3h1v1h-1zM329 3h1v1h-1zM332 3h1v1h-1zM347 3h1v1h-1zM352 3h1v1h-1zM370 3h2v1h-2zM386 3h1v1h-1zM397 3h1v1h-1zM409 3h1v1h-1zM416 3h1v1h-1zM418 3h1v1h-1zM420 3h1v1h-1zM423 3h1v1h-1zM9 4h1v1h-1zM88 4h1v1h-1zM90 4h1v1h-1zM110 4h2v1h-2zM126 4h1v1h-1zM130 4h1v1h-1zM136 4h1v1h-1zM143 4h1v1h-1zM174 4h1v1h-1zM177 4h1v1h-1zM218 4h1v1h-1zM240 4h1v1h-1zM244 4h2v1h-2zM247 4h1v1h-1zM250 4h1v1h-1zM331 4h1v1h-1zM357 4h1v1h-1zM367 4h1v1h-1zM372 4h1v1h-1zM382 4h1v1h-1zM385 4h1v1h-1zM409 4h1v1h-1zM411 4h1v1h-1zM416 4h1v1h-1zM1 5h2v1h-2zM4 5h1v1h-1zM7 5h1v1h-1zM24 5h2v1h-2zM27 5h1v1h-1zM30 5h1v1h-1zM48 5h1v1h-1zM50 5h2v1h-2zM56 5h2v1h-2zM62 5h3v1h-3zM66 5h1v1h-1zM81 5h2v1h-2zM84 5h1v1h-1zM87 5h2v1h-2zM93 5h1v1h-1zM104 5h2v1h-2zM107 5h1v1h-1zM115 5h1v1h-1zM121 5h1v1h-1zM127 5h1v1h-1zM153 5h1v1h-1zM168 5h2v1h-2zM183 5h1v1h-1zM189 5h2v1h-2zM192 5h1v1h-1zM195 5h1v1h-1zM232 5h1v1h-1zM248 5h1v1h-1zM26 6h1v1h-1zM39 6h1v1h-1zM41 6h1v1h-1zM43 6h1v1h-1zM47 6h3v1h-3zM55 6h1v1h-1zM92 6h1v1h-1zM94 6h1v1h-1zM125 6h1v1h-1zM142 6h1v1h-1zM161 6h2v1h-2zM173 6h2v1h-2zM187 6h1v1h-1zM198 6h1v1h-1zM202 6h1v1h-1zM209 6h1v1h-1zM225 6h2v1h-2zM239 6h1v1h-1zM244 6h1v1h-1zM274 6h1v1h-1zM276 6h1v1h-1zM305 6h1v1h-1zM336 6h1v1h-1zM353 6h2v1h-2zM370 6h1v1h-1zM376 6h1v1h-1zM387 6h1v1h-1zM0 7h2v1h-2zM5 7h1v1h-1zM23 7h2v1h-2zM26 7h4v1h-4zM34 7h1v1h-1zM38 7h1v1h-1zM42 7h1v1h-1zM54 7h1v1h-1zM56 7h1v1h-1zM59 7h1v1h-1zM61 7h1v1h-1zM64 7h1v1h-1zM66 7h1v1h-1zM70 7h1v1h-1zM78 7h1v1h-1zM80 7h1v1h-1zM85 7h1v1h-1zM107 7h2v1h-2zM122 7h1v1h-1zM125 7h2v1h-2zM142 7h1v1h-1zM147 7h1v1h-1zM156 7h1v1h-1zM185 7h1v1h-1zM203 7h1v1h-1zM238 7h1v1h-1zM247 7h1v1h-1zM282 7h1v1h-1zM286 7h1v1h-1zM306 7h1v1h-1zM308 7h1v1h-1zM315 7h1v1h-1zM328 7h1v1h-1zM330 7h1v1h-1zM334 7h1v1h-1zM374 7h2v1h-2zM390 7h1v1h-1zM397 7h1v1h-1zM420 7h1v1h-1zM9 8h1v1h-1zM11 8h1v1h-1zM13 8h1v1h-1zM37 8h1v1h-1zM80 8h1v1h-1zM106 8h1v1h-1zM112 8h1v1h-1zM118 8h1v1h-1zM127 8h1v1h-1zM156 8h2v1h-2zM163 8h1v1h-1zM169 8h1v1h-1zM175 8h1v1h-1zM206 8h1v1h-1zM222 8h1v1h-1zM235 8h1v1h-1zM242 8h2v1h-2zM256 8h1v1h-1zM262 8h1v1h-1zM265 8h1v1h-1zM281 8h2v1h-2zM285 8h3v1h-3zM293 8h1v1h-1zM296 8h2v1h-2zM303 8h1v1h-1zM323 8h2v1h-2zM329 8h1v1h-1zM352 8h1v1h-1zM354 8h1v1h-1zM366 8h1v1h-1zM389 8h2v1h-2zM397 8h1v1h-1zM403 8h1v1h-1zM405 8h1v1h-1zM415 8h1v1h-1zM417 8h1v1h-1zM419 8h1v1h-1zM421 8h1v1h-1zM6 9h1v1h-1zM31 9h1v1h-1zM37 9h1v1h-1zM40 9h1v1h-1zM55 9h1v1h-1zM76 9h1v1h-1zM100 9h1v1h-1zM104 9h1v1h-1zM109 9h2v1h-2zM126 9h1v1h-1zM141 9h1v1h-1zM148 9h1v1h-1zM163 9h1v1h-1zM170 9h1v1h-1zM174 9h1v1h-1zM177 9h1v1h-1zM179 9h1v1h-1zM192 9h1v1h-1zM197 9h1v1h-1zM207 9h1v1h-1zM235 9h1v1h-1zM241 9h1v1h-1zM257 9h1v1h-1zM302 9h1v1h-1zM308 9h1v1h-1zM312 9h1v1h-1zM425 9h1v1h-1zM1 10h1v1h-1zM4 10h1v1h-1zM6 10h1v1h-1zM16 10h1v1h-1zM33 10h2v1h-2zM45 10h1v1h-1zM64 10h1v1h-1zM72 10h1v1h-1zM80 10h1v1h-1zM84 10h1v1h-1zM90 10h1v1h-1zM92 10h1v1h-1zM118 10h1v1h-1zM156 10h1v1h-1zM165 10h1v1h-1zM175 10h1v1h-1zM178 10h1v1h-1zM182 10h1v1h-1zM199 10h1v1h-1zM215 10h1v1h-1zM232 10h1v1h-1zM243 10h1v1h-1zM257 10h1v1h-1zM261 10h1v1h-1zM267 10h1v1h-1zM293 10h1v1h-1zM355 10h1v1h-1zM393 10h1v1h-1zM418 10h1v1h-1zM98 11h1v1h-1zM106 11h1v1h-1zM141 11h1v1h-1zM178 11h1v1h-1zM180 11h1v1h-1zM184 11h1v1h-1zM199 11h1v1h-1zM212 11h1v1h-1zM222 11h1v1h-1zM230 11h1v1h-1zM247 11h1v1h-1zM273 11h1v1h-1zM293 11h1v1h-1zM315 11h1v1h-1zM339 11h1v1h-1zM342 11h1v1h-1zM371 11h1v1h-1zM381 11h1v1h-1zM386 11h1v1h-1zM388 11h1v1h-1zM394 11h1v1h-1zM397 11h1v1h-1zM416 11h1v1h-1zM427 11h1v1h-1zM22 12h2v1h-2zM34 12h1v1h-1zM37 12h1v1h-1zM53 12h1v1h-1zM57 12h2v1h-2zM63 12h1v1h-1zM85 12h1v1h-1zM135 12h1v1h-1zM142 12h1v1h-1zM146 12h2v1h-2zM153 12h1v1h-1zM158 12h1v1h-1zM165 12h3v1h-3zM176 12h1v1h-1zM181 12h1v1h-1zM200 12h1v1h-1zM210 12h1v1h-1zM212 12h1v1h-1zM217 12h1v1h-1zM238 12h1v1h-1zM240 12h1v1h-1zM266 12h1v1h-1zM270 12h1v1h-1zM276 12h1v1h-1zM295 12h2v1h-2zM311 12h1v1h-1zM318 12h2v1h-2zM339 12h1v1h-1zM353 12h1v1h-1zM359 12h1v1h-1zM378 12h1v1h-1zM380 12h1v1h-1zM399 12h1v1h-1zM406 12h1v1h-1zM426 12h1v1h-1zM429 12h1v1h-1z"/>
<path fill="#ffdfd4" d="M6 0h1v1h-1zM18 0h1v1h-1zM45 0h1v1h-1zM59 0h1v1h-1zM91 0h1v1h-1zM133 0h1v1h-1zM220 0h1v1h-1zM223 0h1v1h-1zM242 0h1v1h-1zM277 0h1v1h-1zM297 0h1v1h-1zM312 0h1v1h-1zM315 0h1v1h-1zM317 0h1v1h-1zM332 0h1v1h-1zM340 0h1v1h-1zM351 0h2v1h-2zM361 0h1v1h-1zM364 0h1v1h-1zM373 0h2v1h-2zM376 0h1v1h-1zM383 0h3v1h-3zM408 0h1v1h-1zM417 0h1v1h-1zM419 0h1v1h-1zM16 1h1v1h-1zM30 1h1v1h-1zM38 1h1v1h-1zM53 1h1v1h-1zM56 1h1v1h-1zM75 1h1v1h-1zM81 1h1v1h-1zM104 1h1v1h-1zM144 1h1v1h-1zM170 1h1v1h-1zM190 1h1v1h-1zM196 1h2v1h-2zM205 1h1v1h-1zM213 1h1v1h-1zM243 1h1v1h-1zM245 1h1v1h-1zM269 1h1v1h-1zM274 1h1v1h-1zM295 1h1v1h-1zM302 1h1v1h-1zM325 1h1v1h-1zM334 1h1v1h-1zM340 1h1v1h-1zM356 1h1v1h-1zM380 1h1v1h-1zM384 1h1v1h-1zM425 1h1v1h-1zM34 2h1v1h-1zM112 2h1v1h-1zM136 2h1v1h-1zM161 2h1v1h-1zM186 2h1v1h-1zM202 2h1v1h-1zM248 2h1v1h-1zM294 2h1v1h-1zM306 2h1v1h-1zM324 2h2v1h-2zM359 2h1v1h-1zM387 2h2v1h-2zM419 2h1v1h-1zM424 2h2v1h-2zM7 3h1v1h-1zM133 3h1v1h-1zM160 3h1v1h-1zM162 3h1v1h-1zM172 3h1v1h-1zM176 3h1v1h-1zM186 3h1v1h-1zM200 3h2v1h-2zM207 3h2v1h-2zM213 3h1v1h-1zM229 3h1v1h-1zM231 3h1v1h-1zM241 3h1v1h-1zM262 3h1v1h-1zM268 3h1v1h-1zM289 3h1v1h-1zM295 3h1v1h-1zM302 3h1v1h-1zM315 3h1v1h-1zM382 3h1v1h-1zM399 3h1v1h-1zM404 3h2v1h-2zM408 3h1v1h-1zM412 3h1v1h-1zM426 3h1v1h-1zM44 4h1v1h-1zM78 4h1v1h-1zM121 4h1v1h-1zM196 4h1v1h-1zM219 4h2v1h-2zM251 4h1v1h-1zM253 4h1v1h-1zM301 4h1v1h-1zM311 4h1v1h-1zM319 4h1v1h-1zM323 4h1v1h-1zM333 4h1v1h-1zM335 4h2v1h-2zM344 4h1v1h-1zM361 4h1v1h-1zM366 4h1v1h-1zM369 4h1v1h-1zM374 4h1v1h-1zM379 4h1v1h-1zM399 4h1v1h-1zM401 4h1v1h-1zM406 4h1v1h-1zM412 4h1v1h-1zM417 4h1v1h-1zM3 5h1v1h-1zM11 5h1v1h-1zM29 5h1v1h-1zM31 5h1v1h-1zM69 5h1v1h-1zM76 5h1v1h-1zM83 5h1v1h-1zM85 5h1v1h-1zM103 5h1v1h-1zM128 5h1v1h-1zM132 5h1v1h-1zM146 5h1v1h-1zM151 5h1v1h-1zM155 5h1v1h-1zM164 5h2v1h-2zM173 5h1v1h-1zM200 5h1v1h-1zM226 5h1v1h-1zM260 5h1v1h-1zM263 5h1v1h-1zM265 5h1v1h-1zM270 5h1v1h-1zM276 5h1v1h-1zM308 5h1v1h-1zM317 5h2v1h-2zM345 5h1v1h-1zM415 5h1v1h-1zM2 6h1v1h-1zM5 6h1v1h-1zM23 6h1v1h-1zM25 6h1v1h-1zM38 6h1v1h-1zM58 6h1v1h-1zM64 6h1v1h-1zM69 6h1v1h-1zM86 6h1v1h-1zM101 6h1v1h-1zM119 6h1v1h-1zM141 6h1v1h-1zM148 6h1v1h-1zM185 6h1v1h-1zM196 6h1v1h-1zM205 6h1v1h-1zM217 6h1v1h-1zM236 6h1v1h-1zM240 6h1v1h-1zM249 6h1v1h-1zM275 6h1v1h-1zM279 6h1v1h-1zM338 6h1v1h-1zM347 6h1v1h-1zM367 6h1v1h-1zM3 7h1v1h-1zM8 7h1v1h-1zM18 7h1v1h-1zM37 7h1v1h-1zM47 7h1v1h-1zM65 7h1v1h-1zM79 7h1v1h-1zM120 7h1v1h-1zM124 7h1v1h-1zM128 7h2v1h-2zM139 7h1v1h-1zM150 7h1v1h-1zM152 7h1v1h-1zM166 7h1v1h-1zM169 7h1v1h-1zM212 7h1v1h-1zM217 7h1v1h-1zM318 7h1v1h-1zM327 7h1v1h-1zM339 7h2v1h-2zM357 7h1v1h-1zM371 7h1v1h-1zM373 7h1v1h-1zM381 7h1v1h-1zM391 7h1v1h-1zM4 8h1v1h-1zM51 8h1v1h-1zM57 8h1v1h-1zM102 8h1v1h-1zM111 8h1v1h-1zM117 8h1v1h-1zM155 8h1v1h-1zM158 8h1v1h-1zM160 8h1v1h-1zM168 8h1v1h-1zM176 8h1v1h-1zM189 8h1v1h-1zM197 8h1v1h-1zM215 8h2v1h-2zM233 8h1v1h-1zM236 8h1v1h-1zM240 8h1v1h-1zM244 8h2v1h-2zM251 8h2v1h-2zM261 8h1v1h-1zM280 8h1v1h-1zM283 8h1v1h-1zM327 8h1v1h-1zM346 8h1v1h-1zM365 8h1v1h-1zM373 8h1v1h-1zM377 8h1v1h-1zM381 8h1v1h-1zM383 8h1v1h-1zM391 8h1v1h-1zM394 8h1v1h-1zM420 8h1v1h-1zM35 9h1v1h-1zM42 9h1v1h-1zM63 9h1v1h-1zM71 9h1v1h-1zM73 9h1v1h-1zM96 9h1v1h-1zM98 9h1v1h-1zM102 9h1v1h-1zM112 9h1v1h-1zM121 9h1v1h-1zM133 9h1v1h-1zM137 9h1v1h-1zM180 9h2v1h-2zM183 9h1v1h-1zM187 9h1v1h-1zM190 9h1v1h-1zM202 9h1v1h-1zM217 9h1v1h-1zM220 9h1v1h-1zM255 9h1v1h-1zM305 9h1v1h-1zM345 9h1v1h-1zM385 9h1v1h-1zM404 9h1v1h-1zM9 10h1v1h-1zM27 10h1v1h-1zM36 10h2v1h-2zM43 10h2v1h-2zM47 10h1v1h-1zM69 10h1v1h-1zM79 10h1v1h-1zM95 10h1v1h-1zM135 10h1v1h-1zM149 10h1v1h-1zM151 10h1v1h-1zM170 10h1v1h-1zM172 10h1v1h-1zM194 10h1v1h-1zM203 10h1v1h-1zM220 10h1v1h-1zM245 10h1v1h-1zM249 10h1v1h-1zM251 10h1v1h-1zM260 10h1v1h-1zM275 10h1v1h-1zM278 10h1v1h-1zM340 10h1v1h-1zM401 10h1v1h-1zM413 10h1v1h-1zM5 11h1v1h-1zM15 11h1v1h-1zM114 11h1v1h-1zM192 11h1v1h-1zM200 11h1v1h-1zM217 11h1v1h-1zM233 11h1v1h-1zM235 11h1v1h-1zM237 11h1v1h-1zM252 11h1v1h-1zM270 11h1v1h-1zM278 11h1v1h-1zM286 11h1v1h-1zM304 11h1v1h-1zM308 11h1v1h-1zM319 11h1v1h-1zM322 11h1v1h-1zM328 11h1v1h-1zM341 11h1v1h-1zM364 11h1v1h-1zM370 11h1v1h-1zM392 11h1v1h-1zM412 11h1v1h-1zM415 11h1v1h-1zM421 11h1v1h-1zM70 12h1v1h-1zM80 12h1v1h-1zM143 12h1v1h-1zM157 12h1v1h-1zM185 12h1v1h-1zM202 12h1v1h-1zM267 12h1v1h-1zM285 12h1v1h-1zM302 12h1v1h-1zM322 12h1v1h-1zM343 12h1v1h-1zM365 12h1v1h-1zM386 12h1v1h-1zM390 12h1v1h-1zM392 12h1v1h-1zM409 12h1v1h-1zM412 12h1v1h-1z"/>
<path fill="#ffd8ca" d="M37 0h1v1h-1zM57 0h1v1h-1zM78 0h2v1h-2zM109 0h1v1h-1zM113 0h1v1h-1zM127 0h1v1h-1zM138 0h1v1h-1zM142 0h1v1h-1zM191 0h1v1h-1zM238 0h1v1h-1zM305 0h1v1h-1zM309 0h1v1h-1zM324 0h1v1h-1zM326 0h1v1h-1zM333 0h1v1h-1zM342 0h1v1h-1zM391 0h1v1h-1zM399 0h1v1h-1zM404 0h1v1h-1zM416 0h1v1h-1zM41 1h1v1h-1zM46 1h1v1h-1zM155 1h1v1h-1zM191 1h2v1h-2zM206 1h1v1h-1zM210 1h2v1h-2zM217 1h1v1h-1zM220 1h1v1h-1zM250 1h1v1h-1zM255 1h1v1h-1zM287 1h1v1h-1zM309 1h1v1h-1zM317 1h1v1h-1zM331 1h1v1h-1zM343 1h1v1h-1zM347 1h1v1h-1zM360 1h1v1h-1zM368 1h1v1h-1zM372 1h1v1h-1zM386 1h1v1h-1zM391 1h1v1h-1zM398 1h1v1h-1zM401 1h1v1h-1zM424 1h1v1h-1zM429 1h1v1h-1zM5 2h1v1h-1zM35 2h1v1h-1zM46 2h1v1h-1zM77 2h1v1h-1zM119 2h1v1h-1zM169 2h1v1h-1zM189 2h1v1h-1zM221 2h1v1h-1zM266 2h1v1h-1zM269 2h1v1h-1zM277 2h1v1h-1zM281 2h1v1h-1zM291 2h1v1h-1zM316 2h1v1h-1zM378 2h1v1h-1zM386 2h1v1h-1zM392 2h2v1h-2zM395 2h2v1h-2zM400 2h1v1h-1zM402 2h1v1h-1zM412 2h1v1h-1zM418 2h1v1h-1zM420 2h1v1h-1zM88 3h1v1h-1zM135 3h1v1h-1zM156 3h1v1h-1zM178 3h1v1h-1zM185 3h1v1h-1zM212 3h1v1h-1zM271 3h1v1h-1zM349 3h1v1h-1zM361 3h1v1h-1zM376 3h1v1h-1zM379 3h1v1h-1zM393 3h2v1h-2zM415 3h1v1h-1zM159 4h1v1h-1zM167 4h1v1h-1zM175 4h1v1h-1zM231 4h1v1h-1zM237 4h1v1h-1zM262 4h2v1h-2zM298 4h1v1h-1zM332 4h1v1h-1zM345 4h1v1h-1zM347 4h1v1h-1zM353 4h1v1h-1zM358 4h1v1h-1zM360 4h1v1h-1zM373 4h1v1h-1zM391 4h1v1h-1zM393 4h2v1h-2zM410 4h1v1h-1zM419 4h1v1h-1zM424 4h1v1h-1zM8 5h1v1h-1zM18 5h1v1h-1zM22 5h1v1h-1zM58 5h1v1h-1zM61 5h1v1h-1zM68 5h1v1h-1zM71 5h3v1h-3zM95 5h1v1h-1zM152 5h1v1h-1zM203 5h1v1h-1zM205 5h1v1h-1zM229 5h1v1h-1zM254 5h1v1h-1zM261 5h1v1h-1zM27 6h1v1h-1zM33 6h2v1h-2zM42 6h1v1h-1zM45 6h1v1h-1zM51 6h1v1h-1zM65 6h1v1h-1zM70 6h1v1h-1zM90 6h1v1h-1zM97 6h1v1h-1zM109 6h1v1h-1zM111 6h1v1h-1zM126 6h1v1h-1zM149 6h1v1h-1zM166 6h1v1h-1zM169 6h1v1h-1zM178 6h1v1h-1zM230 6h1v1h-1zM253 6h1v1h-1zM307 6h1v1h-1zM20 7h1v1h-1zM36 7h1v1h-1zM45 7h1v1h-1zM76 7h1v1h-1zM88 7h1v1h-1zM91 7h1v1h-1zM97 7h1v1h-1zM101 7h1v1h-1zM114 7h1v1h-1zM143 7h1v1h-1zM214 7h1v1h-1zM223 7h1v1h-1zM279 7h1v1h-1zM405 7h1v1h-1zM418 7h1v1h-1zM54 8h1v1h-1zM119 8h1v1h-1zM130 8h1v1h-1zM209 8h1v1h-1zM355 8h1v1h-1zM364 8h1v1h-1zM387 8h1v1h-1zM400 8h2v1h-2zM409 8h1v1h-1zM427 8h1v1h-1zM17 9h1v1h-1zM81 9h1v1h-1zM84 9h1v1h-1zM86 9h1v1h-1zM106 9h1v1h-1zM119 9h1v1h-1zM143 9h1v1h-1zM185 9h1v1h-1zM194 9h1v1h-1zM208 9h1v1h-1zM227 9h1v1h-1zM234 9h1v1h-1zM291 9h1v1h-1zM295 9h1v1h-1zM342 9h1v1h-1zM398 9h2v1h-2zM5 10h1v1h-1zM11 10h1v1h-1zM13 10h1v1h-1zM30 10h1v1h-1zM54 10h1v1h-1zM56 10h2v1h-2zM77 10h1v1h-1zM89 10h1v1h-1zM91 10h1v1h-1zM133 10h1v1h-1zM147 10h1v1h-1zM161 10h2v1h-2zM193 10h1v1h-1zM246 10h1v1h-1zM344 10h1v1h-1zM354 10h1v1h-1zM405 10h1v1h-1zM42 11h1v1h-1zM47 11h1v1h-1zM64 11h1v1h-1zM70 11h1v1h-1zM119 11h1v1h-1zM132 11h1v1h-1zM162 11h1v1h-1zM168 11h1v1h-1zM190 11h1v1h-1zM231 11h1v1h-1zM245 11h1v1h-1zM266 11h1v1h-1zM305 11h1v1h-1zM357 11h1v1h-1zM360 11h2v1h-2zM373 11h1v1h-1zM375 11h1v1h-1zM395 11h1v1h-1zM398 11h1v1h-1zM404 11h1v1h-1zM409 11h1v1h-1zM429 11h1v1h-1zM4 12h1v1h-1zM27 12h1v1h-1zM41 12h1v1h-1zM50 12h2v1h-2zM66 12h1v1h-1zM77 12h1v1h-1zM88 12h1v1h-1zM117 12h1v1h-1zM129 12h1v1h-1zM152 12h1v1h-1zM154 12h1v1h-1zM172 12h1v1h-1zM187 12h3v1h-3zM203 12h1v1h-1zM211 12h1v1h-1zM246 12h1v1h-1zM248 12h1v1h-1zM277 12h1v1h-1zM290 12h1v1h-1zM385 12h1v1h-1zM417 12h1v1h-1z"/>
<path fill="#ffd0bf" d="M10 0h1v1h-1zM92 0h1v1h-1zM131 0h1v1h-1zM323 0h1v1h-1zM335 0h1v1h-1zM344 0h1v1h-1zM362 0h1v1h-1zM386 0h1v1h-1zM405 0h1v1h-1zM409 0h1v1h-1zM411 0h1v1h-1zM79 1h1v1h-1zM173 1h1v1h-1zM177 1h1v1h-1zM194 1h1v1h-1zM199 1h1v1h-1zM236 1h1v1h-1zM249 1h1v1h-1zM257 1h1v1h-1zM329 1h1v1h-1zM342 1h1v1h-1zM365 1h1v1h-1zM379 1h1v1h-1zM382 1h1v1h-1zM393 1h4v1h-4zM405 1h1v1h-1zM415 1h1v1h-1zM419 1h1v1h-1zM142 2h1v1h-1zM289 2h1v1h-1zM365 2h1v1h-1zM405 2h1v1h-1zM422 2h1v1h-1zM188 3h1v1h-1zM263 3h1v1h-1zM276 3h1v1h-1zM293 3h1v1h-1zM328 3h1v1h-1zM338 3h1v1h-1zM345 3h1v1h-1zM400 3h1v1h-1zM411 3h1v1h-1zM424 3h2v1h-2zM427 3h1v1h-1zM19 4h1v1h-1zM222 4h1v1h-1zM265 4h1v1h-1zM315 4h1v1h-1zM396 4h1v1h-1zM13 5h2v1h-2zM28 5h1v1h-1zM106 5h1v1h-1zM136 5h1v1h-1zM212 5h1v1h-1zM220 5h1v1h-1zM22 6h1v1h-1zM32 6h1v1h-1zM62 6h1v1h-1zM68 6h1v1h-1zM103 6h1v1h-1zM107 6h1v1h-1zM115 6h1v1h-1zM120 6h1v1h-1zM297 6h1v1h-1zM359 6h1v1h-1zM364 6h1v1h-1zM13 7h1v1h-1zM32 7h2v1h-2zM41 7h1v1h-1zM49 7h1v1h-1zM73 7h1v1h-1zM110 7h1v1h-1zM131 7h1v1h-1zM134 7h1v1h-1zM192 7h1v1h-1zM195 7h1v1h-1zM263 7h1v1h-1zM310 7h1v1h-1zM336 7h1v1h-1zM351 7h1v1h-1zM364 7h1v1h-1zM22 8h1v1h-1zM121 8h1v1h-1zM181 8h1v1h-1zM211 8h1v1h-1zM232 8h1v1h-1zM270 8h1v1h-1zM337 8h1v1h-1zM384 8h1v1h-1zM388 8h1v1h-1zM416 8h1v1h-1zM20 9h1v1h-1zM33 9h1v1h-1zM57 9h2v1h-2zM67 9h1v1h-1zM144 9h1v1h-1zM232 9h1v1h-1zM318 9h1v1h-1zM348 9h1v1h-1zM14 10h1v1h-1zM21 10h2v1h-2zM48 10h1v1h-1zM51 10h1v1h-1zM86 10h1v1h-1zM93 10h1v1h-1zM123 10h1v1h-1zM150 10h1v1h-1zM176 10h1v1h-1zM204 10h1v1h-1zM210 10h1v1h-1zM308 10h1v1h-1zM322 10h1v1h-1zM118 11h1v1h-1zM320 11h1v1h-1zM325 11h1v1h-1zM374 11h1v1h-1zM402 11h1v1h-1zM426 11h1v1h-1zM428 11h1v1h-1zM29 12h1v1h-1zM56 12h1v1h-1zM96 12h1v1h-1zM101 12h1v1h-1zM112 12h1v1h-1zM121 12h1v1h-1zM197 12h1v1h-1zM223 12h1v1h-1zM232 12h1v1h-1zM268 12h1v1h-1zM312 12h1v1h-1zM325 12h1v1h-1zM341 12h1v1h-1z"/>
<path fill="#ffc8b5" d="M53 0h1v1h-1zM62 0h1v1h-1zM111 0h1v1h-1zM370 0h1v1h-1zM378 0h1v1h-1zM390 0h1v1h-1zM142 1h1v1h-1zM149 1h1v1h-1zM203 1h1v1h-1zM246 1h1v1h-1zM258 1h2v1h-2zM270 1h1v1h-1zM290 1h2v1h-2zM298 1h1v1h-1zM385 1h1v1h-1zM423 1h1v1h-1zM121 2h1v1h-1zM150 2h1v1h-1zM369 2h1v1h-1zM373 2h2v1h-2zM411 2h1v1h-1zM413 2h1v1h-1zM181 3h2v1h-2zM219 3h1v1h-1zM344 3h1v1h-1zM374 3h1v1h-1zM392 3h1v1h-1zM406 3h1v1h-1zM417 3h1v1h-1zM261 4h1v1h-1zM274 4h1v1h-1zM325 4h1v1h-1zM405 4h1v1h-1zM20 5h1v1h-1zM23 5h1v1h-1zM26 5h1v1h-1zM65 5h1v1h-1zM67 5h1v1h-1zM86 5h1v1h-1zM94 5h1v1h-1zM148 5h1v1h-1zM214 5h1v1h-1zM17 6h3v1h-3zM30 6h2v1h-2zM301 6h1v1h-1zM330 6h1v1h-1zM67 7h1v1h-1zM146 7h1v1h-1zM199 7h1v1h-1zM19 8h1v1h-1zM317 8h1v1h-1zM326 8h1v1h-1zM411 8h1v1h-1zM0 9h1v1h-1zM32 9h1v1h-1zM46 9h1v1h-1zM80 9h1v1h-1zM116 9h1v1h-1zM154 9h1v1h-1zM158 9h1v1h-1zM231 9h1v1h-1zM337 9h1v1h-1zM2 10h1v1h-1zM7 10h1v1h-1zM58 10h1v1h-1zM104 10h1v1h-1zM109 10h1v1h-1zM138 10h1v1h-1zM211 10h1v1h-1zM227 10h1v1h-1zM234 11h1v1h-1zM306 11h1v1h-1zM368 11h1v1h-1zM419 11h1v1h-1zM48 12h1v1h-1zM184 12h1v1h-1zM199 12h1v1h-1zM323 12h1v1h-1zM361 12h1v1h-1zM377 12h1v1h-1zM407 12h1v1h-1z"/>
<path fill="#ffc0ab" d="M130 0h1v1h-1zM372 0h1v1h-1zM406 0h1v1h-1zM415 0h1v1h-1zM425 0h1v1h-1zM354 1h1v1h-1zM408 1h2v1h-2zM411 1h1v1h-1zM113 2h1v1h-1zM172 2h1v1h-1zM190 2h1v1h-1zM314 2h1v1h-1zM338 2h1v1h-1zM348 2h1v1h-1zM401 2h1v1h-1zM226 3h1v1h-1zM292 3h1v1h-1zM311 3h1v1h-1zM360 3h1v1h-1zM365 3h1v1h-1zM414 3h1v1h-1zM327 4h1v1h-1zM349 4h1v1h-1zM368 4h1v1h-1zM387 4h1v1h-1zM395 4h1v1h-1zM398 4h1v1h-1zM414 4h1v1h-1zM35 5h1v1h-1zM38 5h1v1h-1zM46 5h1v1h-1zM134 5h1v1h-1zM253 5h1v1h-1zM28 6h1v1h-1zM130 6h1v1h-1zM9 7h1v1h-1zM177 8h1v1h-1zM231 8h1v1h-1zM318 8h1v1h-1zM379 8h1v1h-1zM94 9h1v1h-1zM211 9h1v1h-1zM20 10h1v1h-1zM62 10h1v1h-1zM163 10h1v1h-1zM180 10h1v1h-1zM242 10h1v1h-1zM254 10h1v1h-1zM169 11h1v1h-1zM291 11h1v1h-1zM338 11h1v1h-1zM344 11h1v1h-1zM363 11h1v1h-1zM417 11h1v1h-1zM87 12h1v1h-1zM193 12h1v1h-1zM347 12h1v1h-1z"/>
<path fill="#ffb7a0" d="M82 0h1v1h-1zM173 0h1v1h-1zM199 0h1v1h-1zM428 0h2v1h-2zM355 1h1v1h-1zM297 2h1v1h-1zM382 2h1v1h-1zM406 2h3v1h-3zM414 2h1v1h-1zM417 2h1v1h-1zM423 2h1v1h-1zM363 3h1v1h-1zM401 3h1v1h-1zM422 3h1v1h-1zM225 4h1v1h-1zM400 4h1v1h-1zM144 6h1v1h-1zM203 6h1v1h-1zM6 7h1v1h-1zM133 7h1v1h-1zM146 8h1v1h-1zM12 9h1v1h-1zM108 9h1v1h-1zM214 9h1v1h-1zM63 10h1v1h-1zM208 10h1v1h-1zM276 10h1v1h-1zM143 11h1v1h-1zM227 11h1v1h-1zM359 11h1v1h-1zM393 11h1v1h-1zM8 12h1v1h-1zM241 12h1v1h-1zM326 12h1v1h-1z"/>
<path fill="#ffaf96" d="M15 0h1v1h-1zM227 0h1v1h-1zM287 0h1v1h-1zM307 0h1v1h-1zM413 0h1v1h-1zM421 0h2v1h-2zM214 1h1v1h-1zM399 1h1v1h-1zM293 2h1v1h-1zM397 2h1v1h-1zM260 3h1v1h-1zM314 3h1v1h-1zM369 3h1v1h-1zM410 3h1v1h-1zM426 4h4v1h-4zM21 6h1v1h-1zM53 6h1v1h-1zM191 6h1v1h-1zM19 7h1v1h-1zM44 7h1v1h-1zM275 8h1v1h-1zM18 9h1v1h-1zM21 9h1v1h-1zM28 9h2v1h-2zM91 9h1v1h-1zM99 10h1v1h-1zM405 11h1v1h-1z"/>
<path fill="#ffa78c" d="M7 0h1v1h-1zM28 0h1v1h-1zM189 0h1v1h-1zM81 2h1v1h-1zM409 2h1v1h-1zM426 2h4v1h-4zM177 3h1v1h-1zM174 5h1v1h-1zM246 6h1v1h-1zM299 8h1v1h-1zM56 9h1v1h-1zM281 11h1v1h-1zM355 11h1v1h-1zM423 11h1v1h-1zM245 12h1v1h-1zM316 12h1v1h-1zM357 12h1v1h-1z"/>
<path fill="#ff9f82" d="M253 0h1v1h-1zM423 0h1v1h-1zM96 1h1v1h-1zM101 1h1v1h-1zM413 4h1v1h-1zM96 5h1v1h-1zM104 7h1v1h-1zM358 7h1v1h-1zM341 8h1v1h-1zM344 8h1v1h-1zM43 9h1v1h-1zM62 9h1v1h-1zM42 10h1v1h-1zM66 10h1v1h-1zM290 11h1v1h-1zM378 11h1v1h-1z"/>
<path fill="#ff9678" d="M47 5h1v1h-1zM296 5h1v1h-1zM206 6h1v1h-1zM288 8h1v1h-1zM72 9h1v1h-1z"/>
<path fill="#ff8e6f" d="M381 1h1v1h-1zM397 4h1v1h-1zM2 9h1v1h-1zM34 9h1v1h-1z"/>
<path fill="#ff8565" d="M224 2h1v1h-1zM171 4h1v1h-1zM47 9h1v1h-1zM50 9h1v1h-1z"/>
<path fill="#ff7c5b" d="M126 10h1v1h-1z"/>
<path fill="#ff6948" d="M23 9h1v1h-1z"/>
<path fill="#ff5434" d="M427 1h1v1h-1z"/>
<path fill="#ff482a" d="M377 9h1v1h-1z"/>
<path fill="#ff3a1f" d="M421 4h2v1h-2z"/>
</g></g>
<text x="1368.3" y="750.6" font-size="32" fill="#000" text-anchor="start" font-family="'Liberation Sans', Arial, Helvetica, sans-serif">Risk Group</text>
<rect x="1368.2" y="768" width="41.4" height="42.2" fill="#ff2400"/>
<rect x="1368.2" y="810.2" width="41.4" height="41.9" fill="#0030ff"/>
<text x="1424.3" y="800" font-size="29" fill="#000" text-anchor="start" font-family="'Liberation Sans', Arial, Helvetica, sans-serif">High</text>
<text x="1424.3" y="842.5" font-size="29" fill="#000" text-anchor="start" font-family="'Liberation Sans', Arial, Helvetica, sans-serif">Low</text>
<text x="1368.3" y="952.3" font-size="32" fill="#000" text-anchor="start" font-family="'Liberation Sans', Arial, Helvetica, sans-serif">Expression</text>
<defs><linearGradient id="cb" x1="0" y1="0" x2="0" y2="1">
<stop offset="0.000" stop-color="#ff0000"/>
<stop offset="0.025" stop-color="#ff2611"/>
<stop offset="0.050" stop-color="#ff391e"/>
<stop offset="0.075" stop-color="#ff4729"/>
<stop offset="0.100" stop-color="#ff5434"/>
<stop offset="0.125" stop-color="#ff5f3e"/>
<stop offset="0.150" stop-color="#ff6a49"/>
<stop offset="0.175" stop-color="#ff7453"/>
<stop offset="0.200" stop-color="#ff7e5d"/>
<stop offset="0.225" stop-color="#ff8767"/>
<stop offset="0.250" stop-color="#ff9071"/>
<stop offset="0.275" stop-color="#ff997c"/>
<stop offset="0.300" stop-color="#ffa286"/>
<stop offset="0.325" stop-color="#ffab91"/>
<stop offset="0.350" stop-color="#ffb39b"/>
<stop offset="0.375" stop-color="#ffbca6"/>
<stop offset="0.400" stop-color="#ffc4b1"/>
<stop offset="0.425" stop-color="#ffcdbc"/>
<stop offset="0.450" stop-color="#ffd5c7"/>
<stop offset="0.475" stop-color="#ffddd2"/>
<stop offset="0.500" stop-color="#ffe6dd"/>
<stop offset="0.525" stop-color="#ffeee8"/>
<stop offset="0.550" stop-color="#fff6f3"/>
<stop offset="0.575" stop-color="#fffffe"/>
<stop offset="0.600" stop-color="#faf5ff"/>
<stop offset="0.625" stop-color="#f4ebff"/>
<stop offset="0.650" stop-color="#eee1ff"/>
<stop offset="0.675" stop-color="#e8d7ff"/>
<stop offset="0.700" stop-color="#e1cdff"/>
<stop offset="0.725" stop-color="#dbc3ff"/>
<stop offset="0.750" stop-color="#d4b9ff"/>
<stop offset="0.775" stop-color="#cdafff"/>
<stop offset="0.800" stop-color="#c6a5ff"/>
<stop offset="0.825" stop-color="#bf9bff"/>
<stop offset="0.850" stop-color="#b791ff"/>
<stop offset="0.875" stop-color="#af87ff"/>
<stop offset="0.900" stop-color="#a77dff"/>
<stop offset="0.925" stop-color="#9f73ff"/>
<stop offset="0.950" stop-color="#9669ff"/>
<stop offset="0.975" stop-color="#8c5fff"/>
<stop offset="1.000" stop-color="#8255ff"/>
</linearGradient></defs>
<rect x="1367.7" y="968.8" width="42.2" height="211.5" fill="url(#cb)"/>
<line x1="1367.7" y1="969.7" x2="1376" y2="969.7" stroke="#fff" stroke-width="1.3"/>
<line x1="1401.6" y1="969.7" x2="1409.9" y2="969.7" stroke="#fff" stroke-width="1.3"/>
<text x="1424.5" y="979.7" font-size="28" fill="#000" text-anchor="start" font-family="'Liberation Sans', Arial, Helvetica, sans-serif">6</text>
<line x1="1367.7" y1="1010.1" x2="1376" y2="1010.1" stroke="#fff" stroke-width="1.3"/>
<line x1="1401.6" y1="1010.1" x2="1409.9" y2="1010.1" stroke="#fff" stroke-width="1.3"/>
<text x="1424.5" y="1020.1" font-size="28" fill="#000" text-anchor="start" font-family="'Liberation Sans', Arial, Helvetica, sans-serif">4</text>
<line x1="1367.7" y1="1050.5" x2="1376" y2="1050.5" stroke="#fff" stroke-width="1.3"/>
<line x1="1401.6" y1="1050.5" x2="1409.9" y2="1050.5" stroke="#fff" stroke-width="1.3"/>
<text x="1424.5" y="1060.5" font-size="28" fill="#000" text-anchor="start" font-family="'Liberation Sans', Arial, Helvetica, sans-serif">2</text>
<line x1="1367.7" y1="1090.9" x2="1376" y2="1090.9" stroke="#fff" stroke-width="1.3"/>
<line x1="1401.6" y1="1090.9" x2="1409.9" y2="1090.9" stroke="#fff" stroke-width="1.3"/>
<text x="1424.5" y="1100.9" font-size="28" fill="#000" text-anchor="start" font-family="'Liberation Sans', Arial, Helvetica, sans-serif">0</text>
<line x1="1367.7" y1="1131.3" x2="1376" y2="1131.3" stroke="#fff" stroke-width="1.3"/>
<line x1="1401.6" y1="1131.3" x2="1409.9" y2="1131.3" stroke="#fff" stroke-width="1.3"/>
<text x="1424.5" y="1141.3" font-size="28" fill="#000" text-anchor="start" font-family="'Liberation Sans', Arial, Helvetica, sans-serif">-2</text>
<line x1="1367.7" y1="1171.7" x2="1376" y2="1171.7" stroke="#fff" stroke-width="1.3"/>
<line x1="1401.6" y1="1171.7" x2="1409.9" y2="1171.7" stroke="#fff" stroke-width="1.3"/>
<text x="1424.5" y="1181.7" font-size="28" fill="#000" text-anchor="start" font-family="'Liberation Sans', Arial, Helvetica, sans-serif">-4</text>
<text x="377" y="1419.6" font-size="9.9" fill="#000" text-anchor="start" font-family="'Liberation Sans', Arial, Helvetica, sans-serif">Strata</text>
<line x1="411.7" y1="1416.2" x2="425.3" y2="1416.2" stroke="#ef6c64" stroke-width="1.9"/>
<line x1="418.5" y1="1412.8" x2="418.5" y2="1419.6" stroke="#ef6c64" stroke-width="1.5"/>
<text x="432.9" y="1419.6" font-size="9.9" fill="#000" text-anchor="start" font-family="'Liberation Sans', Arial, Helvetica, sans-serif">riskScore=high</text>
<line x1="507.5" y1="1416.2" x2="521" y2="1416.2" stroke="#08b6bd" stroke-width="1.9"/>
<line x1="514.2" y1="1412.8" x2="514.2" y2="1419.6" stroke="#08b6bd" stroke-width="1.5"/>
<text x="529" y="1419.6" font-size="9.9" fill="#000" text-anchor="start" font-family="'Liberation Sans', Arial, Helvetica, sans-serif">riskScore=low</text>
<line x1="211.6" y1="1442.5" x2="211.6" y2="1731.5" stroke="#000" stroke-width="1.3"/>
<line x1="211" y1="1730.9" x2="756.7" y2="1730.9" stroke="#000" stroke-width="1.3"/>
<line x1="207.6" y1="1455.7" x2="211.6" y2="1455.7" stroke="#000" stroke-width="1.2"/>
<text x="205.8" y="1460" font-size="11.8" fill="#000" text-anchor="end" font-family="'Liberation Sans', Arial, Helvetica, sans-serif">1.00</text>
<line x1="207.6" y1="1521.2" x2="211.6" y2="1521.2" stroke="#000" stroke-width="1.2"/>
<text x="205.8" y="1525.5" font-size="11.8" fill="#000" text-anchor="end" font-family="'Liberation Sans', Arial, Helvetica, sans-serif">0.75</text>
<line x1="207.6" y1="1586.7" x2="211.6" y2="1586.7" stroke="#000" stroke-width="1.2"/>
<text x="205.8" y="1591" font-size="11.8" fill="#000" text-anchor="end" font-family="'Liberation Sans', Arial, Helvetica, sans-serif">0.50</text>
<line x1="207.6" y1="1652.2" x2="211.6" y2="1652.2" stroke="#000" stroke-width="1.2"/>
<text x="205.8" y="1656.5" font-size="11.8" fill="#000" text-anchor="end" font-family="'Liberation Sans', Arial, Helvetica, sans-serif">0.25</text>
<line x1="207.6" y1="1717.7" x2="211.6" y2="1717.7" stroke="#000" stroke-width="1.2"/>
<text x="205.8" y="1722" font-size="11.8" fill="#000" text-anchor="end" font-family="'Liberation Sans', Arial, Helvetica, sans-serif">0.00</text>
<line x1="236.5" y1="1730.9" x2="236.5" y2="1734.9" stroke="#000" stroke-width="1.2"/>
<text x="236.5" y="1745.6" font-size="11.8" fill="#000" text-anchor="middle" font-family="'Liberation Sans', Arial, Helvetica, sans-serif">0</text>
<line x1="360.43" y1="1730.9" x2="360.43" y2="1734.9" stroke="#000" stroke-width="1.2"/>
<text x="360.43" y="1745.6" font-size="11.8" fill="#000" text-anchor="middle" font-family="'Liberation Sans', Arial, Helvetica, sans-serif">3</text>
<line x1="484.36" y1="1730.9" x2="484.36" y2="1734.9" stroke="#000" stroke-width="1.2"/>
<text x="484.36" y="1745.6" font-size="11.8" fill="#000" text-anchor="middle" font-family="'Liberation Sans', Arial, Helvetica, sans-serif">6</text>
<line x1="608.29" y1="1730.9" x2="608.29" y2="1734.9" stroke="#000" stroke-width="1.2"/>
<text x="608.29" y="1745.6" font-size="11.8" fill="#000" text-anchor="middle" font-family="'Liberation Sans', Arial, Helvetica, sans-serif">9</text>
<line x1="732.22" y1="1730.9" x2="732.22" y2="1734.9" stroke="#000" stroke-width="1.2"/>
<text x="732.22" y="1745.6" font-size="11.8" fill="#000" text-anchor="middle" font-family="'Liberation Sans', Arial, Helvetica, sans-serif">12</text>
<text x="484.1" y="1760.9" font-size="13.3" fill="#000" text-anchor="middle" font-family="'Liberation Sans', Arial, Helvetica, sans-serif">Time</text>
<text x="177" y="1586.75" font-size="14.2" fill="#000" text-anchor="middle" font-family="'Liberation Sans', Arial, Helvetica, sans-serif" transform="rotate(-90 177 1586.75)">Survival probability</text>
<text x="246" y="1671.1" font-size="14.0" fill="#000" text-anchor="start" font-family="'Liberation Sans', Arial, Helvetica, sans-serif">p &lt; 0.0001</text>
<path d="M235.8 1456.5H237.4V1456.7H241.3V1461.4H242.9V1464.6H246V1466.1H248.3V1468.5H253V1470H253.8V1477.9H255.4V1481.8H257.7V1484.9H262.4V1490.4H267.1V1495.1H271.8V1499H275V1502.9H279.6V1509.2H284.3V1515.4H290.6V1520.1H294.5V1527.2H302.3V1529.5H310.2V1531.9H318V1534.2H319.8V1537.1H323.8V1546.2H340V1548.4H345V1552.6H359.8V1555.6H364V1559.8H367V1565.3H369.5V1568.2H371.2V1571.6H383.8V1576.2H385.5V1581.3H388.8V1586.3H392.2V1591.8H405.3V1598.1H429.7V1606.9H449.5V1616.2H452.8V1625.4H463.3V1634.4H522.8V1646.2H580.9V1661.3H717.5V1661.3" fill="none" stroke="#ef6c64" stroke-width="2.05"/>
<path d="M235.8 1456.5H243V1459.9H253V1461H267.5V1463H269.5V1465.7H273V1467.7H282V1468.5H287V1470H301V1472.6H329.5V1474H336V1476H358.5V1479.8H406.5V1486.5H424.2V1494.1H445.9V1502.7H477.6V1513.5H516.4V1528.3H555.7V1552.2H721.8V1552.2" fill="none" stroke="#08b6bd" stroke-width="2.05"/>
<path d="M243.98 1461.2v6.8M241.38 1464.6h5.2M247.03 1462.7v6.8M244.43 1466.1h5.2M241.82 1458v6.8M239.22 1461.4h5.2M245.12 1461.2v6.8M242.52 1464.6h5.2M243.17 1461.2v6.8M240.57 1464.6h5.2M270.79 1491.7v6.8M268.19 1495.1h5.2M281.33 1505.8v6.8M278.73 1509.2h5.2M281.29 1505.8v6.8M278.69 1509.2h5.2M295.69 1523.8v6.8M293.09 1527.2h5.2M285.69 1512v6.8M283.09 1515.4h5.2M296.8 1523.8v6.8M294.2 1527.2h5.2M293.54 1516.7v6.8M290.94 1520.1h5.2M299.59 1523.8v6.8M296.99 1527.2h5.2M285.21 1512v6.8M282.61 1515.4h5.2M262.34 1481.5v6.8M259.74 1484.9h5.2M293.73 1516.7v6.8M291.13 1520.1h5.2M298.41 1523.8v6.8M295.81 1527.2h5.2M295.71 1523.8v6.8M293.11 1527.2h5.2M280.61 1505.8v6.8M278.01 1509.2h5.2M328.55 1542.8v6.8M325.95 1546.2h5.2M308.44 1526.1v6.8M305.84 1529.5h5.2M333.26 1542.8v6.8M330.66 1546.2h5.2M322.94 1533.7v6.8M320.34 1537.1h5.2M311.4 1528.5v6.8M308.8 1531.9h5.2M302.54 1526.1v6.8M299.94 1529.5h5.2M334.16 1542.8v6.8M331.56 1546.2h5.2M339.59 1542.8v6.8M336.99 1546.2h5.2M303.54 1526.1v6.8M300.94 1529.5h5.2M341 1545v6.8M338.4 1548.4h5.2M343 1545v6.8M340.4 1548.4h5.2M345 1549.2v6.8M342.4 1552.6h5.2M350 1549.2v6.8M347.4 1552.6h5.2M357 1549.2v6.8M354.4 1552.6h5.2M363.5 1552.2v6.8M360.9 1555.6h5.2M366 1556.4v6.8M363.4 1559.8h5.2M372 1568.2v6.8M369.4 1571.6h5.2M378 1568.2v6.8M375.4 1571.6h5.2M382 1568.2v6.8M379.4 1571.6h5.2M384 1572.8v6.8M381.4 1576.2h5.2M388 1577.9v6.8M385.4 1581.3h5.2M391 1582.9v6.8M388.4 1586.3h5.2M399.6 1588.4v6.8M397 1591.8h5.2M401.5 1588.4v6.8M398.9 1591.8h5.2M411.8 1594.7v6.8M409.2 1598.1h5.2M414.6 1594.7v6.8M412 1598.1h5.2M426 1594.7v6.8M423.4 1598.1h5.2M428.5 1594.7v6.8M425.9 1598.1h5.2M443.5 1603.5v6.8M440.9 1606.9h5.2M493 1631v6.8M490.4 1634.4h5.2M519.5 1631v6.8M516.9 1634.4h5.2M531 1642.8v6.8M528.4 1646.2h5.2M612.5 1657.9v6.8M609.9 1661.3h5.2M686.5 1657.9v6.8M683.9 1661.3h5.2M703.5 1657.9v6.8M700.9 1661.3h5.2M715.5 1657.9v6.8M712.9 1661.3h5.2" fill="none" stroke="#ef6c64" stroke-width="1.3"/>
<path d="M237.9 1453.1v6.8M235.3 1456.5h5.2M240.35 1453.1v6.8M237.75 1456.5h5.2M238.96 1453.1v6.8M236.36 1456.5h5.2M265.66 1457.6v6.8M263.06 1461h5.2M266.01 1457.6v6.8M263.41 1461h5.2M257.05 1457.6v6.8M254.45 1461h5.2M256.21 1457.6v6.8M253.61 1461h5.2M269.4 1459.6v6.8M266.8 1463h5.2M260.15 1457.6v6.8M257.55 1461h5.2M259.75 1457.6v6.8M257.15 1461h5.2M271.93 1462.3v6.8M269.33 1465.7h5.2M285.82 1465.1v6.8M283.22 1468.5h5.2M294.24 1466.6v6.8M291.64 1470h5.2M285.96 1465.1v6.8M283.36 1468.5h5.2M289.7 1466.6v6.8M287.1 1470h5.2M278.46 1464.3v6.8M275.86 1467.7h5.2M289.6 1466.6v6.8M287 1470h5.2M294.97 1466.6v6.8M292.37 1470h5.2M287.03 1466.6v6.8M284.43 1470h5.2M292.05 1466.6v6.8M289.45 1470h5.2M290.44 1466.6v6.8M287.84 1470h5.2M276.47 1464.3v6.8M273.87 1467.7h5.2M292.44 1466.6v6.8M289.84 1470h5.2M311.05 1469.2v6.8M308.45 1472.6h5.2M306.12 1469.2v6.8M303.52 1472.6h5.2M301.53 1469.2v6.8M298.93 1472.6h5.2M315.71 1469.2v6.8M313.11 1472.6h5.2M309.04 1469.2v6.8M306.44 1472.6h5.2M313.22 1469.2v6.8M310.62 1472.6h5.2M315.94 1469.2v6.8M313.34 1472.6h5.2M313.14 1469.2v6.8M310.54 1472.6h5.2M316.66 1469.2v6.8M314.06 1472.6h5.2M307.71 1469.2v6.8M305.11 1472.6h5.2M344.42 1472.6v6.8M341.82 1476h5.2M338 1472.6v6.8M335.4 1476h5.2M346.84 1472.6v6.8M344.24 1476h5.2M345.82 1472.6v6.8M343.22 1476h5.2M331.75 1470.6v6.8M329.15 1474h5.2M332.45 1470.6v6.8M329.85 1474h5.2M333.91 1470.6v6.8M331.31 1474h5.2M347.38 1472.6v6.8M344.78 1476h5.2M342.5 1472.6v6.8M339.9 1476h5.2M347.5 1472.6v6.8M344.9 1476h5.2M350 1472.6v6.8M347.4 1476h5.2M352.5 1472.6v6.8M349.9 1476h5.2M355 1472.6v6.8M352.4 1476h5.2M357.5 1472.6v6.8M354.9 1476h5.2M360 1476.4v6.8M357.4 1479.8h5.2M365 1476.4v6.8M362.4 1479.8h5.2M367 1476.4v6.8M364.4 1479.8h5.2M371 1476.4v6.8M368.4 1479.8h5.2M373 1476.4v6.8M370.4 1479.8h5.2M381 1476.4v6.8M378.4 1479.8h5.2M383 1476.4v6.8M380.4 1479.8h5.2M385 1476.4v6.8M382.4 1479.8h5.2M397.7 1476.4v6.8M395.1 1479.8h5.2M408.2 1483.1v6.8M405.6 1486.5h5.2M412.4 1483.1v6.8M409.8 1486.5h5.2M419 1483.1v6.8M416.4 1486.5h5.2M420.7 1483.1v6.8M418.1 1486.5h5.2M422.5 1483.1v6.8M419.9 1486.5h5.2M436.8 1490.7v6.8M434.2 1494.1h5.2M446 1499.3v6.8M443.4 1502.7h5.2M449 1499.3v6.8M446.4 1502.7h5.2M452 1499.3v6.8M449.4 1502.7h5.2M454 1499.3v6.8M451.4 1502.7h5.2M457 1499.3v6.8M454.4 1502.7h5.2M460 1499.3v6.8M457.4 1502.7h5.2M482 1510.1v6.8M479.4 1513.5h5.2M497.6 1510.1v6.8M495 1513.5h5.2M505 1510.1v6.8M502.4 1513.5h5.2M510.6 1510.1v6.8M508 1513.5h5.2M529.7 1524.9v6.8M527.1 1528.3h5.2M540 1524.9v6.8M537.4 1528.3h5.2M552 1524.9v6.8M549.4 1528.3h5.2M563.7 1548.8v6.8M561.1 1552.2h5.2M574.5 1548.8v6.8M571.9 1552.2h5.2M639.3 1548.8v6.8M636.7 1552.2h5.2M648.7 1548.8v6.8M646.1 1552.2h5.2M694.8 1548.8v6.8M692.2 1552.2h5.2M719.7 1548.8v6.8M717.1 1552.2h5.2" fill="none" stroke="#08b6bd" stroke-width="1.3"/>
<text x="268.8" y="1787.5" font-size="15.8" fill="#000" text-anchor="start" font-family="'Liberation Sans', Arial, Helvetica, sans-serif">Number at risk</text>
<line x1="268.2" y1="1797.3" x2="268.2" y2="1863.2" stroke="#000" stroke-width="1.3"/>
<line x1="267.6" y1="1862.6" x2="756.7" y2="1862.6" stroke="#000" stroke-width="1.3"/>
<line x1="264.2" y1="1814.9" x2="268.2" y2="1814.9" stroke="#000" stroke-width="1.2"/>
<line x1="264.2" y1="1844.8" x2="268.2" y2="1844.8" stroke="#000" stroke-width="1.2"/>
<text x="262.2" y="1819.3" font-size="12.0" fill="#ef6c64" text-anchor="end" font-family="'Liberation Sans', Arial, Helvetica, sans-serif">riskScore=high</text>
<text x="262.2" y="1849.2" font-size="12.0" fill="#08b6bd" text-anchor="end" font-family="'Liberation Sans', Arial, Helvetica, sans-serif">riskScore=low</text>
<text x="177.2" y="1829.6" font-size="13.5" fill="#000" text-anchor="middle" font-family="'Liberation Sans', Arial, Helvetica, sans-serif" transform="rotate(-90 177.2 1829.6)">Strata</text>
<text x="290.5" y="1819.5" font-size="12.5" fill="#000" text-anchor="middle" font-family="'Liberation Sans', Arial, Helvetica, sans-serif">186</text>
<text x="290.5" y="1849.7" font-size="12.5" fill="#000" text-anchor="middle" font-family="'Liberation Sans', Arial, Helvetica, sans-serif">244</text>
<line x1="290.5" y1="1862.6" x2="290.5" y2="1866.6" stroke="#000" stroke-width="1.2"/>
<text x="290.5" y="1877.3" font-size="12.4" fill="#000" text-anchor="middle" font-family="'Liberation Sans', Arial, Helvetica, sans-serif">0</text>
<text x="401.44" y="1819.5" font-size="12.5" fill="#000" text-anchor="middle" font-family="'Liberation Sans', Arial, Helvetica, sans-serif">44</text>
<text x="401.44" y="1849.7" font-size="12.5" fill="#000" text-anchor="middle" font-family="'Liberation Sans', Arial, Helvetica, sans-serif">62</text>
<line x1="401.44" y1="1862.6" x2="401.44" y2="1866.6" stroke="#000" stroke-width="1.2"/>
<text x="401.44" y="1877.3" font-size="12.4" fill="#000" text-anchor="middle" font-family="'Liberation Sans', Arial, Helvetica, sans-serif">3</text>
<text x="512.38" y="1819.5" font-size="12.5" fill="#000" text-anchor="middle" font-family="'Liberation Sans', Arial, Helvetica, sans-serif">9</text>
<text x="512.38" y="1849.7" font-size="12.5" fill="#000" text-anchor="middle" font-family="'Liberation Sans', Arial, Helvetica, sans-serif">17</text>
<line x1="512.38" y1="1862.6" x2="512.38" y2="1866.6" stroke="#000" stroke-width="1.2"/>
<text x="512.38" y="1877.3" font-size="12.4" fill="#000" text-anchor="middle" font-family="'Liberation Sans', Arial, Helvetica, sans-serif">6</text>
<text x="623.32" y="1819.5" font-size="12.5" fill="#000" text-anchor="middle" font-family="'Liberation Sans', Arial, Helvetica, sans-serif">4</text>
<text x="623.32" y="1849.7" font-size="12.5" fill="#000" text-anchor="middle" font-family="'Liberation Sans', Arial, Helvetica, sans-serif">5</text>
<line x1="623.32" y1="1862.6" x2="623.32" y2="1866.6" stroke="#000" stroke-width="1.2"/>
<text x="623.32" y="1877.3" font-size="12.4" fill="#000" text-anchor="middle" font-family="'Liberation Sans', Arial, Helvetica, sans-serif">9</text>
<text x="734.26" y="1819.5" font-size="12.5" fill="#000" text-anchor="middle" font-family="'Liberation Sans', Arial, Helvetica, sans-serif">0</text>
<text x="734.26" y="1849.7" font-size="12.5" fill="#000" text-anchor="middle" font-family="'Liberation Sans', Arial, Helvetica, sans-serif">0</text>
<line x1="734.26" y1="1862.6" x2="734.26" y2="1866.6" stroke="#000" stroke-width="1.2"/>
<text x="734.26" y="1877.3" font-size="12.4" fill="#000" text-anchor="middle" font-family="'Liberation Sans', Arial, Helvetica, sans-serif">12</text>
<text x="512.5" y="1892.7" font-size="13.5" fill="#000" text-anchor="middle" font-family="'Liberation Sans', Arial, Helvetica, sans-serif">Time</text>
<rect x="957.5" y="1403.5" width="428.9000000000001" height="422.29999999999995" fill="none" stroke="#000" stroke-width="1.5"/>
<line x1="948.7" y1="1810.2" x2="957.5" y2="1810.2" stroke="#000" stroke-width="1.3"/>
<text x="937.2" y="1810.2" font-size="14.2" fill="#000" text-anchor="middle" font-family="'Liberation Sans', Arial, Helvetica, sans-serif" transform="rotate(-90 937.2 1810.2)">0.0</text>
<line x1="973.4" y1="1825.8" x2="973.4" y2="1834.7" stroke="#000" stroke-width="1.3"/>
<text x="973.4" y="1856.9" font-size="14.2" fill="#000" text-anchor="middle" font-family="'Liberation Sans', Arial, Helvetica, sans-serif">0.0</text>
<line x1="948.7" y1="1732.02" x2="957.5" y2="1732.02" stroke="#000" stroke-width="1.3"/>
<text x="937.2" y="1732.02" font-size="14.2" fill="#000" text-anchor="middle" font-family="'Liberation Sans', Arial, Helvetica, sans-serif" transform="rotate(-90 937.2 1732.02)">0.2</text>
<line x1="1052.8" y1="1825.8" x2="1052.8" y2="1834.7" stroke="#000" stroke-width="1.3"/>
<text x="1052.8" y="1856.9" font-size="14.2" fill="#000" text-anchor="middle" font-family="'Liberation Sans', Arial, Helvetica, sans-serif">0.2</text>
<line x1="948.7" y1="1653.84" x2="957.5" y2="1653.84" stroke="#000" stroke-width="1.3"/>
<text x="937.2" y="1653.84" font-size="14.2" fill="#000" text-anchor="middle" font-family="'Liberation Sans', Arial, Helvetica, sans-serif" transform="rotate(-90 937.2 1653.84)">0.4</text>
<line x1="1132.2" y1="1825.8" x2="1132.2" y2="1834.7" stroke="#000" stroke-width="1.3"/>
<text x="1132.2" y="1856.9" font-size="14.2" fill="#000" text-anchor="middle" font-family="'Liberation Sans', Arial, Helvetica, sans-serif">0.4</text>
<line x1="948.7" y1="1575.66" x2="957.5" y2="1575.66" stroke="#000" stroke-width="1.3"/>
<text x="937.2" y="1575.66" font-size="14.2" fill="#000" text-anchor="middle" font-family="'Liberation Sans', Arial, Helvetica, sans-serif" transform="rotate(-90 937.2 1575.66)">0.6</text>
<line x1="1211.6" y1="1825.8" x2="1211.6" y2="1834.7" stroke="#000" stroke-width="1.3"/>
<text x="1211.6" y="1856.9" font-size="14.2" fill="#000" text-anchor="middle" font-family="'Liberation Sans', Arial, Helvetica, sans-serif">0.6</text>
<line x1="948.7" y1="1497.48" x2="957.5" y2="1497.48" stroke="#000" stroke-width="1.3"/>
<text x="937.2" y="1497.48" font-size="14.2" fill="#000" text-anchor="middle" font-family="'Liberation Sans', Arial, Helvetica, sans-serif" transform="rotate(-90 937.2 1497.48)">0.8</text>
<line x1="1291" y1="1825.8" x2="1291" y2="1834.7" stroke="#000" stroke-width="1.3"/>
<text x="1291" y="1856.9" font-size="14.2" fill="#000" text-anchor="middle" font-family="'Liberation Sans', Arial, Helvetica, sans-serif">0.8</text>
<line x1="948.7" y1="1419.3" x2="957.5" y2="1419.3" stroke="#000" stroke-width="1.3"/>
<text x="937.2" y="1419.3" font-size="14.2" fill="#000" text-anchor="middle" font-family="'Liberation Sans', Arial, Helvetica, sans-serif" transform="rotate(-90 937.2 1419.3)">1.0</text>
<line x1="1370.4" y1="1825.8" x2="1370.4" y2="1834.7" stroke="#000" stroke-width="1.3"/>
<text x="1370.4" y="1856.9" font-size="14.2" fill="#000" text-anchor="middle" font-family="'Liberation Sans', Arial, Helvetica, sans-serif">1.0</text>
<text x="902.7" y="1614.75" font-size="14.3" fill="#000" text-anchor="middle" font-family="'Liberation Sans', Arial, Helvetica, sans-serif" transform="rotate(-90 902.7 1614.75)">Sensitivity</text>
<text x="1172" y="1891.3" font-size="14.3" fill="#000" text-anchor="middle" font-family="'Liberation Sans', Arial, Helvetica, sans-serif">1-Specificity</text>
<line x1="957.5" y1="1825.8" x2="1386.4" y2="1403.5" stroke="#000" stroke-width="1.4" stroke-dasharray="8 5"/>
<path d="M975.1 1810.4H975.7V1783H976.4V1755H979.2V1746.1H980.5V1726.9H982.6V1718.7H991.5V1709.2H994.2V1692H998.3V1681.8H1003.8V1672.2H1025.7V1663.3H1033.2V1654.4H1041.4V1636.6H1046.2V1618.8H1047.6V1601H1056.5V1582.6H1065.7V1573.6H1100.6V1563.9H1103.1V1537.1H1108.8V1528H1121.6V1519.3H1126.2V1510H1143.8V1500.6H1169.5V1491.9H1173.2V1482.4H1195.3V1472.6H1200.5V1455.5H1227.2V1445.9H1227.8V1436.7H1297V1428.8H1355.5V1421.2H1370.3V1419.3" fill="none" stroke="#e82212" stroke-width="2"/>
<path d="M973 1810.4H973V1762.5H982.6V1719.4H992.8V1714.6H1003.5V1660.6H1032.8V1620.9H1042.8V1599.7H1053.1V1596.3H1060V1596.3H1072.3V1582.3H1082.4V1560H1092.4V1510.7H1102.2V1504.9H1112.2V1488.5H1151.7V1477.3H1181.6V1472.3H1201.2V1464.1H1231.3V1438.6H1242.3V1435.9H1291.6V1432.9H1301.2V1424.7H1321V1421.6H1370.3V1419.9" fill="none" stroke="#8e1fdc" stroke-width="2"/>
<path d="M973.7 1810.4H977.1V1770H981.2V1746.8H984.6V1716.7H988.7V1703.7H992.8V1694.1H1000.4V1681.1H1003.8V1651.7H1007.9V1642.1H1011.3V1631.8H1015.4V1627.7H1027.1V1614.1H1034.6V1581.2H1038V1566.8H1060.9V1562.7H1083.7V1555.6H1103.6V1550.8H1107V1537.6H1114.8V1533H1122.3V1526.4H1133.7V1508.8H1141.5V1498.8H1156.7V1494.2H1187.5V1484.9H1191V1480.8H1195.1V1475.6H1214V1467.1H1221.8V1454.1H1236.8V1447.7H1240.9V1442.7H1244.6V1437.7H1248.4V1433.6H1294.3V1428.1H1309.4V1423.6H1355.9V1419.2H1370.3V1419.2" fill="none" stroke="#1426e6" stroke-width="2"/>
<text x="1105.6" y="1737.4" font-size="14.3" fill="#000" text-anchor="start" font-family="'Liberation Sans', Arial, Helvetica, sans-serif" style="white-space:pre">1-Year AUC =  0.745</text>
<text x="1105.6" y="1756.9" font-size="14.3" fill="#000" text-anchor="start" font-family="'Liberation Sans', Arial, Helvetica, sans-serif" style="white-space:pre">3-Year AUC =  0.761</text>
<text x="1105.6" y="1776.4" font-size="14.3" fill="#000" text-anchor="start" font-family="'Liberation Sans', Arial, Helvetica, sans-serif" style="white-space:pre">5-Year AUC =  0.762</text>
<rect x="1253.3" y="1735" width="133.1" height="90.8" fill="#fff" stroke="#000" stroke-width="1.3"/>
<line x1="1269.5" y1="1758" x2="1304.8" y2="1758" stroke="#e82212" stroke-width="2"/>
<text x="1321.8" y="1763" font-size="14.3" fill="#000" text-anchor="start" font-family="'Liberation Sans', Arial, Helvetica, sans-serif">1-Year</text>
<line x1="1269.5" y1="1780.7" x2="1304.8" y2="1780.7" stroke="#1426e6" stroke-width="2"/>
<text x="1321.8" y="1785.7" font-size="14.3" fill="#000" text-anchor="start" font-family="'Liberation Sans', Arial, Helvetica, sans-serif">3-Year</text>
<line x1="1269.5" y1="1803.4" x2="1304.8" y2="1803.4" stroke="#8e1fdc" stroke-width="2"/>
<text x="1321.8" y="1808.4" font-size="14.3" fill="#000" text-anchor="start" font-family="'Liberation Sans', Arial, Helvetica, sans-serif">5-Year</text>
</svg></body></html>
